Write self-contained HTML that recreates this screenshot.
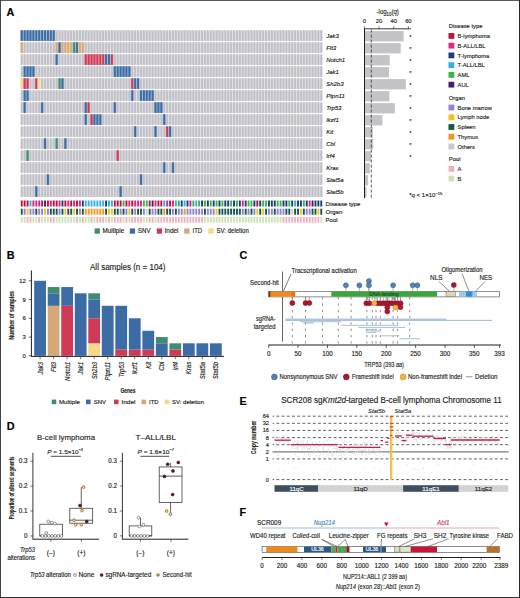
<!DOCTYPE html>
<html><head><meta charset="utf-8"><title>Figure</title>
<style>
html,body{margin:0;padding:0;background:#fff;}
svg{display:block;}
text{font-family:"Liberation Sans",sans-serif;fill:#231f20;stroke:#231f20;stroke-width:0.15px;}
</style></head><body>
<svg width="520" height="598" viewBox="0 0 520 598">
<rect x="0" y="0" width="520" height="598" fill="#fff"/>
<text x="6.60" y="15.80" font-size="10.8" font-weight="bold" style="fill:#000;stroke:#000">A</text>
<rect x="20.60" y="30.30" width="301.82" height="10.60" fill="#e3e3e8" />
<rect x="20.30" y="30.30" width="2.90" height="10.60" fill="#93aece" />
<rect x="20.80" y="30.30" width="1.90" height="10.60" fill="#3b6ca6" />
<rect x="23.21" y="30.30" width="2.90" height="10.60" fill="#93aece" />
<rect x="23.71" y="30.30" width="1.90" height="10.60" fill="#3b6ca6" />
<rect x="26.12" y="30.30" width="2.90" height="10.60" fill="#93aece" />
<rect x="26.62" y="30.30" width="1.90" height="10.60" fill="#3b6ca6" />
<rect x="29.02" y="30.30" width="2.90" height="10.60" fill="#93aece" />
<rect x="29.52" y="30.30" width="1.90" height="10.60" fill="#3b6ca6" />
<rect x="31.93" y="30.30" width="2.90" height="10.60" fill="#93aece" />
<rect x="32.43" y="30.30" width="1.90" height="10.60" fill="#3b6ca6" />
<rect x="34.84" y="30.30" width="2.90" height="10.60" fill="#93aece" />
<rect x="35.34" y="30.30" width="1.90" height="10.60" fill="#3b6ca6" />
<rect x="37.75" y="30.30" width="2.90" height="10.60" fill="#93aece" />
<rect x="38.25" y="30.30" width="1.90" height="10.60" fill="#3b6ca6" />
<rect x="40.66" y="30.30" width="2.90" height="10.60" fill="#93aece" />
<rect x="41.16" y="30.30" width="1.90" height="10.60" fill="#3b6ca6" />
<rect x="43.56" y="30.30" width="2.90" height="10.60" fill="#93aece" />
<rect x="44.06" y="30.30" width="1.90" height="10.60" fill="#3b6ca6" />
<rect x="46.47" y="30.30" width="2.90" height="10.60" fill="#93aece" />
<rect x="46.97" y="30.30" width="1.90" height="10.60" fill="#3b6ca6" />
<rect x="49.38" y="30.30" width="2.90" height="10.60" fill="#93aece" />
<rect x="49.88" y="30.30" width="1.90" height="10.60" fill="#3b6ca6" />
<rect x="52.29" y="30.30" width="2.90" height="10.60" fill="#93aece" />
<rect x="52.79" y="30.30" width="1.90" height="10.60" fill="#3b6ca6" />
<rect x="55.70" y="30.30" width="1.90" height="10.60" fill="#bfbfc5" />
<rect x="58.60" y="30.30" width="1.90" height="10.60" fill="#bfbfc5" />
<rect x="61.51" y="30.30" width="1.90" height="10.60" fill="#bfbfc5" />
<rect x="64.42" y="30.30" width="1.90" height="10.60" fill="#bfbfc5" />
<rect x="67.33" y="30.30" width="1.90" height="10.60" fill="#bfbfc5" />
<rect x="70.24" y="30.30" width="1.90" height="10.60" fill="#bfbfc5" />
<rect x="73.14" y="30.30" width="1.90" height="10.60" fill="#bfbfc5" />
<rect x="76.05" y="30.30" width="1.90" height="10.60" fill="#bfbfc5" />
<rect x="78.96" y="30.30" width="1.90" height="10.60" fill="#bfbfc5" />
<rect x="81.87" y="30.30" width="1.90" height="10.60" fill="#bfbfc5" />
<rect x="84.78" y="30.30" width="1.90" height="10.60" fill="#bfbfc5" />
<rect x="87.68" y="30.30" width="1.90" height="10.60" fill="#bfbfc5" />
<rect x="90.59" y="30.30" width="1.90" height="10.60" fill="#bfbfc5" />
<rect x="93.50" y="30.30" width="1.90" height="10.60" fill="#bfbfc5" />
<rect x="96.41" y="30.30" width="1.90" height="10.60" fill="#bfbfc5" />
<rect x="99.32" y="30.30" width="1.90" height="10.60" fill="#bfbfc5" />
<rect x="102.22" y="30.30" width="1.90" height="10.60" fill="#bfbfc5" />
<rect x="105.13" y="30.30" width="1.90" height="10.60" fill="#bfbfc5" />
<rect x="108.04" y="30.30" width="1.90" height="10.60" fill="#bfbfc5" />
<rect x="110.95" y="30.30" width="1.90" height="10.60" fill="#bfbfc5" />
<rect x="113.86" y="30.30" width="1.90" height="10.60" fill="#bfbfc5" />
<rect x="116.76" y="30.30" width="1.90" height="10.60" fill="#bfbfc5" />
<rect x="119.67" y="30.30" width="1.90" height="10.60" fill="#bfbfc5" />
<rect x="122.58" y="30.30" width="1.90" height="10.60" fill="#bfbfc5" />
<rect x="125.49" y="30.30" width="1.90" height="10.60" fill="#bfbfc5" />
<rect x="128.40" y="30.30" width="1.90" height="10.60" fill="#bfbfc5" />
<rect x="131.30" y="30.30" width="1.90" height="10.60" fill="#bfbfc5" />
<rect x="134.21" y="30.30" width="1.90" height="10.60" fill="#bfbfc5" />
<rect x="137.12" y="30.30" width="1.90" height="10.60" fill="#bfbfc5" />
<rect x="140.03" y="30.30" width="1.90" height="10.60" fill="#bfbfc5" />
<rect x="142.94" y="30.30" width="1.90" height="10.60" fill="#bfbfc5" />
<rect x="145.84" y="30.30" width="1.90" height="10.60" fill="#bfbfc5" />
<rect x="148.75" y="30.30" width="1.90" height="10.60" fill="#bfbfc5" />
<rect x="151.66" y="30.30" width="1.90" height="10.60" fill="#bfbfc5" />
<rect x="154.57" y="30.30" width="1.90" height="10.60" fill="#bfbfc5" />
<rect x="157.48" y="30.30" width="1.90" height="10.60" fill="#bfbfc5" />
<rect x="160.38" y="30.30" width="1.90" height="10.60" fill="#bfbfc5" />
<rect x="163.29" y="30.30" width="1.90" height="10.60" fill="#bfbfc5" />
<rect x="166.20" y="30.30" width="1.90" height="10.60" fill="#bfbfc5" />
<rect x="169.11" y="30.30" width="1.90" height="10.60" fill="#bfbfc5" />
<rect x="172.02" y="30.30" width="1.90" height="10.60" fill="#bfbfc5" />
<rect x="174.92" y="30.30" width="1.90" height="10.60" fill="#bfbfc5" />
<rect x="177.83" y="30.30" width="1.90" height="10.60" fill="#bfbfc5" />
<rect x="180.74" y="30.30" width="1.90" height="10.60" fill="#bfbfc5" />
<rect x="183.65" y="30.30" width="1.90" height="10.60" fill="#bfbfc5" />
<rect x="186.56" y="30.30" width="1.90" height="10.60" fill="#bfbfc5" />
<rect x="189.46" y="30.30" width="1.90" height="10.60" fill="#bfbfc5" />
<rect x="192.37" y="30.30" width="1.90" height="10.60" fill="#bfbfc5" />
<rect x="195.28" y="30.30" width="1.90" height="10.60" fill="#bfbfc5" />
<rect x="198.19" y="30.30" width="1.90" height="10.60" fill="#bfbfc5" />
<rect x="201.10" y="30.30" width="1.90" height="10.60" fill="#bfbfc5" />
<rect x="204.00" y="30.30" width="1.90" height="10.60" fill="#bfbfc5" />
<rect x="206.91" y="30.30" width="1.90" height="10.60" fill="#bfbfc5" />
<rect x="209.82" y="30.30" width="1.90" height="10.60" fill="#bfbfc5" />
<rect x="212.73" y="30.30" width="1.90" height="10.60" fill="#bfbfc5" />
<rect x="215.64" y="30.30" width="1.90" height="10.60" fill="#bfbfc5" />
<rect x="218.54" y="30.30" width="1.90" height="10.60" fill="#bfbfc5" />
<rect x="221.45" y="30.30" width="1.90" height="10.60" fill="#bfbfc5" />
<rect x="224.36" y="30.30" width="1.90" height="10.60" fill="#bfbfc5" />
<rect x="227.27" y="30.30" width="1.90" height="10.60" fill="#bfbfc5" />
<rect x="230.18" y="30.30" width="1.90" height="10.60" fill="#bfbfc5" />
<rect x="233.08" y="30.30" width="1.90" height="10.60" fill="#bfbfc5" />
<rect x="235.99" y="30.30" width="1.90" height="10.60" fill="#bfbfc5" />
<rect x="238.90" y="30.30" width="1.90" height="10.60" fill="#bfbfc5" />
<rect x="241.81" y="30.30" width="1.90" height="10.60" fill="#bfbfc5" />
<rect x="244.72" y="30.30" width="1.90" height="10.60" fill="#bfbfc5" />
<rect x="247.62" y="30.30" width="1.90" height="10.60" fill="#bfbfc5" />
<rect x="250.53" y="30.30" width="1.90" height="10.60" fill="#bfbfc5" />
<rect x="253.44" y="30.30" width="1.90" height="10.60" fill="#bfbfc5" />
<rect x="256.35" y="30.30" width="1.90" height="10.60" fill="#bfbfc5" />
<rect x="259.26" y="30.30" width="1.90" height="10.60" fill="#bfbfc5" />
<rect x="262.16" y="30.30" width="1.90" height="10.60" fill="#bfbfc5" />
<rect x="265.07" y="30.30" width="1.90" height="10.60" fill="#bfbfc5" />
<rect x="267.98" y="30.30" width="1.90" height="10.60" fill="#bfbfc5" />
<rect x="270.89" y="30.30" width="1.90" height="10.60" fill="#bfbfc5" />
<rect x="273.80" y="30.30" width="1.90" height="10.60" fill="#bfbfc5" />
<rect x="276.70" y="30.30" width="1.90" height="10.60" fill="#bfbfc5" />
<rect x="279.61" y="30.30" width="1.90" height="10.60" fill="#bfbfc5" />
<rect x="282.52" y="30.30" width="1.90" height="10.60" fill="#bfbfc5" />
<rect x="285.43" y="30.30" width="1.90" height="10.60" fill="#bfbfc5" />
<rect x="288.34" y="30.30" width="1.90" height="10.60" fill="#bfbfc5" />
<rect x="291.24" y="30.30" width="1.90" height="10.60" fill="#bfbfc5" />
<rect x="294.15" y="30.30" width="1.90" height="10.60" fill="#bfbfc5" />
<rect x="297.06" y="30.30" width="1.90" height="10.60" fill="#bfbfc5" />
<rect x="299.97" y="30.30" width="1.90" height="10.60" fill="#bfbfc5" />
<rect x="302.88" y="30.30" width="1.90" height="10.60" fill="#bfbfc5" />
<rect x="305.78" y="30.30" width="1.90" height="10.60" fill="#bfbfc5" />
<rect x="308.69" y="30.30" width="1.90" height="10.60" fill="#bfbfc5" />
<rect x="311.60" y="30.30" width="1.90" height="10.60" fill="#bfbfc5" />
<rect x="314.51" y="30.30" width="1.90" height="10.60" fill="#bfbfc5" />
<rect x="317.42" y="30.30" width="1.90" height="10.60" fill="#bfbfc5" />
<rect x="320.32" y="30.30" width="1.90" height="10.60" fill="#bfbfc5" />
<text x="326.20" y="37.70" font-size="6" font-style="italic">Jak3</text>
<rect x="20.60" y="42.30" width="301.82" height="10.60" fill="#e3e3e8" />
<rect x="20.30" y="42.30" width="2.90" height="10.60" fill="#e8cfb4" />
<rect x="20.80" y="42.30" width="1.90" height="10.60" fill="#d6a878" />
<rect x="23.71" y="42.30" width="1.90" height="10.60" fill="#bfbfc5" />
<rect x="26.62" y="42.30" width="1.90" height="10.60" fill="#bfbfc5" />
<rect x="29.52" y="42.30" width="1.90" height="10.60" fill="#bfbfc5" />
<rect x="32.43" y="42.30" width="1.90" height="10.60" fill="#bfbfc5" />
<rect x="35.34" y="42.30" width="1.90" height="10.60" fill="#bfbfc5" />
<rect x="38.25" y="42.30" width="1.90" height="10.60" fill="#bfbfc5" />
<rect x="41.16" y="42.30" width="1.90" height="10.60" fill="#bfbfc5" />
<rect x="44.06" y="42.30" width="1.90" height="10.60" fill="#bfbfc5" />
<rect x="46.97" y="42.30" width="1.90" height="10.60" fill="#bfbfc5" />
<rect x="49.88" y="42.30" width="1.90" height="10.60" fill="#bfbfc5" />
<rect x="52.79" y="42.30" width="1.90" height="10.60" fill="#bfbfc5" />
<rect x="55.20" y="42.30" width="2.90" height="10.60" fill="#e8cfb4" />
<rect x="55.70" y="42.30" width="1.90" height="10.60" fill="#d6a878" />
<rect x="58.10" y="42.30" width="2.90" height="10.60" fill="#93aece" />
<rect x="58.60" y="42.30" width="1.90" height="10.60" fill="#3b6ca6" />
<rect x="61.01" y="42.30" width="2.90" height="10.60" fill="#e8cfb4" />
<rect x="61.51" y="42.30" width="1.90" height="10.60" fill="#d6a878" />
<rect x="63.92" y="42.30" width="2.90" height="10.60" fill="#e8cfb4" />
<rect x="64.42" y="42.30" width="1.90" height="10.60" fill="#d6a878" />
<rect x="66.83" y="42.30" width="2.90" height="10.60" fill="#e8cfb4" />
<rect x="67.33" y="42.30" width="1.90" height="10.60" fill="#d6a878" />
<rect x="69.74" y="42.30" width="2.90" height="10.60" fill="#e8cfb4" />
<rect x="70.24" y="42.30" width="1.90" height="10.60" fill="#d6a878" />
<rect x="72.64" y="42.30" width="2.90" height="10.60" fill="#95bfaf" />
<rect x="73.14" y="42.30" width="1.90" height="10.60" fill="#3f8c6f" />
<rect x="75.55" y="42.30" width="2.90" height="10.60" fill="#93aece" />
<rect x="76.05" y="42.30" width="1.90" height="10.60" fill="#3b6ca6" />
<rect x="78.46" y="42.30" width="2.90" height="10.60" fill="#e8cfb4" />
<rect x="78.96" y="42.30" width="1.90" height="10.60" fill="#d6a878" />
<rect x="81.37" y="42.30" width="2.90" height="10.60" fill="#e8cfb4" />
<rect x="81.87" y="42.30" width="1.90" height="10.60" fill="#d6a878" />
<rect x="84.78" y="42.30" width="1.90" height="10.60" fill="#bfbfc5" />
<rect x="87.68" y="42.30" width="1.90" height="10.60" fill="#bfbfc5" />
<rect x="90.59" y="42.30" width="1.90" height="10.60" fill="#bfbfc5" />
<rect x="93.50" y="42.30" width="1.90" height="10.60" fill="#bfbfc5" />
<rect x="96.41" y="42.30" width="1.90" height="10.60" fill="#bfbfc5" />
<rect x="99.32" y="42.30" width="1.90" height="10.60" fill="#bfbfc5" />
<rect x="102.22" y="42.30" width="1.90" height="10.60" fill="#bfbfc5" />
<rect x="105.13" y="42.30" width="1.90" height="10.60" fill="#bfbfc5" />
<rect x="108.04" y="42.30" width="1.90" height="10.60" fill="#bfbfc5" />
<rect x="110.95" y="42.30" width="1.90" height="10.60" fill="#bfbfc5" />
<rect x="113.86" y="42.30" width="1.90" height="10.60" fill="#bfbfc5" />
<rect x="116.76" y="42.30" width="1.90" height="10.60" fill="#bfbfc5" />
<rect x="119.67" y="42.30" width="1.90" height="10.60" fill="#bfbfc5" />
<rect x="122.58" y="42.30" width="1.90" height="10.60" fill="#bfbfc5" />
<rect x="125.49" y="42.30" width="1.90" height="10.60" fill="#bfbfc5" />
<rect x="128.40" y="42.30" width="1.90" height="10.60" fill="#bfbfc5" />
<rect x="131.30" y="42.30" width="1.90" height="10.60" fill="#bfbfc5" />
<rect x="134.21" y="42.30" width="1.90" height="10.60" fill="#bfbfc5" />
<rect x="137.12" y="42.30" width="1.90" height="10.60" fill="#bfbfc5" />
<rect x="140.03" y="42.30" width="1.90" height="10.60" fill="#bfbfc5" />
<rect x="142.94" y="42.30" width="1.90" height="10.60" fill="#bfbfc5" />
<rect x="145.84" y="42.30" width="1.90" height="10.60" fill="#bfbfc5" />
<rect x="148.75" y="42.30" width="1.90" height="10.60" fill="#bfbfc5" />
<rect x="151.66" y="42.30" width="1.90" height="10.60" fill="#bfbfc5" />
<rect x="154.57" y="42.30" width="1.90" height="10.60" fill="#bfbfc5" />
<rect x="157.48" y="42.30" width="1.90" height="10.60" fill="#bfbfc5" />
<rect x="160.38" y="42.30" width="1.90" height="10.60" fill="#bfbfc5" />
<rect x="163.29" y="42.30" width="1.90" height="10.60" fill="#bfbfc5" />
<rect x="166.20" y="42.30" width="1.90" height="10.60" fill="#bfbfc5" />
<rect x="169.11" y="42.30" width="1.90" height="10.60" fill="#bfbfc5" />
<rect x="172.02" y="42.30" width="1.90" height="10.60" fill="#bfbfc5" />
<rect x="174.92" y="42.30" width="1.90" height="10.60" fill="#bfbfc5" />
<rect x="177.83" y="42.30" width="1.90" height="10.60" fill="#bfbfc5" />
<rect x="180.74" y="42.30" width="1.90" height="10.60" fill="#bfbfc5" />
<rect x="183.65" y="42.30" width="1.90" height="10.60" fill="#bfbfc5" />
<rect x="186.56" y="42.30" width="1.90" height="10.60" fill="#bfbfc5" />
<rect x="189.46" y="42.30" width="1.90" height="10.60" fill="#bfbfc5" />
<rect x="192.37" y="42.30" width="1.90" height="10.60" fill="#bfbfc5" />
<rect x="195.28" y="42.30" width="1.90" height="10.60" fill="#bfbfc5" />
<rect x="198.19" y="42.30" width="1.90" height="10.60" fill="#bfbfc5" />
<rect x="201.10" y="42.30" width="1.90" height="10.60" fill="#bfbfc5" />
<rect x="204.00" y="42.30" width="1.90" height="10.60" fill="#bfbfc5" />
<rect x="206.91" y="42.30" width="1.90" height="10.60" fill="#bfbfc5" />
<rect x="209.82" y="42.30" width="1.90" height="10.60" fill="#bfbfc5" />
<rect x="212.73" y="42.30" width="1.90" height="10.60" fill="#bfbfc5" />
<rect x="215.64" y="42.30" width="1.90" height="10.60" fill="#bfbfc5" />
<rect x="218.54" y="42.30" width="1.90" height="10.60" fill="#bfbfc5" />
<rect x="221.45" y="42.30" width="1.90" height="10.60" fill="#bfbfc5" />
<rect x="224.36" y="42.30" width="1.90" height="10.60" fill="#bfbfc5" />
<rect x="227.27" y="42.30" width="1.90" height="10.60" fill="#bfbfc5" />
<rect x="230.18" y="42.30" width="1.90" height="10.60" fill="#bfbfc5" />
<rect x="233.08" y="42.30" width="1.90" height="10.60" fill="#bfbfc5" />
<rect x="235.99" y="42.30" width="1.90" height="10.60" fill="#bfbfc5" />
<rect x="238.90" y="42.30" width="1.90" height="10.60" fill="#bfbfc5" />
<rect x="241.81" y="42.30" width="1.90" height="10.60" fill="#bfbfc5" />
<rect x="244.72" y="42.30" width="1.90" height="10.60" fill="#bfbfc5" />
<rect x="247.62" y="42.30" width="1.90" height="10.60" fill="#bfbfc5" />
<rect x="250.53" y="42.30" width="1.90" height="10.60" fill="#bfbfc5" />
<rect x="253.44" y="42.30" width="1.90" height="10.60" fill="#bfbfc5" />
<rect x="256.35" y="42.30" width="1.90" height="10.60" fill="#bfbfc5" />
<rect x="259.26" y="42.30" width="1.90" height="10.60" fill="#bfbfc5" />
<rect x="262.16" y="42.30" width="1.90" height="10.60" fill="#bfbfc5" />
<rect x="265.07" y="42.30" width="1.90" height="10.60" fill="#bfbfc5" />
<rect x="267.98" y="42.30" width="1.90" height="10.60" fill="#bfbfc5" />
<rect x="270.89" y="42.30" width="1.90" height="10.60" fill="#bfbfc5" />
<rect x="273.80" y="42.30" width="1.90" height="10.60" fill="#bfbfc5" />
<rect x="276.70" y="42.30" width="1.90" height="10.60" fill="#bfbfc5" />
<rect x="279.61" y="42.30" width="1.90" height="10.60" fill="#bfbfc5" />
<rect x="282.52" y="42.30" width="1.90" height="10.60" fill="#bfbfc5" />
<rect x="285.43" y="42.30" width="1.90" height="10.60" fill="#bfbfc5" />
<rect x="288.34" y="42.30" width="1.90" height="10.60" fill="#bfbfc5" />
<rect x="291.24" y="42.30" width="1.90" height="10.60" fill="#bfbfc5" />
<rect x="294.15" y="42.30" width="1.90" height="10.60" fill="#bfbfc5" />
<rect x="297.06" y="42.30" width="1.90" height="10.60" fill="#bfbfc5" />
<rect x="299.97" y="42.30" width="1.90" height="10.60" fill="#bfbfc5" />
<rect x="302.88" y="42.30" width="1.90" height="10.60" fill="#bfbfc5" />
<rect x="305.78" y="42.30" width="1.90" height="10.60" fill="#bfbfc5" />
<rect x="308.69" y="42.30" width="1.90" height="10.60" fill="#bfbfc5" />
<rect x="311.60" y="42.30" width="1.90" height="10.60" fill="#bfbfc5" />
<rect x="314.51" y="42.30" width="1.90" height="10.60" fill="#bfbfc5" />
<rect x="317.42" y="42.30" width="1.90" height="10.60" fill="#bfbfc5" />
<rect x="320.32" y="42.30" width="1.90" height="10.60" fill="#bfbfc5" />
<text x="326.20" y="49.70" font-size="6" font-style="italic">Flt3</text>
<rect x="20.60" y="54.30" width="301.82" height="10.60" fill="#e3e3e8" />
<rect x="20.80" y="54.30" width="1.90" height="10.60" fill="#bfbfc5" />
<rect x="23.71" y="54.30" width="1.90" height="10.60" fill="#bfbfc5" />
<rect x="26.62" y="54.30" width="1.90" height="10.60" fill="#bfbfc5" />
<rect x="29.52" y="54.30" width="1.90" height="10.60" fill="#bfbfc5" />
<rect x="32.43" y="54.30" width="1.90" height="10.60" fill="#bfbfc5" />
<rect x="35.34" y="54.30" width="1.90" height="10.60" fill="#bfbfc5" />
<rect x="38.25" y="54.30" width="1.90" height="10.60" fill="#bfbfc5" />
<rect x="41.16" y="54.30" width="1.90" height="10.60" fill="#bfbfc5" />
<rect x="44.06" y="54.30" width="1.90" height="10.60" fill="#bfbfc5" />
<rect x="46.97" y="54.30" width="1.90" height="10.60" fill="#bfbfc5" />
<rect x="49.88" y="54.30" width="1.90" height="10.60" fill="#bfbfc5" />
<rect x="52.79" y="54.30" width="1.90" height="10.60" fill="#bfbfc5" />
<rect x="55.20" y="54.30" width="2.90" height="10.60" fill="#93aece" />
<rect x="55.70" y="54.30" width="1.90" height="10.60" fill="#3b6ca6" />
<rect x="58.60" y="54.30" width="1.90" height="10.60" fill="#bfbfc5" />
<rect x="61.51" y="54.30" width="1.90" height="10.60" fill="#bfbfc5" />
<rect x="64.42" y="54.30" width="1.90" height="10.60" fill="#bfbfc5" />
<rect x="67.33" y="54.30" width="1.90" height="10.60" fill="#bfbfc5" />
<rect x="70.24" y="54.30" width="1.90" height="10.60" fill="#bfbfc5" />
<rect x="73.14" y="54.30" width="1.90" height="10.60" fill="#bfbfc5" />
<rect x="76.05" y="54.30" width="1.90" height="10.60" fill="#bfbfc5" />
<rect x="78.96" y="54.30" width="1.90" height="10.60" fill="#bfbfc5" />
<rect x="81.87" y="54.30" width="1.90" height="10.60" fill="#bfbfc5" />
<rect x="84.28" y="54.30" width="2.90" height="10.60" fill="#e493a2" />
<rect x="84.78" y="54.30" width="1.90" height="10.60" fill="#cf3b57" />
<rect x="87.18" y="54.30" width="2.90" height="10.60" fill="#e493a2" />
<rect x="87.68" y="54.30" width="1.90" height="10.60" fill="#cf3b57" />
<rect x="90.09" y="54.30" width="2.90" height="10.60" fill="#e493a2" />
<rect x="90.59" y="54.30" width="1.90" height="10.60" fill="#cf3b57" />
<rect x="93.00" y="54.30" width="2.90" height="10.60" fill="#e493a2" />
<rect x="93.50" y="54.30" width="1.90" height="10.60" fill="#cf3b57" />
<rect x="95.91" y="54.30" width="2.90" height="10.60" fill="#e493a2" />
<rect x="96.41" y="54.30" width="1.90" height="10.60" fill="#cf3b57" />
<rect x="98.82" y="54.30" width="2.90" height="10.60" fill="#e493a2" />
<rect x="99.32" y="54.30" width="1.90" height="10.60" fill="#cf3b57" />
<rect x="101.72" y="54.30" width="2.90" height="10.60" fill="#e493a2" />
<rect x="102.22" y="54.30" width="1.90" height="10.60" fill="#cf3b57" />
<rect x="104.63" y="54.30" width="2.90" height="10.60" fill="#93aece" />
<rect x="105.13" y="54.30" width="1.90" height="10.60" fill="#3b6ca6" />
<rect x="107.54" y="54.30" width="2.90" height="10.60" fill="#93aece" />
<rect x="108.04" y="54.30" width="1.90" height="10.60" fill="#3b6ca6" />
<rect x="110.45" y="54.30" width="2.90" height="10.60" fill="#e493a2" />
<rect x="110.95" y="54.30" width="1.90" height="10.60" fill="#cf3b57" />
<rect x="113.86" y="54.30" width="1.90" height="10.60" fill="#bfbfc5" />
<rect x="116.76" y="54.30" width="1.90" height="10.60" fill="#bfbfc5" />
<rect x="119.67" y="54.30" width="1.90" height="10.60" fill="#bfbfc5" />
<rect x="122.58" y="54.30" width="1.90" height="10.60" fill="#bfbfc5" />
<rect x="125.49" y="54.30" width="1.90" height="10.60" fill="#bfbfc5" />
<rect x="128.40" y="54.30" width="1.90" height="10.60" fill="#bfbfc5" />
<rect x="131.30" y="54.30" width="1.90" height="10.60" fill="#bfbfc5" />
<rect x="134.21" y="54.30" width="1.90" height="10.60" fill="#bfbfc5" />
<rect x="137.12" y="54.30" width="1.90" height="10.60" fill="#bfbfc5" />
<rect x="140.03" y="54.30" width="1.90" height="10.60" fill="#bfbfc5" />
<rect x="142.94" y="54.30" width="1.90" height="10.60" fill="#bfbfc5" />
<rect x="145.84" y="54.30" width="1.90" height="10.60" fill="#bfbfc5" />
<rect x="148.75" y="54.30" width="1.90" height="10.60" fill="#bfbfc5" />
<rect x="151.66" y="54.30" width="1.90" height="10.60" fill="#bfbfc5" />
<rect x="154.57" y="54.30" width="1.90" height="10.60" fill="#bfbfc5" />
<rect x="157.48" y="54.30" width="1.90" height="10.60" fill="#bfbfc5" />
<rect x="160.38" y="54.30" width="1.90" height="10.60" fill="#bfbfc5" />
<rect x="163.29" y="54.30" width="1.90" height="10.60" fill="#bfbfc5" />
<rect x="166.20" y="54.30" width="1.90" height="10.60" fill="#bfbfc5" />
<rect x="169.11" y="54.30" width="1.90" height="10.60" fill="#bfbfc5" />
<rect x="172.02" y="54.30" width="1.90" height="10.60" fill="#bfbfc5" />
<rect x="174.92" y="54.30" width="1.90" height="10.60" fill="#bfbfc5" />
<rect x="177.83" y="54.30" width="1.90" height="10.60" fill="#bfbfc5" />
<rect x="180.74" y="54.30" width="1.90" height="10.60" fill="#bfbfc5" />
<rect x="183.65" y="54.30" width="1.90" height="10.60" fill="#bfbfc5" />
<rect x="186.56" y="54.30" width="1.90" height="10.60" fill="#bfbfc5" />
<rect x="189.46" y="54.30" width="1.90" height="10.60" fill="#bfbfc5" />
<rect x="192.37" y="54.30" width="1.90" height="10.60" fill="#bfbfc5" />
<rect x="195.28" y="54.30" width="1.90" height="10.60" fill="#bfbfc5" />
<rect x="198.19" y="54.30" width="1.90" height="10.60" fill="#bfbfc5" />
<rect x="201.10" y="54.30" width="1.90" height="10.60" fill="#bfbfc5" />
<rect x="204.00" y="54.30" width="1.90" height="10.60" fill="#bfbfc5" />
<rect x="206.91" y="54.30" width="1.90" height="10.60" fill="#bfbfc5" />
<rect x="209.82" y="54.30" width="1.90" height="10.60" fill="#bfbfc5" />
<rect x="212.73" y="54.30" width="1.90" height="10.60" fill="#bfbfc5" />
<rect x="215.64" y="54.30" width="1.90" height="10.60" fill="#bfbfc5" />
<rect x="218.54" y="54.30" width="1.90" height="10.60" fill="#bfbfc5" />
<rect x="221.45" y="54.30" width="1.90" height="10.60" fill="#bfbfc5" />
<rect x="224.36" y="54.30" width="1.90" height="10.60" fill="#bfbfc5" />
<rect x="227.27" y="54.30" width="1.90" height="10.60" fill="#bfbfc5" />
<rect x="230.18" y="54.30" width="1.90" height="10.60" fill="#bfbfc5" />
<rect x="233.08" y="54.30" width="1.90" height="10.60" fill="#bfbfc5" />
<rect x="235.99" y="54.30" width="1.90" height="10.60" fill="#bfbfc5" />
<rect x="238.90" y="54.30" width="1.90" height="10.60" fill="#bfbfc5" />
<rect x="241.81" y="54.30" width="1.90" height="10.60" fill="#bfbfc5" />
<rect x="244.72" y="54.30" width="1.90" height="10.60" fill="#bfbfc5" />
<rect x="247.62" y="54.30" width="1.90" height="10.60" fill="#bfbfc5" />
<rect x="250.53" y="54.30" width="1.90" height="10.60" fill="#bfbfc5" />
<rect x="253.44" y="54.30" width="1.90" height="10.60" fill="#bfbfc5" />
<rect x="256.35" y="54.30" width="1.90" height="10.60" fill="#bfbfc5" />
<rect x="259.26" y="54.30" width="1.90" height="10.60" fill="#bfbfc5" />
<rect x="262.16" y="54.30" width="1.90" height="10.60" fill="#bfbfc5" />
<rect x="265.07" y="54.30" width="1.90" height="10.60" fill="#bfbfc5" />
<rect x="267.98" y="54.30" width="1.90" height="10.60" fill="#bfbfc5" />
<rect x="270.89" y="54.30" width="1.90" height="10.60" fill="#bfbfc5" />
<rect x="273.80" y="54.30" width="1.90" height="10.60" fill="#bfbfc5" />
<rect x="276.70" y="54.30" width="1.90" height="10.60" fill="#bfbfc5" />
<rect x="279.61" y="54.30" width="1.90" height="10.60" fill="#bfbfc5" />
<rect x="282.52" y="54.30" width="1.90" height="10.60" fill="#bfbfc5" />
<rect x="285.43" y="54.30" width="1.90" height="10.60" fill="#bfbfc5" />
<rect x="288.34" y="54.30" width="1.90" height="10.60" fill="#bfbfc5" />
<rect x="291.24" y="54.30" width="1.90" height="10.60" fill="#bfbfc5" />
<rect x="294.15" y="54.30" width="1.90" height="10.60" fill="#bfbfc5" />
<rect x="297.06" y="54.30" width="1.90" height="10.60" fill="#bfbfc5" />
<rect x="299.97" y="54.30" width="1.90" height="10.60" fill="#bfbfc5" />
<rect x="302.88" y="54.30" width="1.90" height="10.60" fill="#bfbfc5" />
<rect x="305.78" y="54.30" width="1.90" height="10.60" fill="#bfbfc5" />
<rect x="308.69" y="54.30" width="1.90" height="10.60" fill="#bfbfc5" />
<rect x="311.60" y="54.30" width="1.90" height="10.60" fill="#bfbfc5" />
<rect x="314.51" y="54.30" width="1.90" height="10.60" fill="#bfbfc5" />
<rect x="317.42" y="54.30" width="1.90" height="10.60" fill="#bfbfc5" />
<rect x="320.32" y="54.30" width="1.90" height="10.60" fill="#bfbfc5" />
<text x="326.20" y="61.70" font-size="6" font-style="italic">Notch1</text>
<rect x="20.60" y="66.30" width="301.82" height="10.60" fill="#e3e3e8" />
<rect x="20.80" y="66.30" width="1.90" height="10.60" fill="#bfbfc5" />
<rect x="23.21" y="66.30" width="2.90" height="10.60" fill="#93aece" />
<rect x="23.71" y="66.30" width="1.90" height="10.60" fill="#3b6ca6" />
<rect x="26.12" y="66.30" width="2.90" height="10.60" fill="#93aece" />
<rect x="26.62" y="66.30" width="1.90" height="10.60" fill="#3b6ca6" />
<rect x="29.02" y="66.30" width="2.90" height="10.60" fill="#93aece" />
<rect x="29.52" y="66.30" width="1.90" height="10.60" fill="#3b6ca6" />
<rect x="31.93" y="66.30" width="2.90" height="10.60" fill="#93aece" />
<rect x="32.43" y="66.30" width="1.90" height="10.60" fill="#3b6ca6" />
<rect x="35.34" y="66.30" width="1.90" height="10.60" fill="#bfbfc5" />
<rect x="38.25" y="66.30" width="1.90" height="10.60" fill="#bfbfc5" />
<rect x="41.16" y="66.30" width="1.90" height="10.60" fill="#bfbfc5" />
<rect x="44.06" y="66.30" width="1.90" height="10.60" fill="#bfbfc5" />
<rect x="46.97" y="66.30" width="1.90" height="10.60" fill="#bfbfc5" />
<rect x="49.88" y="66.30" width="1.90" height="10.60" fill="#bfbfc5" />
<rect x="52.79" y="66.30" width="1.90" height="10.60" fill="#bfbfc5" />
<rect x="55.70" y="66.30" width="1.90" height="10.60" fill="#bfbfc5" />
<rect x="58.60" y="66.30" width="1.90" height="10.60" fill="#bfbfc5" />
<rect x="61.51" y="66.30" width="1.90" height="10.60" fill="#bfbfc5" />
<rect x="64.42" y="66.30" width="1.90" height="10.60" fill="#bfbfc5" />
<rect x="67.33" y="66.30" width="1.90" height="10.60" fill="#bfbfc5" />
<rect x="70.24" y="66.30" width="1.90" height="10.60" fill="#bfbfc5" />
<rect x="73.14" y="66.30" width="1.90" height="10.60" fill="#bfbfc5" />
<rect x="76.05" y="66.30" width="1.90" height="10.60" fill="#bfbfc5" />
<rect x="78.96" y="66.30" width="1.90" height="10.60" fill="#bfbfc5" />
<rect x="81.87" y="66.30" width="1.90" height="10.60" fill="#bfbfc5" />
<rect x="84.78" y="66.30" width="1.90" height="10.60" fill="#bfbfc5" />
<rect x="87.68" y="66.30" width="1.90" height="10.60" fill="#bfbfc5" />
<rect x="90.59" y="66.30" width="1.90" height="10.60" fill="#bfbfc5" />
<rect x="93.50" y="66.30" width="1.90" height="10.60" fill="#bfbfc5" />
<rect x="96.41" y="66.30" width="1.90" height="10.60" fill="#bfbfc5" />
<rect x="99.32" y="66.30" width="1.90" height="10.60" fill="#bfbfc5" />
<rect x="102.22" y="66.30" width="1.90" height="10.60" fill="#bfbfc5" />
<rect x="105.13" y="66.30" width="1.90" height="10.60" fill="#bfbfc5" />
<rect x="108.04" y="66.30" width="1.90" height="10.60" fill="#bfbfc5" />
<rect x="110.95" y="66.30" width="1.90" height="10.60" fill="#bfbfc5" />
<rect x="113.36" y="66.30" width="2.90" height="10.60" fill="#93aece" />
<rect x="113.86" y="66.30" width="1.90" height="10.60" fill="#3b6ca6" />
<rect x="116.26" y="66.30" width="2.90" height="10.60" fill="#93aece" />
<rect x="116.76" y="66.30" width="1.90" height="10.60" fill="#3b6ca6" />
<rect x="119.17" y="66.30" width="2.90" height="10.60" fill="#93aece" />
<rect x="119.67" y="66.30" width="1.90" height="10.60" fill="#3b6ca6" />
<rect x="122.08" y="66.30" width="2.90" height="10.60" fill="#93aece" />
<rect x="122.58" y="66.30" width="1.90" height="10.60" fill="#3b6ca6" />
<rect x="124.99" y="66.30" width="2.90" height="10.60" fill="#93aece" />
<rect x="125.49" y="66.30" width="1.90" height="10.60" fill="#3b6ca6" />
<rect x="127.90" y="66.30" width="2.90" height="10.60" fill="#93aece" />
<rect x="128.40" y="66.30" width="1.90" height="10.60" fill="#3b6ca6" />
<rect x="131.30" y="66.30" width="1.90" height="10.60" fill="#bfbfc5" />
<rect x="134.21" y="66.30" width="1.90" height="10.60" fill="#bfbfc5" />
<rect x="137.12" y="66.30" width="1.90" height="10.60" fill="#bfbfc5" />
<rect x="140.03" y="66.30" width="1.90" height="10.60" fill="#bfbfc5" />
<rect x="142.94" y="66.30" width="1.90" height="10.60" fill="#bfbfc5" />
<rect x="145.84" y="66.30" width="1.90" height="10.60" fill="#bfbfc5" />
<rect x="148.75" y="66.30" width="1.90" height="10.60" fill="#bfbfc5" />
<rect x="151.66" y="66.30" width="1.90" height="10.60" fill="#bfbfc5" />
<rect x="154.57" y="66.30" width="1.90" height="10.60" fill="#bfbfc5" />
<rect x="157.48" y="66.30" width="1.90" height="10.60" fill="#bfbfc5" />
<rect x="160.38" y="66.30" width="1.90" height="10.60" fill="#bfbfc5" />
<rect x="163.29" y="66.30" width="1.90" height="10.60" fill="#bfbfc5" />
<rect x="166.20" y="66.30" width="1.90" height="10.60" fill="#bfbfc5" />
<rect x="169.11" y="66.30" width="1.90" height="10.60" fill="#bfbfc5" />
<rect x="172.02" y="66.30" width="1.90" height="10.60" fill="#bfbfc5" />
<rect x="174.92" y="66.30" width="1.90" height="10.60" fill="#bfbfc5" />
<rect x="177.83" y="66.30" width="1.90" height="10.60" fill="#bfbfc5" />
<rect x="180.74" y="66.30" width="1.90" height="10.60" fill="#bfbfc5" />
<rect x="183.65" y="66.30" width="1.90" height="10.60" fill="#bfbfc5" />
<rect x="186.56" y="66.30" width="1.90" height="10.60" fill="#bfbfc5" />
<rect x="189.46" y="66.30" width="1.90" height="10.60" fill="#bfbfc5" />
<rect x="192.37" y="66.30" width="1.90" height="10.60" fill="#bfbfc5" />
<rect x="195.28" y="66.30" width="1.90" height="10.60" fill="#bfbfc5" />
<rect x="198.19" y="66.30" width="1.90" height="10.60" fill="#bfbfc5" />
<rect x="201.10" y="66.30" width="1.90" height="10.60" fill="#bfbfc5" />
<rect x="204.00" y="66.30" width="1.90" height="10.60" fill="#bfbfc5" />
<rect x="206.91" y="66.30" width="1.90" height="10.60" fill="#bfbfc5" />
<rect x="209.82" y="66.30" width="1.90" height="10.60" fill="#bfbfc5" />
<rect x="212.73" y="66.30" width="1.90" height="10.60" fill="#bfbfc5" />
<rect x="215.64" y="66.30" width="1.90" height="10.60" fill="#bfbfc5" />
<rect x="218.54" y="66.30" width="1.90" height="10.60" fill="#bfbfc5" />
<rect x="221.45" y="66.30" width="1.90" height="10.60" fill="#bfbfc5" />
<rect x="224.36" y="66.30" width="1.90" height="10.60" fill="#bfbfc5" />
<rect x="227.27" y="66.30" width="1.90" height="10.60" fill="#bfbfc5" />
<rect x="230.18" y="66.30" width="1.90" height="10.60" fill="#bfbfc5" />
<rect x="233.08" y="66.30" width="1.90" height="10.60" fill="#bfbfc5" />
<rect x="235.99" y="66.30" width="1.90" height="10.60" fill="#bfbfc5" />
<rect x="238.90" y="66.30" width="1.90" height="10.60" fill="#bfbfc5" />
<rect x="241.81" y="66.30" width="1.90" height="10.60" fill="#bfbfc5" />
<rect x="244.72" y="66.30" width="1.90" height="10.60" fill="#bfbfc5" />
<rect x="247.62" y="66.30" width="1.90" height="10.60" fill="#bfbfc5" />
<rect x="250.53" y="66.30" width="1.90" height="10.60" fill="#bfbfc5" />
<rect x="253.44" y="66.30" width="1.90" height="10.60" fill="#bfbfc5" />
<rect x="256.35" y="66.30" width="1.90" height="10.60" fill="#bfbfc5" />
<rect x="259.26" y="66.30" width="1.90" height="10.60" fill="#bfbfc5" />
<rect x="262.16" y="66.30" width="1.90" height="10.60" fill="#bfbfc5" />
<rect x="265.07" y="66.30" width="1.90" height="10.60" fill="#bfbfc5" />
<rect x="267.98" y="66.30" width="1.90" height="10.60" fill="#bfbfc5" />
<rect x="270.89" y="66.30" width="1.90" height="10.60" fill="#bfbfc5" />
<rect x="273.80" y="66.30" width="1.90" height="10.60" fill="#bfbfc5" />
<rect x="276.70" y="66.30" width="1.90" height="10.60" fill="#bfbfc5" />
<rect x="279.61" y="66.30" width="1.90" height="10.60" fill="#bfbfc5" />
<rect x="282.52" y="66.30" width="1.90" height="10.60" fill="#bfbfc5" />
<rect x="285.43" y="66.30" width="1.90" height="10.60" fill="#bfbfc5" />
<rect x="288.34" y="66.30" width="1.90" height="10.60" fill="#bfbfc5" />
<rect x="291.24" y="66.30" width="1.90" height="10.60" fill="#bfbfc5" />
<rect x="294.15" y="66.30" width="1.90" height="10.60" fill="#bfbfc5" />
<rect x="297.06" y="66.30" width="1.90" height="10.60" fill="#bfbfc5" />
<rect x="299.97" y="66.30" width="1.90" height="10.60" fill="#bfbfc5" />
<rect x="302.88" y="66.30" width="1.90" height="10.60" fill="#bfbfc5" />
<rect x="305.78" y="66.30" width="1.90" height="10.60" fill="#bfbfc5" />
<rect x="308.69" y="66.30" width="1.90" height="10.60" fill="#bfbfc5" />
<rect x="311.60" y="66.30" width="1.90" height="10.60" fill="#bfbfc5" />
<rect x="314.51" y="66.30" width="1.90" height="10.60" fill="#bfbfc5" />
<rect x="317.42" y="66.30" width="1.90" height="10.60" fill="#bfbfc5" />
<rect x="320.32" y="66.30" width="1.90" height="10.60" fill="#bfbfc5" />
<text x="326.20" y="73.70" font-size="6" font-style="italic">Jak1</text>
<rect x="20.60" y="78.30" width="301.82" height="10.60" fill="#e3e3e8" />
<rect x="20.30" y="78.30" width="2.90" height="10.60" fill="#f8eabf" />
<rect x="20.80" y="78.30" width="1.90" height="10.60" fill="#f4d98c" />
<rect x="23.21" y="78.30" width="2.90" height="10.60" fill="#e493a2" />
<rect x="23.71" y="78.30" width="1.90" height="10.60" fill="#cf3b57" />
<rect x="26.12" y="78.30" width="2.90" height="10.60" fill="#e493a2" />
<rect x="26.62" y="78.30" width="1.90" height="10.60" fill="#cf3b57" />
<rect x="29.52" y="78.30" width="1.90" height="10.60" fill="#bfbfc5" />
<rect x="32.43" y="78.30" width="1.90" height="10.60" fill="#bfbfc5" />
<rect x="34.84" y="78.30" width="2.90" height="10.60" fill="#e493a2" />
<rect x="35.34" y="78.30" width="1.90" height="10.60" fill="#cf3b57" />
<rect x="37.75" y="78.30" width="2.90" height="10.60" fill="#f8eabf" />
<rect x="38.25" y="78.30" width="1.90" height="10.60" fill="#f4d98c" />
<rect x="41.16" y="78.30" width="1.90" height="10.60" fill="#bfbfc5" />
<rect x="44.06" y="78.30" width="1.90" height="10.60" fill="#bfbfc5" />
<rect x="46.97" y="78.30" width="1.90" height="10.60" fill="#bfbfc5" />
<rect x="49.88" y="78.30" width="1.90" height="10.60" fill="#bfbfc5" />
<rect x="52.79" y="78.30" width="1.90" height="10.60" fill="#bfbfc5" />
<rect x="55.70" y="78.30" width="1.90" height="10.60" fill="#bfbfc5" />
<rect x="58.10" y="78.30" width="2.90" height="10.60" fill="#95bfaf" />
<rect x="58.60" y="78.30" width="1.90" height="10.60" fill="#3f8c6f" />
<rect x="61.01" y="78.30" width="2.90" height="10.60" fill="#93aece" />
<rect x="61.51" y="78.30" width="1.90" height="10.60" fill="#3b6ca6" />
<rect x="64.42" y="78.30" width="1.90" height="10.60" fill="#bfbfc5" />
<rect x="67.33" y="78.30" width="1.90" height="10.60" fill="#bfbfc5" />
<rect x="70.24" y="78.30" width="1.90" height="10.60" fill="#bfbfc5" />
<rect x="73.14" y="78.30" width="1.90" height="10.60" fill="#bfbfc5" />
<rect x="76.05" y="78.30" width="1.90" height="10.60" fill="#bfbfc5" />
<rect x="78.96" y="78.30" width="1.90" height="10.60" fill="#bfbfc5" />
<rect x="81.87" y="78.30" width="1.90" height="10.60" fill="#bfbfc5" />
<rect x="84.78" y="78.30" width="1.90" height="10.60" fill="#bfbfc5" />
<rect x="87.68" y="78.30" width="1.90" height="10.60" fill="#bfbfc5" />
<rect x="90.59" y="78.30" width="1.90" height="10.60" fill="#bfbfc5" />
<rect x="93.50" y="78.30" width="1.90" height="10.60" fill="#bfbfc5" />
<rect x="96.41" y="78.30" width="1.90" height="10.60" fill="#bfbfc5" />
<rect x="99.32" y="78.30" width="1.90" height="10.60" fill="#bfbfc5" />
<rect x="102.22" y="78.30" width="1.90" height="10.60" fill="#bfbfc5" />
<rect x="105.13" y="78.30" width="1.90" height="10.60" fill="#bfbfc5" />
<rect x="108.04" y="78.30" width="1.90" height="10.60" fill="#bfbfc5" />
<rect x="110.95" y="78.30" width="1.90" height="10.60" fill="#bfbfc5" />
<rect x="113.86" y="78.30" width="1.90" height="10.60" fill="#bfbfc5" />
<rect x="116.76" y="78.30" width="1.90" height="10.60" fill="#bfbfc5" />
<rect x="119.67" y="78.30" width="1.90" height="10.60" fill="#bfbfc5" />
<rect x="122.58" y="78.30" width="1.90" height="10.60" fill="#bfbfc5" />
<rect x="125.49" y="78.30" width="1.90" height="10.60" fill="#bfbfc5" />
<rect x="128.40" y="78.30" width="1.90" height="10.60" fill="#bfbfc5" />
<rect x="130.80" y="78.30" width="2.90" height="10.60" fill="#e493a2" />
<rect x="131.30" y="78.30" width="1.90" height="10.60" fill="#cf3b57" />
<rect x="133.71" y="78.30" width="2.90" height="10.60" fill="#93aece" />
<rect x="134.21" y="78.30" width="1.90" height="10.60" fill="#3b6ca6" />
<rect x="136.62" y="78.30" width="2.90" height="10.60" fill="#93aece" />
<rect x="137.12" y="78.30" width="1.90" height="10.60" fill="#3b6ca6" />
<rect x="140.03" y="78.30" width="1.90" height="10.60" fill="#bfbfc5" />
<rect x="142.94" y="78.30" width="1.90" height="10.60" fill="#bfbfc5" />
<rect x="145.84" y="78.30" width="1.90" height="10.60" fill="#bfbfc5" />
<rect x="148.75" y="78.30" width="1.90" height="10.60" fill="#bfbfc5" />
<rect x="151.66" y="78.30" width="1.90" height="10.60" fill="#bfbfc5" />
<rect x="154.57" y="78.30" width="1.90" height="10.60" fill="#bfbfc5" />
<rect x="157.48" y="78.30" width="1.90" height="10.60" fill="#bfbfc5" />
<rect x="160.38" y="78.30" width="1.90" height="10.60" fill="#bfbfc5" />
<rect x="163.29" y="78.30" width="1.90" height="10.60" fill="#bfbfc5" />
<rect x="166.20" y="78.30" width="1.90" height="10.60" fill="#bfbfc5" />
<rect x="169.11" y="78.30" width="1.90" height="10.60" fill="#bfbfc5" />
<rect x="172.02" y="78.30" width="1.90" height="10.60" fill="#bfbfc5" />
<rect x="174.92" y="78.30" width="1.90" height="10.60" fill="#bfbfc5" />
<rect x="177.83" y="78.30" width="1.90" height="10.60" fill="#bfbfc5" />
<rect x="180.74" y="78.30" width="1.90" height="10.60" fill="#bfbfc5" />
<rect x="183.65" y="78.30" width="1.90" height="10.60" fill="#bfbfc5" />
<rect x="186.56" y="78.30" width="1.90" height="10.60" fill="#bfbfc5" />
<rect x="189.46" y="78.30" width="1.90" height="10.60" fill="#bfbfc5" />
<rect x="192.37" y="78.30" width="1.90" height="10.60" fill="#bfbfc5" />
<rect x="195.28" y="78.30" width="1.90" height="10.60" fill="#bfbfc5" />
<rect x="198.19" y="78.30" width="1.90" height="10.60" fill="#bfbfc5" />
<rect x="201.10" y="78.30" width="1.90" height="10.60" fill="#bfbfc5" />
<rect x="204.00" y="78.30" width="1.90" height="10.60" fill="#bfbfc5" />
<rect x="206.91" y="78.30" width="1.90" height="10.60" fill="#bfbfc5" />
<rect x="209.82" y="78.30" width="1.90" height="10.60" fill="#bfbfc5" />
<rect x="212.73" y="78.30" width="1.90" height="10.60" fill="#bfbfc5" />
<rect x="215.64" y="78.30" width="1.90" height="10.60" fill="#bfbfc5" />
<rect x="218.54" y="78.30" width="1.90" height="10.60" fill="#bfbfc5" />
<rect x="221.45" y="78.30" width="1.90" height="10.60" fill="#bfbfc5" />
<rect x="224.36" y="78.30" width="1.90" height="10.60" fill="#bfbfc5" />
<rect x="227.27" y="78.30" width="1.90" height="10.60" fill="#bfbfc5" />
<rect x="230.18" y="78.30" width="1.90" height="10.60" fill="#bfbfc5" />
<rect x="233.08" y="78.30" width="1.90" height="10.60" fill="#bfbfc5" />
<rect x="235.99" y="78.30" width="1.90" height="10.60" fill="#bfbfc5" />
<rect x="238.90" y="78.30" width="1.90" height="10.60" fill="#bfbfc5" />
<rect x="241.81" y="78.30" width="1.90" height="10.60" fill="#bfbfc5" />
<rect x="244.72" y="78.30" width="1.90" height="10.60" fill="#bfbfc5" />
<rect x="247.62" y="78.30" width="1.90" height="10.60" fill="#bfbfc5" />
<rect x="250.53" y="78.30" width="1.90" height="10.60" fill="#bfbfc5" />
<rect x="253.44" y="78.30" width="1.90" height="10.60" fill="#bfbfc5" />
<rect x="256.35" y="78.30" width="1.90" height="10.60" fill="#bfbfc5" />
<rect x="259.26" y="78.30" width="1.90" height="10.60" fill="#bfbfc5" />
<rect x="262.16" y="78.30" width="1.90" height="10.60" fill="#bfbfc5" />
<rect x="265.07" y="78.30" width="1.90" height="10.60" fill="#bfbfc5" />
<rect x="267.98" y="78.30" width="1.90" height="10.60" fill="#bfbfc5" />
<rect x="270.89" y="78.30" width="1.90" height="10.60" fill="#bfbfc5" />
<rect x="273.80" y="78.30" width="1.90" height="10.60" fill="#bfbfc5" />
<rect x="276.70" y="78.30" width="1.90" height="10.60" fill="#bfbfc5" />
<rect x="279.61" y="78.30" width="1.90" height="10.60" fill="#bfbfc5" />
<rect x="282.52" y="78.30" width="1.90" height="10.60" fill="#bfbfc5" />
<rect x="285.43" y="78.30" width="1.90" height="10.60" fill="#bfbfc5" />
<rect x="288.34" y="78.30" width="1.90" height="10.60" fill="#bfbfc5" />
<rect x="291.24" y="78.30" width="1.90" height="10.60" fill="#bfbfc5" />
<rect x="294.15" y="78.30" width="1.90" height="10.60" fill="#bfbfc5" />
<rect x="297.06" y="78.30" width="1.90" height="10.60" fill="#bfbfc5" />
<rect x="299.97" y="78.30" width="1.90" height="10.60" fill="#bfbfc5" />
<rect x="302.88" y="78.30" width="1.90" height="10.60" fill="#bfbfc5" />
<rect x="305.78" y="78.30" width="1.90" height="10.60" fill="#bfbfc5" />
<rect x="308.69" y="78.30" width="1.90" height="10.60" fill="#bfbfc5" />
<rect x="311.60" y="78.30" width="1.90" height="10.60" fill="#bfbfc5" />
<rect x="314.51" y="78.30" width="1.90" height="10.60" fill="#bfbfc5" />
<rect x="317.42" y="78.30" width="1.90" height="10.60" fill="#bfbfc5" />
<rect x="320.32" y="78.30" width="1.90" height="10.60" fill="#bfbfc5" />
<text x="326.20" y="85.70" font-size="6" font-style="italic">Sh2b3</text>
<rect x="20.60" y="90.30" width="301.82" height="10.60" fill="#e3e3e8" />
<rect x="20.80" y="90.30" width="1.90" height="10.60" fill="#bfbfc5" />
<rect x="23.21" y="90.30" width="2.90" height="10.60" fill="#93aece" />
<rect x="23.71" y="90.30" width="1.90" height="10.60" fill="#3b6ca6" />
<rect x="26.12" y="90.30" width="2.90" height="10.60" fill="#93aece" />
<rect x="26.62" y="90.30" width="1.90" height="10.60" fill="#3b6ca6" />
<rect x="29.52" y="90.30" width="1.90" height="10.60" fill="#bfbfc5" />
<rect x="32.43" y="90.30" width="1.90" height="10.60" fill="#bfbfc5" />
<rect x="35.34" y="90.30" width="1.90" height="10.60" fill="#bfbfc5" />
<rect x="38.25" y="90.30" width="1.90" height="10.60" fill="#bfbfc5" />
<rect x="41.16" y="90.30" width="1.90" height="10.60" fill="#bfbfc5" />
<rect x="44.06" y="90.30" width="1.90" height="10.60" fill="#bfbfc5" />
<rect x="46.97" y="90.30" width="1.90" height="10.60" fill="#bfbfc5" />
<rect x="49.88" y="90.30" width="1.90" height="10.60" fill="#bfbfc5" />
<rect x="52.79" y="90.30" width="1.90" height="10.60" fill="#bfbfc5" />
<rect x="55.70" y="90.30" width="1.90" height="10.60" fill="#bfbfc5" />
<rect x="58.60" y="90.30" width="1.90" height="10.60" fill="#bfbfc5" />
<rect x="61.51" y="90.30" width="1.90" height="10.60" fill="#bfbfc5" />
<rect x="64.42" y="90.30" width="1.90" height="10.60" fill="#bfbfc5" />
<rect x="67.33" y="90.30" width="1.90" height="10.60" fill="#bfbfc5" />
<rect x="70.24" y="90.30" width="1.90" height="10.60" fill="#bfbfc5" />
<rect x="73.14" y="90.30" width="1.90" height="10.60" fill="#bfbfc5" />
<rect x="76.05" y="90.30" width="1.90" height="10.60" fill="#bfbfc5" />
<rect x="78.96" y="90.30" width="1.90" height="10.60" fill="#bfbfc5" />
<rect x="81.87" y="90.30" width="1.90" height="10.60" fill="#bfbfc5" />
<rect x="84.78" y="90.30" width="1.90" height="10.60" fill="#bfbfc5" />
<rect x="87.68" y="90.30" width="1.90" height="10.60" fill="#bfbfc5" />
<rect x="90.59" y="90.30" width="1.90" height="10.60" fill="#bfbfc5" />
<rect x="93.50" y="90.30" width="1.90" height="10.60" fill="#bfbfc5" />
<rect x="96.41" y="90.30" width="1.90" height="10.60" fill="#bfbfc5" />
<rect x="99.32" y="90.30" width="1.90" height="10.60" fill="#bfbfc5" />
<rect x="102.22" y="90.30" width="1.90" height="10.60" fill="#bfbfc5" />
<rect x="105.13" y="90.30" width="1.90" height="10.60" fill="#bfbfc5" />
<rect x="108.04" y="90.30" width="1.90" height="10.60" fill="#bfbfc5" />
<rect x="110.95" y="90.30" width="1.90" height="10.60" fill="#bfbfc5" />
<rect x="113.86" y="90.30" width="1.90" height="10.60" fill="#bfbfc5" />
<rect x="116.76" y="90.30" width="1.90" height="10.60" fill="#bfbfc5" />
<rect x="119.67" y="90.30" width="1.90" height="10.60" fill="#bfbfc5" />
<rect x="122.58" y="90.30" width="1.90" height="10.60" fill="#bfbfc5" />
<rect x="125.49" y="90.30" width="1.90" height="10.60" fill="#bfbfc5" />
<rect x="128.40" y="90.30" width="1.90" height="10.60" fill="#bfbfc5" />
<rect x="130.80" y="90.30" width="2.90" height="10.60" fill="#93aece" />
<rect x="131.30" y="90.30" width="1.90" height="10.60" fill="#3b6ca6" />
<rect x="134.21" y="90.30" width="1.90" height="10.60" fill="#bfbfc5" />
<rect x="137.12" y="90.30" width="1.90" height="10.60" fill="#bfbfc5" />
<rect x="139.53" y="90.30" width="2.90" height="10.60" fill="#93aece" />
<rect x="140.03" y="90.30" width="1.90" height="10.60" fill="#3b6ca6" />
<rect x="142.44" y="90.30" width="2.90" height="10.60" fill="#93aece" />
<rect x="142.94" y="90.30" width="1.90" height="10.60" fill="#3b6ca6" />
<rect x="145.34" y="90.30" width="2.90" height="10.60" fill="#93aece" />
<rect x="145.84" y="90.30" width="1.90" height="10.60" fill="#3b6ca6" />
<rect x="148.25" y="90.30" width="2.90" height="10.60" fill="#93aece" />
<rect x="148.75" y="90.30" width="1.90" height="10.60" fill="#3b6ca6" />
<rect x="151.16" y="90.30" width="2.90" height="10.60" fill="#93aece" />
<rect x="151.66" y="90.30" width="1.90" height="10.60" fill="#3b6ca6" />
<rect x="154.57" y="90.30" width="1.90" height="10.60" fill="#bfbfc5" />
<rect x="157.48" y="90.30" width="1.90" height="10.60" fill="#bfbfc5" />
<rect x="160.38" y="90.30" width="1.90" height="10.60" fill="#bfbfc5" />
<rect x="163.29" y="90.30" width="1.90" height="10.60" fill="#bfbfc5" />
<rect x="166.20" y="90.30" width="1.90" height="10.60" fill="#bfbfc5" />
<rect x="169.11" y="90.30" width="1.90" height="10.60" fill="#bfbfc5" />
<rect x="172.02" y="90.30" width="1.90" height="10.60" fill="#bfbfc5" />
<rect x="174.92" y="90.30" width="1.90" height="10.60" fill="#bfbfc5" />
<rect x="177.83" y="90.30" width="1.90" height="10.60" fill="#bfbfc5" />
<rect x="180.74" y="90.30" width="1.90" height="10.60" fill="#bfbfc5" />
<rect x="183.65" y="90.30" width="1.90" height="10.60" fill="#bfbfc5" />
<rect x="186.56" y="90.30" width="1.90" height="10.60" fill="#bfbfc5" />
<rect x="189.46" y="90.30" width="1.90" height="10.60" fill="#bfbfc5" />
<rect x="192.37" y="90.30" width="1.90" height="10.60" fill="#bfbfc5" />
<rect x="195.28" y="90.30" width="1.90" height="10.60" fill="#bfbfc5" />
<rect x="198.19" y="90.30" width="1.90" height="10.60" fill="#bfbfc5" />
<rect x="201.10" y="90.30" width="1.90" height="10.60" fill="#bfbfc5" />
<rect x="204.00" y="90.30" width="1.90" height="10.60" fill="#bfbfc5" />
<rect x="206.91" y="90.30" width="1.90" height="10.60" fill="#bfbfc5" />
<rect x="209.82" y="90.30" width="1.90" height="10.60" fill="#bfbfc5" />
<rect x="212.73" y="90.30" width="1.90" height="10.60" fill="#bfbfc5" />
<rect x="215.64" y="90.30" width="1.90" height="10.60" fill="#bfbfc5" />
<rect x="218.54" y="90.30" width="1.90" height="10.60" fill="#bfbfc5" />
<rect x="221.45" y="90.30" width="1.90" height="10.60" fill="#bfbfc5" />
<rect x="224.36" y="90.30" width="1.90" height="10.60" fill="#bfbfc5" />
<rect x="227.27" y="90.30" width="1.90" height="10.60" fill="#bfbfc5" />
<rect x="230.18" y="90.30" width="1.90" height="10.60" fill="#bfbfc5" />
<rect x="233.08" y="90.30" width="1.90" height="10.60" fill="#bfbfc5" />
<rect x="235.99" y="90.30" width="1.90" height="10.60" fill="#bfbfc5" />
<rect x="238.90" y="90.30" width="1.90" height="10.60" fill="#bfbfc5" />
<rect x="241.81" y="90.30" width="1.90" height="10.60" fill="#bfbfc5" />
<rect x="244.72" y="90.30" width="1.90" height="10.60" fill="#bfbfc5" />
<rect x="247.62" y="90.30" width="1.90" height="10.60" fill="#bfbfc5" />
<rect x="250.53" y="90.30" width="1.90" height="10.60" fill="#bfbfc5" />
<rect x="253.44" y="90.30" width="1.90" height="10.60" fill="#bfbfc5" />
<rect x="256.35" y="90.30" width="1.90" height="10.60" fill="#bfbfc5" />
<rect x="259.26" y="90.30" width="1.90" height="10.60" fill="#bfbfc5" />
<rect x="262.16" y="90.30" width="1.90" height="10.60" fill="#bfbfc5" />
<rect x="265.07" y="90.30" width="1.90" height="10.60" fill="#bfbfc5" />
<rect x="267.98" y="90.30" width="1.90" height="10.60" fill="#bfbfc5" />
<rect x="270.89" y="90.30" width="1.90" height="10.60" fill="#bfbfc5" />
<rect x="273.80" y="90.30" width="1.90" height="10.60" fill="#bfbfc5" />
<rect x="276.70" y="90.30" width="1.90" height="10.60" fill="#bfbfc5" />
<rect x="279.61" y="90.30" width="1.90" height="10.60" fill="#bfbfc5" />
<rect x="282.52" y="90.30" width="1.90" height="10.60" fill="#bfbfc5" />
<rect x="285.43" y="90.30" width="1.90" height="10.60" fill="#bfbfc5" />
<rect x="288.34" y="90.30" width="1.90" height="10.60" fill="#bfbfc5" />
<rect x="291.24" y="90.30" width="1.90" height="10.60" fill="#bfbfc5" />
<rect x="294.15" y="90.30" width="1.90" height="10.60" fill="#bfbfc5" />
<rect x="297.06" y="90.30" width="1.90" height="10.60" fill="#bfbfc5" />
<rect x="299.97" y="90.30" width="1.90" height="10.60" fill="#bfbfc5" />
<rect x="302.88" y="90.30" width="1.90" height="10.60" fill="#bfbfc5" />
<rect x="305.78" y="90.30" width="1.90" height="10.60" fill="#bfbfc5" />
<rect x="308.69" y="90.30" width="1.90" height="10.60" fill="#bfbfc5" />
<rect x="311.60" y="90.30" width="1.90" height="10.60" fill="#bfbfc5" />
<rect x="314.51" y="90.30" width="1.90" height="10.60" fill="#bfbfc5" />
<rect x="317.42" y="90.30" width="1.90" height="10.60" fill="#bfbfc5" />
<rect x="320.32" y="90.30" width="1.90" height="10.60" fill="#bfbfc5" />
<text x="326.20" y="97.70" font-size="6" font-style="italic">Ptpn11</text>
<rect x="20.60" y="102.30" width="301.82" height="10.60" fill="#e3e3e8" />
<rect x="20.80" y="102.30" width="1.90" height="10.60" fill="#bfbfc5" />
<rect x="23.21" y="102.30" width="2.90" height="10.60" fill="#93aece" />
<rect x="23.71" y="102.30" width="1.90" height="10.60" fill="#3b6ca6" />
<rect x="26.62" y="102.30" width="1.90" height="10.60" fill="#bfbfc5" />
<rect x="29.52" y="102.30" width="1.90" height="10.60" fill="#bfbfc5" />
<rect x="32.43" y="102.30" width="1.90" height="10.60" fill="#bfbfc5" />
<rect x="35.34" y="102.30" width="1.90" height="10.60" fill="#bfbfc5" />
<rect x="38.25" y="102.30" width="1.90" height="10.60" fill="#bfbfc5" />
<rect x="40.66" y="102.30" width="2.90" height="10.60" fill="#93aece" />
<rect x="41.16" y="102.30" width="1.90" height="10.60" fill="#3b6ca6" />
<rect x="44.06" y="102.30" width="1.90" height="10.60" fill="#bfbfc5" />
<rect x="46.97" y="102.30" width="1.90" height="10.60" fill="#bfbfc5" />
<rect x="49.88" y="102.30" width="1.90" height="10.60" fill="#bfbfc5" />
<rect x="52.79" y="102.30" width="1.90" height="10.60" fill="#bfbfc5" />
<rect x="55.70" y="102.30" width="1.90" height="10.60" fill="#bfbfc5" />
<rect x="58.60" y="102.30" width="1.90" height="10.60" fill="#bfbfc5" />
<rect x="61.51" y="102.30" width="1.90" height="10.60" fill="#bfbfc5" />
<rect x="64.42" y="102.30" width="1.90" height="10.60" fill="#bfbfc5" />
<rect x="67.33" y="102.30" width="1.90" height="10.60" fill="#bfbfc5" />
<rect x="70.24" y="102.30" width="1.90" height="10.60" fill="#bfbfc5" />
<rect x="73.14" y="102.30" width="1.90" height="10.60" fill="#bfbfc5" />
<rect x="76.05" y="102.30" width="1.90" height="10.60" fill="#bfbfc5" />
<rect x="78.96" y="102.30" width="1.90" height="10.60" fill="#bfbfc5" />
<rect x="81.87" y="102.30" width="1.90" height="10.60" fill="#bfbfc5" />
<rect x="84.28" y="102.30" width="2.90" height="10.60" fill="#93aece" />
<rect x="84.78" y="102.30" width="1.90" height="10.60" fill="#3b6ca6" />
<rect x="87.18" y="102.30" width="2.90" height="10.60" fill="#e493a2" />
<rect x="87.68" y="102.30" width="1.90" height="10.60" fill="#cf3b57" />
<rect x="90.59" y="102.30" width="1.90" height="10.60" fill="#bfbfc5" />
<rect x="93.50" y="102.30" width="1.90" height="10.60" fill="#bfbfc5" />
<rect x="96.41" y="102.30" width="1.90" height="10.60" fill="#bfbfc5" />
<rect x="99.32" y="102.30" width="1.90" height="10.60" fill="#bfbfc5" />
<rect x="102.22" y="102.30" width="1.90" height="10.60" fill="#bfbfc5" />
<rect x="105.13" y="102.30" width="1.90" height="10.60" fill="#bfbfc5" />
<rect x="108.04" y="102.30" width="1.90" height="10.60" fill="#bfbfc5" />
<rect x="110.95" y="102.30" width="1.90" height="10.60" fill="#bfbfc5" />
<rect x="113.36" y="102.30" width="2.90" height="10.60" fill="#93aece" />
<rect x="113.86" y="102.30" width="1.90" height="10.60" fill="#3b6ca6" />
<rect x="116.76" y="102.30" width="1.90" height="10.60" fill="#bfbfc5" />
<rect x="119.67" y="102.30" width="1.90" height="10.60" fill="#bfbfc5" />
<rect x="122.58" y="102.30" width="1.90" height="10.60" fill="#bfbfc5" />
<rect x="125.49" y="102.30" width="1.90" height="10.60" fill="#bfbfc5" />
<rect x="128.40" y="102.30" width="1.90" height="10.60" fill="#bfbfc5" />
<rect x="131.30" y="102.30" width="1.90" height="10.60" fill="#bfbfc5" />
<rect x="134.21" y="102.30" width="1.90" height="10.60" fill="#bfbfc5" />
<rect x="137.12" y="102.30" width="1.90" height="10.60" fill="#bfbfc5" />
<rect x="140.03" y="102.30" width="1.90" height="10.60" fill="#bfbfc5" />
<rect x="142.94" y="102.30" width="1.90" height="10.60" fill="#bfbfc5" />
<rect x="145.84" y="102.30" width="1.90" height="10.60" fill="#bfbfc5" />
<rect x="148.75" y="102.30" width="1.90" height="10.60" fill="#bfbfc5" />
<rect x="151.66" y="102.30" width="1.90" height="10.60" fill="#bfbfc5" />
<rect x="154.07" y="102.30" width="2.90" height="10.60" fill="#93aece" />
<rect x="154.57" y="102.30" width="1.90" height="10.60" fill="#3b6ca6" />
<rect x="156.98" y="102.30" width="2.90" height="10.60" fill="#93aece" />
<rect x="157.48" y="102.30" width="1.90" height="10.60" fill="#3b6ca6" />
<rect x="159.88" y="102.30" width="2.90" height="10.60" fill="#93aece" />
<rect x="160.38" y="102.30" width="1.90" height="10.60" fill="#3b6ca6" />
<rect x="163.29" y="102.30" width="1.90" height="10.60" fill="#bfbfc5" />
<rect x="166.20" y="102.30" width="1.90" height="10.60" fill="#bfbfc5" />
<rect x="169.11" y="102.30" width="1.90" height="10.60" fill="#bfbfc5" />
<rect x="172.02" y="102.30" width="1.90" height="10.60" fill="#bfbfc5" />
<rect x="174.92" y="102.30" width="1.90" height="10.60" fill="#bfbfc5" />
<rect x="177.83" y="102.30" width="1.90" height="10.60" fill="#bfbfc5" />
<rect x="180.74" y="102.30" width="1.90" height="10.60" fill="#bfbfc5" />
<rect x="183.65" y="102.30" width="1.90" height="10.60" fill="#bfbfc5" />
<rect x="186.56" y="102.30" width="1.90" height="10.60" fill="#bfbfc5" />
<rect x="189.46" y="102.30" width="1.90" height="10.60" fill="#bfbfc5" />
<rect x="192.37" y="102.30" width="1.90" height="10.60" fill="#bfbfc5" />
<rect x="195.28" y="102.30" width="1.90" height="10.60" fill="#bfbfc5" />
<rect x="198.19" y="102.30" width="1.90" height="10.60" fill="#bfbfc5" />
<rect x="201.10" y="102.30" width="1.90" height="10.60" fill="#bfbfc5" />
<rect x="204.00" y="102.30" width="1.90" height="10.60" fill="#bfbfc5" />
<rect x="206.91" y="102.30" width="1.90" height="10.60" fill="#bfbfc5" />
<rect x="209.82" y="102.30" width="1.90" height="10.60" fill="#bfbfc5" />
<rect x="212.73" y="102.30" width="1.90" height="10.60" fill="#bfbfc5" />
<rect x="215.64" y="102.30" width="1.90" height="10.60" fill="#bfbfc5" />
<rect x="218.54" y="102.30" width="1.90" height="10.60" fill="#bfbfc5" />
<rect x="221.45" y="102.30" width="1.90" height="10.60" fill="#bfbfc5" />
<rect x="224.36" y="102.30" width="1.90" height="10.60" fill="#bfbfc5" />
<rect x="227.27" y="102.30" width="1.90" height="10.60" fill="#bfbfc5" />
<rect x="230.18" y="102.30" width="1.90" height="10.60" fill="#bfbfc5" />
<rect x="233.08" y="102.30" width="1.90" height="10.60" fill="#bfbfc5" />
<rect x="235.99" y="102.30" width="1.90" height="10.60" fill="#bfbfc5" />
<rect x="238.90" y="102.30" width="1.90" height="10.60" fill="#bfbfc5" />
<rect x="241.81" y="102.30" width="1.90" height="10.60" fill="#bfbfc5" />
<rect x="244.72" y="102.30" width="1.90" height="10.60" fill="#bfbfc5" />
<rect x="247.62" y="102.30" width="1.90" height="10.60" fill="#bfbfc5" />
<rect x="250.53" y="102.30" width="1.90" height="10.60" fill="#bfbfc5" />
<rect x="253.44" y="102.30" width="1.90" height="10.60" fill="#bfbfc5" />
<rect x="256.35" y="102.30" width="1.90" height="10.60" fill="#bfbfc5" />
<rect x="259.26" y="102.30" width="1.90" height="10.60" fill="#bfbfc5" />
<rect x="262.16" y="102.30" width="1.90" height="10.60" fill="#bfbfc5" />
<rect x="265.07" y="102.30" width="1.90" height="10.60" fill="#bfbfc5" />
<rect x="267.98" y="102.30" width="1.90" height="10.60" fill="#bfbfc5" />
<rect x="270.89" y="102.30" width="1.90" height="10.60" fill="#bfbfc5" />
<rect x="273.80" y="102.30" width="1.90" height="10.60" fill="#bfbfc5" />
<rect x="276.70" y="102.30" width="1.90" height="10.60" fill="#bfbfc5" />
<rect x="279.61" y="102.30" width="1.90" height="10.60" fill="#bfbfc5" />
<rect x="282.52" y="102.30" width="1.90" height="10.60" fill="#bfbfc5" />
<rect x="285.43" y="102.30" width="1.90" height="10.60" fill="#bfbfc5" />
<rect x="288.34" y="102.30" width="1.90" height="10.60" fill="#bfbfc5" />
<rect x="291.24" y="102.30" width="1.90" height="10.60" fill="#bfbfc5" />
<rect x="294.15" y="102.30" width="1.90" height="10.60" fill="#bfbfc5" />
<rect x="297.06" y="102.30" width="1.90" height="10.60" fill="#bfbfc5" />
<rect x="299.97" y="102.30" width="1.90" height="10.60" fill="#bfbfc5" />
<rect x="302.88" y="102.30" width="1.90" height="10.60" fill="#bfbfc5" />
<rect x="305.78" y="102.30" width="1.90" height="10.60" fill="#bfbfc5" />
<rect x="308.69" y="102.30" width="1.90" height="10.60" fill="#bfbfc5" />
<rect x="311.60" y="102.30" width="1.90" height="10.60" fill="#bfbfc5" />
<rect x="314.51" y="102.30" width="1.90" height="10.60" fill="#bfbfc5" />
<rect x="317.42" y="102.30" width="1.90" height="10.60" fill="#bfbfc5" />
<rect x="320.32" y="102.30" width="1.90" height="10.60" fill="#bfbfc5" />
<text x="326.20" y="109.70" font-size="6" font-style="italic">Trp53</text>
<rect x="20.60" y="114.30" width="301.82" height="10.60" fill="#e3e3e8" />
<rect x="20.80" y="114.30" width="1.90" height="10.60" fill="#bfbfc5" />
<rect x="23.71" y="114.30" width="1.90" height="10.60" fill="#bfbfc5" />
<rect x="26.62" y="114.30" width="1.90" height="10.60" fill="#bfbfc5" />
<rect x="29.52" y="114.30" width="1.90" height="10.60" fill="#bfbfc5" />
<rect x="32.43" y="114.30" width="1.90" height="10.60" fill="#bfbfc5" />
<rect x="35.34" y="114.30" width="1.90" height="10.60" fill="#bfbfc5" />
<rect x="38.25" y="114.30" width="1.90" height="10.60" fill="#bfbfc5" />
<rect x="41.16" y="114.30" width="1.90" height="10.60" fill="#bfbfc5" />
<rect x="44.06" y="114.30" width="1.90" height="10.60" fill="#bfbfc5" />
<rect x="46.97" y="114.30" width="1.90" height="10.60" fill="#bfbfc5" />
<rect x="49.88" y="114.30" width="1.90" height="10.60" fill="#bfbfc5" />
<rect x="52.79" y="114.30" width="1.90" height="10.60" fill="#bfbfc5" />
<rect x="55.70" y="114.30" width="1.90" height="10.60" fill="#bfbfc5" />
<rect x="58.60" y="114.30" width="1.90" height="10.60" fill="#bfbfc5" />
<rect x="61.51" y="114.30" width="1.90" height="10.60" fill="#bfbfc5" />
<rect x="64.42" y="114.30" width="1.90" height="10.60" fill="#bfbfc5" />
<rect x="67.33" y="114.30" width="1.90" height="10.60" fill="#bfbfc5" />
<rect x="70.24" y="114.30" width="1.90" height="10.60" fill="#bfbfc5" />
<rect x="73.14" y="114.30" width="1.90" height="10.60" fill="#bfbfc5" />
<rect x="76.05" y="114.30" width="1.90" height="10.60" fill="#bfbfc5" />
<rect x="78.96" y="114.30" width="1.90" height="10.60" fill="#bfbfc5" />
<rect x="81.87" y="114.30" width="1.90" height="10.60" fill="#bfbfc5" />
<rect x="84.28" y="114.30" width="2.90" height="10.60" fill="#93aece" />
<rect x="84.78" y="114.30" width="1.90" height="10.60" fill="#3b6ca6" />
<rect x="87.68" y="114.30" width="1.90" height="10.60" fill="#bfbfc5" />
<rect x="90.09" y="114.30" width="2.90" height="10.60" fill="#e493a2" />
<rect x="90.59" y="114.30" width="1.90" height="10.60" fill="#cf3b57" />
<rect x="93.00" y="114.30" width="2.90" height="10.60" fill="#93aece" />
<rect x="93.50" y="114.30" width="1.90" height="10.60" fill="#3b6ca6" />
<rect x="95.91" y="114.30" width="2.90" height="10.60" fill="#93aece" />
<rect x="96.41" y="114.30" width="1.90" height="10.60" fill="#3b6ca6" />
<rect x="98.82" y="114.30" width="2.90" height="10.60" fill="#93aece" />
<rect x="99.32" y="114.30" width="1.90" height="10.60" fill="#3b6ca6" />
<rect x="102.22" y="114.30" width="1.90" height="10.60" fill="#bfbfc5" />
<rect x="105.13" y="114.30" width="1.90" height="10.60" fill="#bfbfc5" />
<rect x="108.04" y="114.30" width="1.90" height="10.60" fill="#bfbfc5" />
<rect x="110.95" y="114.30" width="1.90" height="10.60" fill="#bfbfc5" />
<rect x="113.86" y="114.30" width="1.90" height="10.60" fill="#bfbfc5" />
<rect x="116.76" y="114.30" width="1.90" height="10.60" fill="#bfbfc5" />
<rect x="119.67" y="114.30" width="1.90" height="10.60" fill="#bfbfc5" />
<rect x="122.58" y="114.30" width="1.90" height="10.60" fill="#bfbfc5" />
<rect x="125.49" y="114.30" width="1.90" height="10.60" fill="#bfbfc5" />
<rect x="128.40" y="114.30" width="1.90" height="10.60" fill="#bfbfc5" />
<rect x="131.30" y="114.30" width="1.90" height="10.60" fill="#bfbfc5" />
<rect x="134.21" y="114.30" width="1.90" height="10.60" fill="#bfbfc5" />
<rect x="137.12" y="114.30" width="1.90" height="10.60" fill="#bfbfc5" />
<rect x="140.03" y="114.30" width="1.90" height="10.60" fill="#bfbfc5" />
<rect x="142.94" y="114.30" width="1.90" height="10.60" fill="#bfbfc5" />
<rect x="145.84" y="114.30" width="1.90" height="10.60" fill="#bfbfc5" />
<rect x="148.75" y="114.30" width="1.90" height="10.60" fill="#bfbfc5" />
<rect x="151.66" y="114.30" width="1.90" height="10.60" fill="#bfbfc5" />
<rect x="154.57" y="114.30" width="1.90" height="10.60" fill="#bfbfc5" />
<rect x="157.48" y="114.30" width="1.90" height="10.60" fill="#bfbfc5" />
<rect x="160.38" y="114.30" width="1.90" height="10.60" fill="#bfbfc5" />
<rect x="162.79" y="114.30" width="2.90" height="10.60" fill="#93aece" />
<rect x="163.29" y="114.30" width="1.90" height="10.60" fill="#3b6ca6" />
<rect x="166.20" y="114.30" width="1.90" height="10.60" fill="#bfbfc5" />
<rect x="169.11" y="114.30" width="1.90" height="10.60" fill="#bfbfc5" />
<rect x="172.02" y="114.30" width="1.90" height="10.60" fill="#bfbfc5" />
<rect x="174.92" y="114.30" width="1.90" height="10.60" fill="#bfbfc5" />
<rect x="177.83" y="114.30" width="1.90" height="10.60" fill="#bfbfc5" />
<rect x="180.74" y="114.30" width="1.90" height="10.60" fill="#bfbfc5" />
<rect x="183.65" y="114.30" width="1.90" height="10.60" fill="#bfbfc5" />
<rect x="186.56" y="114.30" width="1.90" height="10.60" fill="#bfbfc5" />
<rect x="189.46" y="114.30" width="1.90" height="10.60" fill="#bfbfc5" />
<rect x="192.37" y="114.30" width="1.90" height="10.60" fill="#bfbfc5" />
<rect x="195.28" y="114.30" width="1.90" height="10.60" fill="#bfbfc5" />
<rect x="198.19" y="114.30" width="1.90" height="10.60" fill="#bfbfc5" />
<rect x="201.10" y="114.30" width="1.90" height="10.60" fill="#bfbfc5" />
<rect x="204.00" y="114.30" width="1.90" height="10.60" fill="#bfbfc5" />
<rect x="206.91" y="114.30" width="1.90" height="10.60" fill="#bfbfc5" />
<rect x="209.82" y="114.30" width="1.90" height="10.60" fill="#bfbfc5" />
<rect x="212.73" y="114.30" width="1.90" height="10.60" fill="#bfbfc5" />
<rect x="215.64" y="114.30" width="1.90" height="10.60" fill="#bfbfc5" />
<rect x="218.54" y="114.30" width="1.90" height="10.60" fill="#bfbfc5" />
<rect x="221.45" y="114.30" width="1.90" height="10.60" fill="#bfbfc5" />
<rect x="224.36" y="114.30" width="1.90" height="10.60" fill="#bfbfc5" />
<rect x="227.27" y="114.30" width="1.90" height="10.60" fill="#bfbfc5" />
<rect x="230.18" y="114.30" width="1.90" height="10.60" fill="#bfbfc5" />
<rect x="233.08" y="114.30" width="1.90" height="10.60" fill="#bfbfc5" />
<rect x="235.99" y="114.30" width="1.90" height="10.60" fill="#bfbfc5" />
<rect x="238.90" y="114.30" width="1.90" height="10.60" fill="#bfbfc5" />
<rect x="241.81" y="114.30" width="1.90" height="10.60" fill="#bfbfc5" />
<rect x="244.72" y="114.30" width="1.90" height="10.60" fill="#bfbfc5" />
<rect x="247.62" y="114.30" width="1.90" height="10.60" fill="#bfbfc5" />
<rect x="250.53" y="114.30" width="1.90" height="10.60" fill="#bfbfc5" />
<rect x="253.44" y="114.30" width="1.90" height="10.60" fill="#bfbfc5" />
<rect x="256.35" y="114.30" width="1.90" height="10.60" fill="#bfbfc5" />
<rect x="259.26" y="114.30" width="1.90" height="10.60" fill="#bfbfc5" />
<rect x="262.16" y="114.30" width="1.90" height="10.60" fill="#bfbfc5" />
<rect x="265.07" y="114.30" width="1.90" height="10.60" fill="#bfbfc5" />
<rect x="267.98" y="114.30" width="1.90" height="10.60" fill="#bfbfc5" />
<rect x="270.89" y="114.30" width="1.90" height="10.60" fill="#bfbfc5" />
<rect x="273.80" y="114.30" width="1.90" height="10.60" fill="#bfbfc5" />
<rect x="276.70" y="114.30" width="1.90" height="10.60" fill="#bfbfc5" />
<rect x="279.61" y="114.30" width="1.90" height="10.60" fill="#bfbfc5" />
<rect x="282.52" y="114.30" width="1.90" height="10.60" fill="#bfbfc5" />
<rect x="285.43" y="114.30" width="1.90" height="10.60" fill="#bfbfc5" />
<rect x="288.34" y="114.30" width="1.90" height="10.60" fill="#bfbfc5" />
<rect x="291.24" y="114.30" width="1.90" height="10.60" fill="#bfbfc5" />
<rect x="294.15" y="114.30" width="1.90" height="10.60" fill="#bfbfc5" />
<rect x="297.06" y="114.30" width="1.90" height="10.60" fill="#bfbfc5" />
<rect x="299.97" y="114.30" width="1.90" height="10.60" fill="#bfbfc5" />
<rect x="302.88" y="114.30" width="1.90" height="10.60" fill="#bfbfc5" />
<rect x="305.78" y="114.30" width="1.90" height="10.60" fill="#bfbfc5" />
<rect x="308.69" y="114.30" width="1.90" height="10.60" fill="#bfbfc5" />
<rect x="311.60" y="114.30" width="1.90" height="10.60" fill="#bfbfc5" />
<rect x="314.51" y="114.30" width="1.90" height="10.60" fill="#bfbfc5" />
<rect x="317.42" y="114.30" width="1.90" height="10.60" fill="#bfbfc5" />
<rect x="320.32" y="114.30" width="1.90" height="10.60" fill="#bfbfc5" />
<text x="326.20" y="121.70" font-size="6" font-style="italic">Ikzf1</text>
<rect x="20.60" y="126.30" width="301.82" height="10.60" fill="#e3e3e8" />
<rect x="20.80" y="126.30" width="1.90" height="10.60" fill="#bfbfc5" />
<rect x="23.71" y="126.30" width="1.90" height="10.60" fill="#bfbfc5" />
<rect x="26.62" y="126.30" width="1.90" height="10.60" fill="#bfbfc5" />
<rect x="29.52" y="126.30" width="1.90" height="10.60" fill="#bfbfc5" />
<rect x="32.43" y="126.30" width="1.90" height="10.60" fill="#bfbfc5" />
<rect x="35.34" y="126.30" width="1.90" height="10.60" fill="#bfbfc5" />
<rect x="38.25" y="126.30" width="1.90" height="10.60" fill="#bfbfc5" />
<rect x="41.16" y="126.30" width="1.90" height="10.60" fill="#bfbfc5" />
<rect x="44.06" y="126.30" width="1.90" height="10.60" fill="#bfbfc5" />
<rect x="46.97" y="126.30" width="1.90" height="10.60" fill="#bfbfc5" />
<rect x="49.88" y="126.30" width="1.90" height="10.60" fill="#bfbfc5" />
<rect x="52.79" y="126.30" width="1.90" height="10.60" fill="#bfbfc5" />
<rect x="55.70" y="126.30" width="1.90" height="10.60" fill="#bfbfc5" />
<rect x="58.60" y="126.30" width="1.90" height="10.60" fill="#bfbfc5" />
<rect x="61.51" y="126.30" width="1.90" height="10.60" fill="#bfbfc5" />
<rect x="64.42" y="126.30" width="1.90" height="10.60" fill="#bfbfc5" />
<rect x="67.33" y="126.30" width="1.90" height="10.60" fill="#bfbfc5" />
<rect x="70.24" y="126.30" width="1.90" height="10.60" fill="#bfbfc5" />
<rect x="73.14" y="126.30" width="1.90" height="10.60" fill="#bfbfc5" />
<rect x="76.05" y="126.30" width="1.90" height="10.60" fill="#bfbfc5" />
<rect x="78.96" y="126.30" width="1.90" height="10.60" fill="#bfbfc5" />
<rect x="81.87" y="126.30" width="1.90" height="10.60" fill="#bfbfc5" />
<rect x="84.78" y="126.30" width="1.90" height="10.60" fill="#bfbfc5" />
<rect x="87.68" y="126.30" width="1.90" height="10.60" fill="#bfbfc5" />
<rect x="90.59" y="126.30" width="1.90" height="10.60" fill="#bfbfc5" />
<rect x="93.50" y="126.30" width="1.90" height="10.60" fill="#bfbfc5" />
<rect x="96.41" y="126.30" width="1.90" height="10.60" fill="#bfbfc5" />
<rect x="99.32" y="126.30" width="1.90" height="10.60" fill="#bfbfc5" />
<rect x="102.22" y="126.30" width="1.90" height="10.60" fill="#bfbfc5" />
<rect x="105.13" y="126.30" width="1.90" height="10.60" fill="#bfbfc5" />
<rect x="108.04" y="126.30" width="1.90" height="10.60" fill="#bfbfc5" />
<rect x="110.95" y="126.30" width="1.90" height="10.60" fill="#bfbfc5" />
<rect x="113.86" y="126.30" width="1.90" height="10.60" fill="#bfbfc5" />
<rect x="116.76" y="126.30" width="1.90" height="10.60" fill="#bfbfc5" />
<rect x="119.67" y="126.30" width="1.90" height="10.60" fill="#bfbfc5" />
<rect x="122.58" y="126.30" width="1.90" height="10.60" fill="#bfbfc5" />
<rect x="125.49" y="126.30" width="1.90" height="10.60" fill="#bfbfc5" />
<rect x="128.40" y="126.30" width="1.90" height="10.60" fill="#bfbfc5" />
<rect x="131.30" y="126.30" width="1.90" height="10.60" fill="#bfbfc5" />
<rect x="133.71" y="126.30" width="2.90" height="10.60" fill="#93aece" />
<rect x="134.21" y="126.30" width="1.90" height="10.60" fill="#3b6ca6" />
<rect x="137.12" y="126.30" width="1.90" height="10.60" fill="#bfbfc5" />
<rect x="140.03" y="126.30" width="1.90" height="10.60" fill="#bfbfc5" />
<rect x="142.94" y="126.30" width="1.90" height="10.60" fill="#bfbfc5" />
<rect x="145.84" y="126.30" width="1.90" height="10.60" fill="#bfbfc5" />
<rect x="148.75" y="126.30" width="1.90" height="10.60" fill="#bfbfc5" />
<rect x="151.66" y="126.30" width="1.90" height="10.60" fill="#bfbfc5" />
<rect x="154.07" y="126.30" width="2.90" height="10.60" fill="#93aece" />
<rect x="154.57" y="126.30" width="1.90" height="10.60" fill="#3b6ca6" />
<rect x="157.48" y="126.30" width="1.90" height="10.60" fill="#bfbfc5" />
<rect x="160.38" y="126.30" width="1.90" height="10.60" fill="#bfbfc5" />
<rect x="163.29" y="126.30" width="1.90" height="10.60" fill="#bfbfc5" />
<rect x="165.70" y="126.30" width="2.90" height="10.60" fill="#e493a2" />
<rect x="166.20" y="126.30" width="1.90" height="10.60" fill="#cf3b57" />
<rect x="168.61" y="126.30" width="2.90" height="10.60" fill="#93aece" />
<rect x="169.11" y="126.30" width="1.90" height="10.60" fill="#3b6ca6" />
<rect x="172.02" y="126.30" width="1.90" height="10.60" fill="#bfbfc5" />
<rect x="174.92" y="126.30" width="1.90" height="10.60" fill="#bfbfc5" />
<rect x="177.83" y="126.30" width="1.90" height="10.60" fill="#bfbfc5" />
<rect x="180.74" y="126.30" width="1.90" height="10.60" fill="#bfbfc5" />
<rect x="183.65" y="126.30" width="1.90" height="10.60" fill="#bfbfc5" />
<rect x="186.56" y="126.30" width="1.90" height="10.60" fill="#bfbfc5" />
<rect x="189.46" y="126.30" width="1.90" height="10.60" fill="#bfbfc5" />
<rect x="192.37" y="126.30" width="1.90" height="10.60" fill="#bfbfc5" />
<rect x="195.28" y="126.30" width="1.90" height="10.60" fill="#bfbfc5" />
<rect x="198.19" y="126.30" width="1.90" height="10.60" fill="#bfbfc5" />
<rect x="201.10" y="126.30" width="1.90" height="10.60" fill="#bfbfc5" />
<rect x="204.00" y="126.30" width="1.90" height="10.60" fill="#bfbfc5" />
<rect x="206.91" y="126.30" width="1.90" height="10.60" fill="#bfbfc5" />
<rect x="209.82" y="126.30" width="1.90" height="10.60" fill="#bfbfc5" />
<rect x="212.73" y="126.30" width="1.90" height="10.60" fill="#bfbfc5" />
<rect x="215.64" y="126.30" width="1.90" height="10.60" fill="#bfbfc5" />
<rect x="218.54" y="126.30" width="1.90" height="10.60" fill="#bfbfc5" />
<rect x="221.45" y="126.30" width="1.90" height="10.60" fill="#bfbfc5" />
<rect x="224.36" y="126.30" width="1.90" height="10.60" fill="#bfbfc5" />
<rect x="227.27" y="126.30" width="1.90" height="10.60" fill="#bfbfc5" />
<rect x="230.18" y="126.30" width="1.90" height="10.60" fill="#bfbfc5" />
<rect x="233.08" y="126.30" width="1.90" height="10.60" fill="#bfbfc5" />
<rect x="235.99" y="126.30" width="1.90" height="10.60" fill="#bfbfc5" />
<rect x="238.90" y="126.30" width="1.90" height="10.60" fill="#bfbfc5" />
<rect x="241.81" y="126.30" width="1.90" height="10.60" fill="#bfbfc5" />
<rect x="244.72" y="126.30" width="1.90" height="10.60" fill="#bfbfc5" />
<rect x="247.62" y="126.30" width="1.90" height="10.60" fill="#bfbfc5" />
<rect x="250.53" y="126.30" width="1.90" height="10.60" fill="#bfbfc5" />
<rect x="253.44" y="126.30" width="1.90" height="10.60" fill="#bfbfc5" />
<rect x="256.35" y="126.30" width="1.90" height="10.60" fill="#bfbfc5" />
<rect x="259.26" y="126.30" width="1.90" height="10.60" fill="#bfbfc5" />
<rect x="262.16" y="126.30" width="1.90" height="10.60" fill="#bfbfc5" />
<rect x="265.07" y="126.30" width="1.90" height="10.60" fill="#bfbfc5" />
<rect x="267.98" y="126.30" width="1.90" height="10.60" fill="#bfbfc5" />
<rect x="270.89" y="126.30" width="1.90" height="10.60" fill="#bfbfc5" />
<rect x="273.80" y="126.30" width="1.90" height="10.60" fill="#bfbfc5" />
<rect x="276.70" y="126.30" width="1.90" height="10.60" fill="#bfbfc5" />
<rect x="279.61" y="126.30" width="1.90" height="10.60" fill="#bfbfc5" />
<rect x="282.52" y="126.30" width="1.90" height="10.60" fill="#bfbfc5" />
<rect x="285.43" y="126.30" width="1.90" height="10.60" fill="#bfbfc5" />
<rect x="288.34" y="126.30" width="1.90" height="10.60" fill="#bfbfc5" />
<rect x="291.24" y="126.30" width="1.90" height="10.60" fill="#bfbfc5" />
<rect x="294.15" y="126.30" width="1.90" height="10.60" fill="#bfbfc5" />
<rect x="297.06" y="126.30" width="1.90" height="10.60" fill="#bfbfc5" />
<rect x="299.97" y="126.30" width="1.90" height="10.60" fill="#bfbfc5" />
<rect x="302.88" y="126.30" width="1.90" height="10.60" fill="#bfbfc5" />
<rect x="305.78" y="126.30" width="1.90" height="10.60" fill="#bfbfc5" />
<rect x="308.69" y="126.30" width="1.90" height="10.60" fill="#bfbfc5" />
<rect x="311.60" y="126.30" width="1.90" height="10.60" fill="#bfbfc5" />
<rect x="314.51" y="126.30" width="1.90" height="10.60" fill="#bfbfc5" />
<rect x="317.42" y="126.30" width="1.90" height="10.60" fill="#bfbfc5" />
<rect x="320.32" y="126.30" width="1.90" height="10.60" fill="#bfbfc5" />
<text x="326.20" y="133.70" font-size="6" font-style="italic">Kit</text>
<rect x="20.60" y="138.30" width="301.82" height="10.60" fill="#e3e3e8" />
<rect x="20.80" y="138.30" width="1.90" height="10.60" fill="#bfbfc5" />
<rect x="23.71" y="138.30" width="1.90" height="10.60" fill="#bfbfc5" />
<rect x="26.62" y="138.30" width="1.90" height="10.60" fill="#bfbfc5" />
<rect x="29.52" y="138.30" width="1.90" height="10.60" fill="#bfbfc5" />
<rect x="32.43" y="138.30" width="1.90" height="10.60" fill="#bfbfc5" />
<rect x="35.34" y="138.30" width="1.90" height="10.60" fill="#bfbfc5" />
<rect x="38.25" y="138.30" width="1.90" height="10.60" fill="#bfbfc5" />
<rect x="41.16" y="138.30" width="1.90" height="10.60" fill="#bfbfc5" />
<rect x="43.56" y="138.30" width="2.90" height="10.60" fill="#93aece" />
<rect x="44.06" y="138.30" width="1.90" height="10.60" fill="#3b6ca6" />
<rect x="46.97" y="138.30" width="1.90" height="10.60" fill="#bfbfc5" />
<rect x="49.88" y="138.30" width="1.90" height="10.60" fill="#bfbfc5" />
<rect x="52.79" y="138.30" width="1.90" height="10.60" fill="#bfbfc5" />
<rect x="55.20" y="138.30" width="2.90" height="10.60" fill="#95bfaf" />
<rect x="55.70" y="138.30" width="1.90" height="10.60" fill="#3f8c6f" />
<rect x="58.60" y="138.30" width="1.90" height="10.60" fill="#bfbfc5" />
<rect x="61.51" y="138.30" width="1.90" height="10.60" fill="#bfbfc5" />
<rect x="63.92" y="138.30" width="2.90" height="10.60" fill="#93aece" />
<rect x="64.42" y="138.30" width="1.90" height="10.60" fill="#3b6ca6" />
<rect x="67.33" y="138.30" width="1.90" height="10.60" fill="#bfbfc5" />
<rect x="70.24" y="138.30" width="1.90" height="10.60" fill="#bfbfc5" />
<rect x="73.14" y="138.30" width="1.90" height="10.60" fill="#bfbfc5" />
<rect x="76.05" y="138.30" width="1.90" height="10.60" fill="#bfbfc5" />
<rect x="78.96" y="138.30" width="1.90" height="10.60" fill="#bfbfc5" />
<rect x="81.87" y="138.30" width="1.90" height="10.60" fill="#bfbfc5" />
<rect x="84.78" y="138.30" width="1.90" height="10.60" fill="#bfbfc5" />
<rect x="87.68" y="138.30" width="1.90" height="10.60" fill="#bfbfc5" />
<rect x="90.59" y="138.30" width="1.90" height="10.60" fill="#bfbfc5" />
<rect x="93.50" y="138.30" width="1.90" height="10.60" fill="#bfbfc5" />
<rect x="96.41" y="138.30" width="1.90" height="10.60" fill="#bfbfc5" />
<rect x="99.32" y="138.30" width="1.90" height="10.60" fill="#bfbfc5" />
<rect x="102.22" y="138.30" width="1.90" height="10.60" fill="#bfbfc5" />
<rect x="105.13" y="138.30" width="1.90" height="10.60" fill="#bfbfc5" />
<rect x="108.04" y="138.30" width="1.90" height="10.60" fill="#bfbfc5" />
<rect x="110.95" y="138.30" width="1.90" height="10.60" fill="#bfbfc5" />
<rect x="113.86" y="138.30" width="1.90" height="10.60" fill="#bfbfc5" />
<rect x="116.76" y="138.30" width="1.90" height="10.60" fill="#bfbfc5" />
<rect x="119.67" y="138.30" width="1.90" height="10.60" fill="#bfbfc5" />
<rect x="122.58" y="138.30" width="1.90" height="10.60" fill="#bfbfc5" />
<rect x="125.49" y="138.30" width="1.90" height="10.60" fill="#bfbfc5" />
<rect x="128.40" y="138.30" width="1.90" height="10.60" fill="#bfbfc5" />
<rect x="131.30" y="138.30" width="1.90" height="10.60" fill="#bfbfc5" />
<rect x="134.21" y="138.30" width="1.90" height="10.60" fill="#bfbfc5" />
<rect x="137.12" y="138.30" width="1.90" height="10.60" fill="#bfbfc5" />
<rect x="140.03" y="138.30" width="1.90" height="10.60" fill="#bfbfc5" />
<rect x="142.94" y="138.30" width="1.90" height="10.60" fill="#bfbfc5" />
<rect x="145.84" y="138.30" width="1.90" height="10.60" fill="#bfbfc5" />
<rect x="148.75" y="138.30" width="1.90" height="10.60" fill="#bfbfc5" />
<rect x="151.66" y="138.30" width="1.90" height="10.60" fill="#bfbfc5" />
<rect x="154.57" y="138.30" width="1.90" height="10.60" fill="#bfbfc5" />
<rect x="157.48" y="138.30" width="1.90" height="10.60" fill="#bfbfc5" />
<rect x="160.38" y="138.30" width="1.90" height="10.60" fill="#bfbfc5" />
<rect x="163.29" y="138.30" width="1.90" height="10.60" fill="#bfbfc5" />
<rect x="166.20" y="138.30" width="1.90" height="10.60" fill="#bfbfc5" />
<rect x="169.11" y="138.30" width="1.90" height="10.60" fill="#bfbfc5" />
<rect x="172.02" y="138.30" width="1.90" height="10.60" fill="#bfbfc5" />
<rect x="174.92" y="138.30" width="1.90" height="10.60" fill="#bfbfc5" />
<rect x="177.83" y="138.30" width="1.90" height="10.60" fill="#bfbfc5" />
<rect x="180.74" y="138.30" width="1.90" height="10.60" fill="#bfbfc5" />
<rect x="183.65" y="138.30" width="1.90" height="10.60" fill="#bfbfc5" />
<rect x="186.56" y="138.30" width="1.90" height="10.60" fill="#bfbfc5" />
<rect x="189.46" y="138.30" width="1.90" height="10.60" fill="#bfbfc5" />
<rect x="192.37" y="138.30" width="1.90" height="10.60" fill="#bfbfc5" />
<rect x="195.28" y="138.30" width="1.90" height="10.60" fill="#bfbfc5" />
<rect x="198.19" y="138.30" width="1.90" height="10.60" fill="#bfbfc5" />
<rect x="201.10" y="138.30" width="1.90" height="10.60" fill="#bfbfc5" />
<rect x="204.00" y="138.30" width="1.90" height="10.60" fill="#bfbfc5" />
<rect x="206.91" y="138.30" width="1.90" height="10.60" fill="#bfbfc5" />
<rect x="209.82" y="138.30" width="1.90" height="10.60" fill="#bfbfc5" />
<rect x="212.73" y="138.30" width="1.90" height="10.60" fill="#bfbfc5" />
<rect x="215.64" y="138.30" width="1.90" height="10.60" fill="#bfbfc5" />
<rect x="218.54" y="138.30" width="1.90" height="10.60" fill="#bfbfc5" />
<rect x="221.45" y="138.30" width="1.90" height="10.60" fill="#bfbfc5" />
<rect x="224.36" y="138.30" width="1.90" height="10.60" fill="#bfbfc5" />
<rect x="227.27" y="138.30" width="1.90" height="10.60" fill="#bfbfc5" />
<rect x="230.18" y="138.30" width="1.90" height="10.60" fill="#bfbfc5" />
<rect x="233.08" y="138.30" width="1.90" height="10.60" fill="#bfbfc5" />
<rect x="235.99" y="138.30" width="1.90" height="10.60" fill="#bfbfc5" />
<rect x="238.90" y="138.30" width="1.90" height="10.60" fill="#bfbfc5" />
<rect x="241.81" y="138.30" width="1.90" height="10.60" fill="#bfbfc5" />
<rect x="244.72" y="138.30" width="1.90" height="10.60" fill="#bfbfc5" />
<rect x="247.62" y="138.30" width="1.90" height="10.60" fill="#bfbfc5" />
<rect x="250.53" y="138.30" width="1.90" height="10.60" fill="#bfbfc5" />
<rect x="253.44" y="138.30" width="1.90" height="10.60" fill="#bfbfc5" />
<rect x="256.35" y="138.30" width="1.90" height="10.60" fill="#bfbfc5" />
<rect x="259.26" y="138.30" width="1.90" height="10.60" fill="#bfbfc5" />
<rect x="262.16" y="138.30" width="1.90" height="10.60" fill="#bfbfc5" />
<rect x="265.07" y="138.30" width="1.90" height="10.60" fill="#bfbfc5" />
<rect x="267.98" y="138.30" width="1.90" height="10.60" fill="#bfbfc5" />
<rect x="270.89" y="138.30" width="1.90" height="10.60" fill="#bfbfc5" />
<rect x="273.80" y="138.30" width="1.90" height="10.60" fill="#bfbfc5" />
<rect x="276.70" y="138.30" width="1.90" height="10.60" fill="#bfbfc5" />
<rect x="279.61" y="138.30" width="1.90" height="10.60" fill="#bfbfc5" />
<rect x="282.52" y="138.30" width="1.90" height="10.60" fill="#bfbfc5" />
<rect x="285.43" y="138.30" width="1.90" height="10.60" fill="#bfbfc5" />
<rect x="288.34" y="138.30" width="1.90" height="10.60" fill="#bfbfc5" />
<rect x="291.24" y="138.30" width="1.90" height="10.60" fill="#bfbfc5" />
<rect x="294.15" y="138.30" width="1.90" height="10.60" fill="#bfbfc5" />
<rect x="297.06" y="138.30" width="1.90" height="10.60" fill="#bfbfc5" />
<rect x="299.97" y="138.30" width="1.90" height="10.60" fill="#bfbfc5" />
<rect x="302.88" y="138.30" width="1.90" height="10.60" fill="#bfbfc5" />
<rect x="305.78" y="138.30" width="1.90" height="10.60" fill="#bfbfc5" />
<rect x="308.69" y="138.30" width="1.90" height="10.60" fill="#bfbfc5" />
<rect x="311.60" y="138.30" width="1.90" height="10.60" fill="#bfbfc5" />
<rect x="314.51" y="138.30" width="1.90" height="10.60" fill="#bfbfc5" />
<rect x="317.42" y="138.30" width="1.90" height="10.60" fill="#bfbfc5" />
<rect x="320.32" y="138.30" width="1.90" height="10.60" fill="#bfbfc5" />
<text x="326.20" y="145.70" font-size="6" font-style="italic">Cbl</text>
<rect x="20.60" y="150.30" width="301.82" height="10.60" fill="#e3e3e8" />
<rect x="20.80" y="150.30" width="1.90" height="10.60" fill="#bfbfc5" />
<rect x="23.71" y="150.30" width="1.90" height="10.60" fill="#bfbfc5" />
<rect x="26.12" y="150.30" width="2.90" height="10.60" fill="#95bfaf" />
<rect x="26.62" y="150.30" width="1.90" height="10.60" fill="#3f8c6f" />
<rect x="29.52" y="150.30" width="1.90" height="10.60" fill="#bfbfc5" />
<rect x="32.43" y="150.30" width="1.90" height="10.60" fill="#bfbfc5" />
<rect x="35.34" y="150.30" width="1.90" height="10.60" fill="#bfbfc5" />
<rect x="38.25" y="150.30" width="1.90" height="10.60" fill="#bfbfc5" />
<rect x="41.16" y="150.30" width="1.90" height="10.60" fill="#bfbfc5" />
<rect x="44.06" y="150.30" width="1.90" height="10.60" fill="#bfbfc5" />
<rect x="46.97" y="150.30" width="1.90" height="10.60" fill="#bfbfc5" />
<rect x="49.88" y="150.30" width="1.90" height="10.60" fill="#bfbfc5" />
<rect x="52.79" y="150.30" width="1.90" height="10.60" fill="#bfbfc5" />
<rect x="55.70" y="150.30" width="1.90" height="10.60" fill="#bfbfc5" />
<rect x="58.60" y="150.30" width="1.90" height="10.60" fill="#bfbfc5" />
<rect x="61.51" y="150.30" width="1.90" height="10.60" fill="#bfbfc5" />
<rect x="64.42" y="150.30" width="1.90" height="10.60" fill="#bfbfc5" />
<rect x="67.33" y="150.30" width="1.90" height="10.60" fill="#bfbfc5" />
<rect x="70.24" y="150.30" width="1.90" height="10.60" fill="#bfbfc5" />
<rect x="73.14" y="150.30" width="1.90" height="10.60" fill="#bfbfc5" />
<rect x="76.05" y="150.30" width="1.90" height="10.60" fill="#bfbfc5" />
<rect x="78.96" y="150.30" width="1.90" height="10.60" fill="#bfbfc5" />
<rect x="81.87" y="150.30" width="1.90" height="10.60" fill="#bfbfc5" />
<rect x="84.78" y="150.30" width="1.90" height="10.60" fill="#bfbfc5" />
<rect x="87.68" y="150.30" width="1.90" height="10.60" fill="#bfbfc5" />
<rect x="90.59" y="150.30" width="1.90" height="10.60" fill="#bfbfc5" />
<rect x="93.50" y="150.30" width="1.90" height="10.60" fill="#bfbfc5" />
<rect x="96.41" y="150.30" width="1.90" height="10.60" fill="#bfbfc5" />
<rect x="99.32" y="150.30" width="1.90" height="10.60" fill="#bfbfc5" />
<rect x="102.22" y="150.30" width="1.90" height="10.60" fill="#bfbfc5" />
<rect x="105.13" y="150.30" width="1.90" height="10.60" fill="#bfbfc5" />
<rect x="108.04" y="150.30" width="1.90" height="10.60" fill="#bfbfc5" />
<rect x="110.95" y="150.30" width="1.90" height="10.60" fill="#bfbfc5" />
<rect x="113.86" y="150.30" width="1.90" height="10.60" fill="#bfbfc5" />
<rect x="116.26" y="150.30" width="2.90" height="10.60" fill="#e493a2" />
<rect x="116.76" y="150.30" width="1.90" height="10.60" fill="#cf3b57" />
<rect x="119.67" y="150.30" width="1.90" height="10.60" fill="#bfbfc5" />
<rect x="122.58" y="150.30" width="1.90" height="10.60" fill="#bfbfc5" />
<rect x="125.49" y="150.30" width="1.90" height="10.60" fill="#bfbfc5" />
<rect x="128.40" y="150.30" width="1.90" height="10.60" fill="#bfbfc5" />
<rect x="131.30" y="150.30" width="1.90" height="10.60" fill="#bfbfc5" />
<rect x="134.21" y="150.30" width="1.90" height="10.60" fill="#bfbfc5" />
<rect x="137.12" y="150.30" width="1.90" height="10.60" fill="#bfbfc5" />
<rect x="140.03" y="150.30" width="1.90" height="10.60" fill="#bfbfc5" />
<rect x="142.94" y="150.30" width="1.90" height="10.60" fill="#bfbfc5" />
<rect x="145.84" y="150.30" width="1.90" height="10.60" fill="#bfbfc5" />
<rect x="148.75" y="150.30" width="1.90" height="10.60" fill="#bfbfc5" />
<rect x="151.66" y="150.30" width="1.90" height="10.60" fill="#bfbfc5" />
<rect x="154.57" y="150.30" width="1.90" height="10.60" fill="#bfbfc5" />
<rect x="157.48" y="150.30" width="1.90" height="10.60" fill="#bfbfc5" />
<rect x="160.38" y="150.30" width="1.90" height="10.60" fill="#bfbfc5" />
<rect x="163.29" y="150.30" width="1.90" height="10.60" fill="#bfbfc5" />
<rect x="166.20" y="150.30" width="1.90" height="10.60" fill="#bfbfc5" />
<rect x="169.11" y="150.30" width="1.90" height="10.60" fill="#bfbfc5" />
<rect x="172.02" y="150.30" width="1.90" height="10.60" fill="#bfbfc5" />
<rect x="174.92" y="150.30" width="1.90" height="10.60" fill="#bfbfc5" />
<rect x="177.83" y="150.30" width="1.90" height="10.60" fill="#bfbfc5" />
<rect x="180.74" y="150.30" width="1.90" height="10.60" fill="#bfbfc5" />
<rect x="183.65" y="150.30" width="1.90" height="10.60" fill="#bfbfc5" />
<rect x="186.56" y="150.30" width="1.90" height="10.60" fill="#bfbfc5" />
<rect x="189.46" y="150.30" width="1.90" height="10.60" fill="#bfbfc5" />
<rect x="192.37" y="150.30" width="1.90" height="10.60" fill="#bfbfc5" />
<rect x="195.28" y="150.30" width="1.90" height="10.60" fill="#bfbfc5" />
<rect x="198.19" y="150.30" width="1.90" height="10.60" fill="#bfbfc5" />
<rect x="201.10" y="150.30" width="1.90" height="10.60" fill="#bfbfc5" />
<rect x="204.00" y="150.30" width="1.90" height="10.60" fill="#bfbfc5" />
<rect x="206.91" y="150.30" width="1.90" height="10.60" fill="#bfbfc5" />
<rect x="209.82" y="150.30" width="1.90" height="10.60" fill="#bfbfc5" />
<rect x="212.73" y="150.30" width="1.90" height="10.60" fill="#bfbfc5" />
<rect x="215.64" y="150.30" width="1.90" height="10.60" fill="#bfbfc5" />
<rect x="218.54" y="150.30" width="1.90" height="10.60" fill="#bfbfc5" />
<rect x="221.45" y="150.30" width="1.90" height="10.60" fill="#bfbfc5" />
<rect x="224.36" y="150.30" width="1.90" height="10.60" fill="#bfbfc5" />
<rect x="227.27" y="150.30" width="1.90" height="10.60" fill="#bfbfc5" />
<rect x="230.18" y="150.30" width="1.90" height="10.60" fill="#bfbfc5" />
<rect x="233.08" y="150.30" width="1.90" height="10.60" fill="#bfbfc5" />
<rect x="235.99" y="150.30" width="1.90" height="10.60" fill="#bfbfc5" />
<rect x="238.90" y="150.30" width="1.90" height="10.60" fill="#bfbfc5" />
<rect x="241.81" y="150.30" width="1.90" height="10.60" fill="#bfbfc5" />
<rect x="244.72" y="150.30" width="1.90" height="10.60" fill="#bfbfc5" />
<rect x="247.62" y="150.30" width="1.90" height="10.60" fill="#bfbfc5" />
<rect x="250.53" y="150.30" width="1.90" height="10.60" fill="#bfbfc5" />
<rect x="253.44" y="150.30" width="1.90" height="10.60" fill="#bfbfc5" />
<rect x="256.35" y="150.30" width="1.90" height="10.60" fill="#bfbfc5" />
<rect x="259.26" y="150.30" width="1.90" height="10.60" fill="#bfbfc5" />
<rect x="262.16" y="150.30" width="1.90" height="10.60" fill="#bfbfc5" />
<rect x="265.07" y="150.30" width="1.90" height="10.60" fill="#bfbfc5" />
<rect x="267.98" y="150.30" width="1.90" height="10.60" fill="#bfbfc5" />
<rect x="270.89" y="150.30" width="1.90" height="10.60" fill="#bfbfc5" />
<rect x="273.80" y="150.30" width="1.90" height="10.60" fill="#bfbfc5" />
<rect x="276.70" y="150.30" width="1.90" height="10.60" fill="#bfbfc5" />
<rect x="279.61" y="150.30" width="1.90" height="10.60" fill="#bfbfc5" />
<rect x="282.52" y="150.30" width="1.90" height="10.60" fill="#bfbfc5" />
<rect x="285.43" y="150.30" width="1.90" height="10.60" fill="#bfbfc5" />
<rect x="288.34" y="150.30" width="1.90" height="10.60" fill="#bfbfc5" />
<rect x="291.24" y="150.30" width="1.90" height="10.60" fill="#bfbfc5" />
<rect x="294.15" y="150.30" width="1.90" height="10.60" fill="#bfbfc5" />
<rect x="297.06" y="150.30" width="1.90" height="10.60" fill="#bfbfc5" />
<rect x="299.97" y="150.30" width="1.90" height="10.60" fill="#bfbfc5" />
<rect x="302.88" y="150.30" width="1.90" height="10.60" fill="#bfbfc5" />
<rect x="305.78" y="150.30" width="1.90" height="10.60" fill="#bfbfc5" />
<rect x="308.69" y="150.30" width="1.90" height="10.60" fill="#bfbfc5" />
<rect x="311.60" y="150.30" width="1.90" height="10.60" fill="#bfbfc5" />
<rect x="314.51" y="150.30" width="1.90" height="10.60" fill="#bfbfc5" />
<rect x="317.42" y="150.30" width="1.90" height="10.60" fill="#bfbfc5" />
<rect x="320.32" y="150.30" width="1.90" height="10.60" fill="#bfbfc5" />
<text x="326.20" y="157.70" font-size="6" font-style="italic">Irf4</text>
<rect x="20.60" y="162.30" width="301.82" height="10.60" fill="#e3e3e8" />
<rect x="20.80" y="162.30" width="1.90" height="10.60" fill="#bfbfc5" />
<rect x="23.71" y="162.30" width="1.90" height="10.60" fill="#bfbfc5" />
<rect x="26.62" y="162.30" width="1.90" height="10.60" fill="#bfbfc5" />
<rect x="29.52" y="162.30" width="1.90" height="10.60" fill="#bfbfc5" />
<rect x="32.43" y="162.30" width="1.90" height="10.60" fill="#bfbfc5" />
<rect x="35.34" y="162.30" width="1.90" height="10.60" fill="#bfbfc5" />
<rect x="38.25" y="162.30" width="1.90" height="10.60" fill="#bfbfc5" />
<rect x="41.16" y="162.30" width="1.90" height="10.60" fill="#bfbfc5" />
<rect x="44.06" y="162.30" width="1.90" height="10.60" fill="#bfbfc5" />
<rect x="46.97" y="162.30" width="1.90" height="10.60" fill="#bfbfc5" />
<rect x="49.88" y="162.30" width="1.90" height="10.60" fill="#bfbfc5" />
<rect x="52.79" y="162.30" width="1.90" height="10.60" fill="#bfbfc5" />
<rect x="55.70" y="162.30" width="1.90" height="10.60" fill="#bfbfc5" />
<rect x="58.60" y="162.30" width="1.90" height="10.60" fill="#bfbfc5" />
<rect x="61.51" y="162.30" width="1.90" height="10.60" fill="#bfbfc5" />
<rect x="64.42" y="162.30" width="1.90" height="10.60" fill="#bfbfc5" />
<rect x="67.33" y="162.30" width="1.90" height="10.60" fill="#bfbfc5" />
<rect x="70.24" y="162.30" width="1.90" height="10.60" fill="#bfbfc5" />
<rect x="73.14" y="162.30" width="1.90" height="10.60" fill="#bfbfc5" />
<rect x="76.05" y="162.30" width="1.90" height="10.60" fill="#bfbfc5" />
<rect x="78.96" y="162.30" width="1.90" height="10.60" fill="#bfbfc5" />
<rect x="81.87" y="162.30" width="1.90" height="10.60" fill="#bfbfc5" />
<rect x="84.78" y="162.30" width="1.90" height="10.60" fill="#bfbfc5" />
<rect x="87.68" y="162.30" width="1.90" height="10.60" fill="#bfbfc5" />
<rect x="90.59" y="162.30" width="1.90" height="10.60" fill="#bfbfc5" />
<rect x="93.50" y="162.30" width="1.90" height="10.60" fill="#bfbfc5" />
<rect x="96.41" y="162.30" width="1.90" height="10.60" fill="#bfbfc5" />
<rect x="99.32" y="162.30" width="1.90" height="10.60" fill="#bfbfc5" />
<rect x="102.22" y="162.30" width="1.90" height="10.60" fill="#bfbfc5" />
<rect x="105.13" y="162.30" width="1.90" height="10.60" fill="#bfbfc5" />
<rect x="108.04" y="162.30" width="1.90" height="10.60" fill="#bfbfc5" />
<rect x="110.95" y="162.30" width="1.90" height="10.60" fill="#bfbfc5" />
<rect x="113.86" y="162.30" width="1.90" height="10.60" fill="#bfbfc5" />
<rect x="116.76" y="162.30" width="1.90" height="10.60" fill="#bfbfc5" />
<rect x="119.67" y="162.30" width="1.90" height="10.60" fill="#bfbfc5" />
<rect x="122.58" y="162.30" width="1.90" height="10.60" fill="#bfbfc5" />
<rect x="125.49" y="162.30" width="1.90" height="10.60" fill="#bfbfc5" />
<rect x="128.40" y="162.30" width="1.90" height="10.60" fill="#bfbfc5" />
<rect x="131.30" y="162.30" width="1.90" height="10.60" fill="#bfbfc5" />
<rect x="134.21" y="162.30" width="1.90" height="10.60" fill="#bfbfc5" />
<rect x="137.12" y="162.30" width="1.90" height="10.60" fill="#bfbfc5" />
<rect x="140.03" y="162.30" width="1.90" height="10.60" fill="#bfbfc5" />
<rect x="142.94" y="162.30" width="1.90" height="10.60" fill="#bfbfc5" />
<rect x="145.84" y="162.30" width="1.90" height="10.60" fill="#bfbfc5" />
<rect x="148.75" y="162.30" width="1.90" height="10.60" fill="#bfbfc5" />
<rect x="151.66" y="162.30" width="1.90" height="10.60" fill="#bfbfc5" />
<rect x="154.57" y="162.30" width="1.90" height="10.60" fill="#bfbfc5" />
<rect x="157.48" y="162.30" width="1.90" height="10.60" fill="#bfbfc5" />
<rect x="160.38" y="162.30" width="1.90" height="10.60" fill="#bfbfc5" />
<rect x="162.79" y="162.30" width="2.90" height="10.60" fill="#93aece" />
<rect x="163.29" y="162.30" width="1.90" height="10.60" fill="#3b6ca6" />
<rect x="166.20" y="162.30" width="1.90" height="10.60" fill="#bfbfc5" />
<rect x="169.11" y="162.30" width="1.90" height="10.60" fill="#bfbfc5" />
<rect x="171.52" y="162.30" width="2.90" height="10.60" fill="#93aece" />
<rect x="172.02" y="162.30" width="1.90" height="10.60" fill="#3b6ca6" />
<rect x="174.92" y="162.30" width="1.90" height="10.60" fill="#bfbfc5" />
<rect x="177.83" y="162.30" width="1.90" height="10.60" fill="#bfbfc5" />
<rect x="180.74" y="162.30" width="1.90" height="10.60" fill="#bfbfc5" />
<rect x="183.65" y="162.30" width="1.90" height="10.60" fill="#bfbfc5" />
<rect x="186.56" y="162.30" width="1.90" height="10.60" fill="#bfbfc5" />
<rect x="189.46" y="162.30" width="1.90" height="10.60" fill="#bfbfc5" />
<rect x="192.37" y="162.30" width="1.90" height="10.60" fill="#bfbfc5" />
<rect x="195.28" y="162.30" width="1.90" height="10.60" fill="#bfbfc5" />
<rect x="198.19" y="162.30" width="1.90" height="10.60" fill="#bfbfc5" />
<rect x="201.10" y="162.30" width="1.90" height="10.60" fill="#bfbfc5" />
<rect x="204.00" y="162.30" width="1.90" height="10.60" fill="#bfbfc5" />
<rect x="206.91" y="162.30" width="1.90" height="10.60" fill="#bfbfc5" />
<rect x="209.82" y="162.30" width="1.90" height="10.60" fill="#bfbfc5" />
<rect x="212.73" y="162.30" width="1.90" height="10.60" fill="#bfbfc5" />
<rect x="215.64" y="162.30" width="1.90" height="10.60" fill="#bfbfc5" />
<rect x="218.54" y="162.30" width="1.90" height="10.60" fill="#bfbfc5" />
<rect x="221.45" y="162.30" width="1.90" height="10.60" fill="#bfbfc5" />
<rect x="224.36" y="162.30" width="1.90" height="10.60" fill="#bfbfc5" />
<rect x="227.27" y="162.30" width="1.90" height="10.60" fill="#bfbfc5" />
<rect x="230.18" y="162.30" width="1.90" height="10.60" fill="#bfbfc5" />
<rect x="233.08" y="162.30" width="1.90" height="10.60" fill="#bfbfc5" />
<rect x="235.99" y="162.30" width="1.90" height="10.60" fill="#bfbfc5" />
<rect x="238.90" y="162.30" width="1.90" height="10.60" fill="#bfbfc5" />
<rect x="241.81" y="162.30" width="1.90" height="10.60" fill="#bfbfc5" />
<rect x="244.72" y="162.30" width="1.90" height="10.60" fill="#bfbfc5" />
<rect x="247.62" y="162.30" width="1.90" height="10.60" fill="#bfbfc5" />
<rect x="250.53" y="162.30" width="1.90" height="10.60" fill="#bfbfc5" />
<rect x="253.44" y="162.30" width="1.90" height="10.60" fill="#bfbfc5" />
<rect x="256.35" y="162.30" width="1.90" height="10.60" fill="#bfbfc5" />
<rect x="259.26" y="162.30" width="1.90" height="10.60" fill="#bfbfc5" />
<rect x="262.16" y="162.30" width="1.90" height="10.60" fill="#bfbfc5" />
<rect x="265.07" y="162.30" width="1.90" height="10.60" fill="#bfbfc5" />
<rect x="267.98" y="162.30" width="1.90" height="10.60" fill="#bfbfc5" />
<rect x="270.89" y="162.30" width="1.90" height="10.60" fill="#bfbfc5" />
<rect x="273.80" y="162.30" width="1.90" height="10.60" fill="#bfbfc5" />
<rect x="276.70" y="162.30" width="1.90" height="10.60" fill="#bfbfc5" />
<rect x="279.61" y="162.30" width="1.90" height="10.60" fill="#bfbfc5" />
<rect x="282.52" y="162.30" width="1.90" height="10.60" fill="#bfbfc5" />
<rect x="285.43" y="162.30" width="1.90" height="10.60" fill="#bfbfc5" />
<rect x="288.34" y="162.30" width="1.90" height="10.60" fill="#bfbfc5" />
<rect x="291.24" y="162.30" width="1.90" height="10.60" fill="#bfbfc5" />
<rect x="294.15" y="162.30" width="1.90" height="10.60" fill="#bfbfc5" />
<rect x="297.06" y="162.30" width="1.90" height="10.60" fill="#bfbfc5" />
<rect x="299.97" y="162.30" width="1.90" height="10.60" fill="#bfbfc5" />
<rect x="302.88" y="162.30" width="1.90" height="10.60" fill="#bfbfc5" />
<rect x="305.78" y="162.30" width="1.90" height="10.60" fill="#bfbfc5" />
<rect x="308.69" y="162.30" width="1.90" height="10.60" fill="#bfbfc5" />
<rect x="311.60" y="162.30" width="1.90" height="10.60" fill="#bfbfc5" />
<rect x="314.51" y="162.30" width="1.90" height="10.60" fill="#bfbfc5" />
<rect x="317.42" y="162.30" width="1.90" height="10.60" fill="#bfbfc5" />
<rect x="320.32" y="162.30" width="1.90" height="10.60" fill="#bfbfc5" />
<text x="326.20" y="169.70" font-size="6" font-style="italic">Kras</text>
<rect x="20.60" y="174.30" width="301.82" height="10.60" fill="#e3e3e8" />
<rect x="20.80" y="174.30" width="1.90" height="10.60" fill="#bfbfc5" />
<rect x="23.71" y="174.30" width="1.90" height="10.60" fill="#bfbfc5" />
<rect x="26.62" y="174.30" width="1.90" height="10.60" fill="#bfbfc5" />
<rect x="29.52" y="174.30" width="1.90" height="10.60" fill="#bfbfc5" />
<rect x="32.43" y="174.30" width="1.90" height="10.60" fill="#bfbfc5" />
<rect x="35.34" y="174.30" width="1.90" height="10.60" fill="#bfbfc5" />
<rect x="38.25" y="174.30" width="1.90" height="10.60" fill="#bfbfc5" />
<rect x="41.16" y="174.30" width="1.90" height="10.60" fill="#bfbfc5" />
<rect x="44.06" y="174.30" width="1.90" height="10.60" fill="#bfbfc5" />
<rect x="46.47" y="174.30" width="2.90" height="10.60" fill="#93aece" />
<rect x="46.97" y="174.30" width="1.90" height="10.60" fill="#3b6ca6" />
<rect x="49.88" y="174.30" width="1.90" height="10.60" fill="#bfbfc5" />
<rect x="52.79" y="174.30" width="1.90" height="10.60" fill="#bfbfc5" />
<rect x="55.70" y="174.30" width="1.90" height="10.60" fill="#bfbfc5" />
<rect x="58.60" y="174.30" width="1.90" height="10.60" fill="#bfbfc5" />
<rect x="61.51" y="174.30" width="1.90" height="10.60" fill="#bfbfc5" />
<rect x="64.42" y="174.30" width="1.90" height="10.60" fill="#bfbfc5" />
<rect x="67.33" y="174.30" width="1.90" height="10.60" fill="#bfbfc5" />
<rect x="70.24" y="174.30" width="1.90" height="10.60" fill="#bfbfc5" />
<rect x="73.14" y="174.30" width="1.90" height="10.60" fill="#bfbfc5" />
<rect x="76.05" y="174.30" width="1.90" height="10.60" fill="#bfbfc5" />
<rect x="78.96" y="174.30" width="1.90" height="10.60" fill="#bfbfc5" />
<rect x="81.87" y="174.30" width="1.90" height="10.60" fill="#bfbfc5" />
<rect x="84.78" y="174.30" width="1.90" height="10.60" fill="#bfbfc5" />
<rect x="87.68" y="174.30" width="1.90" height="10.60" fill="#bfbfc5" />
<rect x="90.59" y="174.30" width="1.90" height="10.60" fill="#bfbfc5" />
<rect x="93.50" y="174.30" width="1.90" height="10.60" fill="#bfbfc5" />
<rect x="96.41" y="174.30" width="1.90" height="10.60" fill="#bfbfc5" />
<rect x="99.32" y="174.30" width="1.90" height="10.60" fill="#bfbfc5" />
<rect x="102.22" y="174.30" width="1.90" height="10.60" fill="#bfbfc5" />
<rect x="105.13" y="174.30" width="1.90" height="10.60" fill="#bfbfc5" />
<rect x="108.04" y="174.30" width="1.90" height="10.60" fill="#bfbfc5" />
<rect x="110.95" y="174.30" width="1.90" height="10.60" fill="#bfbfc5" />
<rect x="113.86" y="174.30" width="1.90" height="10.60" fill="#bfbfc5" />
<rect x="116.76" y="174.30" width="1.90" height="10.60" fill="#bfbfc5" />
<rect x="119.67" y="174.30" width="1.90" height="10.60" fill="#bfbfc5" />
<rect x="122.58" y="174.30" width="1.90" height="10.60" fill="#bfbfc5" />
<rect x="125.49" y="174.30" width="1.90" height="10.60" fill="#bfbfc5" />
<rect x="128.40" y="174.30" width="1.90" height="10.60" fill="#bfbfc5" />
<rect x="131.30" y="174.30" width="1.90" height="10.60" fill="#bfbfc5" />
<rect x="134.21" y="174.30" width="1.90" height="10.60" fill="#bfbfc5" />
<rect x="137.12" y="174.30" width="1.90" height="10.60" fill="#bfbfc5" />
<rect x="139.53" y="174.30" width="2.90" height="10.60" fill="#93aece" />
<rect x="140.03" y="174.30" width="1.90" height="10.60" fill="#3b6ca6" />
<rect x="142.94" y="174.30" width="1.90" height="10.60" fill="#bfbfc5" />
<rect x="145.84" y="174.30" width="1.90" height="10.60" fill="#bfbfc5" />
<rect x="148.75" y="174.30" width="1.90" height="10.60" fill="#bfbfc5" />
<rect x="151.66" y="174.30" width="1.90" height="10.60" fill="#bfbfc5" />
<rect x="154.57" y="174.30" width="1.90" height="10.60" fill="#bfbfc5" />
<rect x="157.48" y="174.30" width="1.90" height="10.60" fill="#bfbfc5" />
<rect x="160.38" y="174.30" width="1.90" height="10.60" fill="#bfbfc5" />
<rect x="163.29" y="174.30" width="1.90" height="10.60" fill="#bfbfc5" />
<rect x="166.20" y="174.30" width="1.90" height="10.60" fill="#bfbfc5" />
<rect x="169.11" y="174.30" width="1.90" height="10.60" fill="#bfbfc5" />
<rect x="172.02" y="174.30" width="1.90" height="10.60" fill="#bfbfc5" />
<rect x="174.92" y="174.30" width="1.90" height="10.60" fill="#bfbfc5" />
<rect x="177.83" y="174.30" width="1.90" height="10.60" fill="#bfbfc5" />
<rect x="180.74" y="174.30" width="1.90" height="10.60" fill="#bfbfc5" />
<rect x="183.65" y="174.30" width="1.90" height="10.60" fill="#bfbfc5" />
<rect x="186.56" y="174.30" width="1.90" height="10.60" fill="#bfbfc5" />
<rect x="189.46" y="174.30" width="1.90" height="10.60" fill="#bfbfc5" />
<rect x="192.37" y="174.30" width="1.90" height="10.60" fill="#bfbfc5" />
<rect x="195.28" y="174.30" width="1.90" height="10.60" fill="#bfbfc5" />
<rect x="198.19" y="174.30" width="1.90" height="10.60" fill="#bfbfc5" />
<rect x="201.10" y="174.30" width="1.90" height="10.60" fill="#bfbfc5" />
<rect x="204.00" y="174.30" width="1.90" height="10.60" fill="#bfbfc5" />
<rect x="206.91" y="174.30" width="1.90" height="10.60" fill="#bfbfc5" />
<rect x="209.82" y="174.30" width="1.90" height="10.60" fill="#bfbfc5" />
<rect x="212.73" y="174.30" width="1.90" height="10.60" fill="#bfbfc5" />
<rect x="215.64" y="174.30" width="1.90" height="10.60" fill="#bfbfc5" />
<rect x="218.54" y="174.30" width="1.90" height="10.60" fill="#bfbfc5" />
<rect x="221.45" y="174.30" width="1.90" height="10.60" fill="#bfbfc5" />
<rect x="224.36" y="174.30" width="1.90" height="10.60" fill="#bfbfc5" />
<rect x="227.27" y="174.30" width="1.90" height="10.60" fill="#bfbfc5" />
<rect x="230.18" y="174.30" width="1.90" height="10.60" fill="#bfbfc5" />
<rect x="233.08" y="174.30" width="1.90" height="10.60" fill="#bfbfc5" />
<rect x="235.99" y="174.30" width="1.90" height="10.60" fill="#bfbfc5" />
<rect x="238.90" y="174.30" width="1.90" height="10.60" fill="#bfbfc5" />
<rect x="241.81" y="174.30" width="1.90" height="10.60" fill="#bfbfc5" />
<rect x="244.72" y="174.30" width="1.90" height="10.60" fill="#bfbfc5" />
<rect x="247.62" y="174.30" width="1.90" height="10.60" fill="#bfbfc5" />
<rect x="250.53" y="174.30" width="1.90" height="10.60" fill="#bfbfc5" />
<rect x="253.44" y="174.30" width="1.90" height="10.60" fill="#bfbfc5" />
<rect x="256.35" y="174.30" width="1.90" height="10.60" fill="#bfbfc5" />
<rect x="259.26" y="174.30" width="1.90" height="10.60" fill="#bfbfc5" />
<rect x="262.16" y="174.30" width="1.90" height="10.60" fill="#bfbfc5" />
<rect x="265.07" y="174.30" width="1.90" height="10.60" fill="#bfbfc5" />
<rect x="267.98" y="174.30" width="1.90" height="10.60" fill="#bfbfc5" />
<rect x="270.89" y="174.30" width="1.90" height="10.60" fill="#bfbfc5" />
<rect x="273.80" y="174.30" width="1.90" height="10.60" fill="#bfbfc5" />
<rect x="276.70" y="174.30" width="1.90" height="10.60" fill="#bfbfc5" />
<rect x="279.61" y="174.30" width="1.90" height="10.60" fill="#bfbfc5" />
<rect x="282.52" y="174.30" width="1.90" height="10.60" fill="#bfbfc5" />
<rect x="285.43" y="174.30" width="1.90" height="10.60" fill="#bfbfc5" />
<rect x="288.34" y="174.30" width="1.90" height="10.60" fill="#bfbfc5" />
<rect x="291.24" y="174.30" width="1.90" height="10.60" fill="#bfbfc5" />
<rect x="294.15" y="174.30" width="1.90" height="10.60" fill="#bfbfc5" />
<rect x="297.06" y="174.30" width="1.90" height="10.60" fill="#bfbfc5" />
<rect x="299.97" y="174.30" width="1.90" height="10.60" fill="#bfbfc5" />
<rect x="302.88" y="174.30" width="1.90" height="10.60" fill="#bfbfc5" />
<rect x="305.78" y="174.30" width="1.90" height="10.60" fill="#bfbfc5" />
<rect x="308.69" y="174.30" width="1.90" height="10.60" fill="#bfbfc5" />
<rect x="311.60" y="174.30" width="1.90" height="10.60" fill="#bfbfc5" />
<rect x="314.51" y="174.30" width="1.90" height="10.60" fill="#bfbfc5" />
<rect x="317.42" y="174.30" width="1.90" height="10.60" fill="#bfbfc5" />
<rect x="320.32" y="174.30" width="1.90" height="10.60" fill="#bfbfc5" />
<text x="326.20" y="181.70" font-size="6" font-style="italic">Stat5a</text>
<rect x="20.60" y="186.30" width="301.82" height="10.60" fill="#e3e3e8" />
<rect x="20.80" y="186.30" width="1.90" height="10.60" fill="#bfbfc5" />
<rect x="23.71" y="186.30" width="1.90" height="10.60" fill="#bfbfc5" />
<rect x="26.62" y="186.30" width="1.90" height="10.60" fill="#bfbfc5" />
<rect x="29.52" y="186.30" width="1.90" height="10.60" fill="#bfbfc5" />
<rect x="32.43" y="186.30" width="1.90" height="10.60" fill="#bfbfc5" />
<rect x="34.84" y="186.30" width="2.90" height="10.60" fill="#93aece" />
<rect x="35.34" y="186.30" width="1.90" height="10.60" fill="#3b6ca6" />
<rect x="38.25" y="186.30" width="1.90" height="10.60" fill="#bfbfc5" />
<rect x="41.16" y="186.30" width="1.90" height="10.60" fill="#bfbfc5" />
<rect x="44.06" y="186.30" width="1.90" height="10.60" fill="#bfbfc5" />
<rect x="46.97" y="186.30" width="1.90" height="10.60" fill="#bfbfc5" />
<rect x="49.88" y="186.30" width="1.90" height="10.60" fill="#bfbfc5" />
<rect x="52.79" y="186.30" width="1.90" height="10.60" fill="#bfbfc5" />
<rect x="55.70" y="186.30" width="1.90" height="10.60" fill="#bfbfc5" />
<rect x="58.60" y="186.30" width="1.90" height="10.60" fill="#bfbfc5" />
<rect x="61.51" y="186.30" width="1.90" height="10.60" fill="#bfbfc5" />
<rect x="64.42" y="186.30" width="1.90" height="10.60" fill="#bfbfc5" />
<rect x="67.33" y="186.30" width="1.90" height="10.60" fill="#bfbfc5" />
<rect x="70.24" y="186.30" width="1.90" height="10.60" fill="#bfbfc5" />
<rect x="73.14" y="186.30" width="1.90" height="10.60" fill="#bfbfc5" />
<rect x="76.05" y="186.30" width="1.90" height="10.60" fill="#bfbfc5" />
<rect x="78.96" y="186.30" width="1.90" height="10.60" fill="#bfbfc5" />
<rect x="81.87" y="186.30" width="1.90" height="10.60" fill="#bfbfc5" />
<rect x="84.78" y="186.30" width="1.90" height="10.60" fill="#bfbfc5" />
<rect x="87.68" y="186.30" width="1.90" height="10.60" fill="#bfbfc5" />
<rect x="90.59" y="186.30" width="1.90" height="10.60" fill="#bfbfc5" />
<rect x="93.50" y="186.30" width="1.90" height="10.60" fill="#bfbfc5" />
<rect x="96.41" y="186.30" width="1.90" height="10.60" fill="#bfbfc5" />
<rect x="99.32" y="186.30" width="1.90" height="10.60" fill="#bfbfc5" />
<rect x="102.22" y="186.30" width="1.90" height="10.60" fill="#bfbfc5" />
<rect x="105.13" y="186.30" width="1.90" height="10.60" fill="#bfbfc5" />
<rect x="108.04" y="186.30" width="1.90" height="10.60" fill="#bfbfc5" />
<rect x="110.95" y="186.30" width="1.90" height="10.60" fill="#bfbfc5" />
<rect x="113.86" y="186.30" width="1.90" height="10.60" fill="#bfbfc5" />
<rect x="116.76" y="186.30" width="1.90" height="10.60" fill="#bfbfc5" />
<rect x="119.17" y="186.30" width="2.90" height="10.60" fill="#93aece" />
<rect x="119.67" y="186.30" width="1.90" height="10.60" fill="#3b6ca6" />
<rect x="122.58" y="186.30" width="1.90" height="10.60" fill="#bfbfc5" />
<rect x="125.49" y="186.30" width="1.90" height="10.60" fill="#bfbfc5" />
<rect x="128.40" y="186.30" width="1.90" height="10.60" fill="#bfbfc5" />
<rect x="131.30" y="186.30" width="1.90" height="10.60" fill="#bfbfc5" />
<rect x="134.21" y="186.30" width="1.90" height="10.60" fill="#bfbfc5" />
<rect x="137.12" y="186.30" width="1.90" height="10.60" fill="#bfbfc5" />
<rect x="140.03" y="186.30" width="1.90" height="10.60" fill="#bfbfc5" />
<rect x="142.94" y="186.30" width="1.90" height="10.60" fill="#bfbfc5" />
<rect x="145.84" y="186.30" width="1.90" height="10.60" fill="#bfbfc5" />
<rect x="148.75" y="186.30" width="1.90" height="10.60" fill="#bfbfc5" />
<rect x="151.66" y="186.30" width="1.90" height="10.60" fill="#bfbfc5" />
<rect x="154.57" y="186.30" width="1.90" height="10.60" fill="#bfbfc5" />
<rect x="157.48" y="186.30" width="1.90" height="10.60" fill="#bfbfc5" />
<rect x="160.38" y="186.30" width="1.90" height="10.60" fill="#bfbfc5" />
<rect x="163.29" y="186.30" width="1.90" height="10.60" fill="#bfbfc5" />
<rect x="166.20" y="186.30" width="1.90" height="10.60" fill="#bfbfc5" />
<rect x="169.11" y="186.30" width="1.90" height="10.60" fill="#bfbfc5" />
<rect x="172.02" y="186.30" width="1.90" height="10.60" fill="#bfbfc5" />
<rect x="174.92" y="186.30" width="1.90" height="10.60" fill="#bfbfc5" />
<rect x="177.83" y="186.30" width="1.90" height="10.60" fill="#bfbfc5" />
<rect x="180.74" y="186.30" width="1.90" height="10.60" fill="#bfbfc5" />
<rect x="183.65" y="186.30" width="1.90" height="10.60" fill="#bfbfc5" />
<rect x="186.56" y="186.30" width="1.90" height="10.60" fill="#bfbfc5" />
<rect x="189.46" y="186.30" width="1.90" height="10.60" fill="#bfbfc5" />
<rect x="192.37" y="186.30" width="1.90" height="10.60" fill="#bfbfc5" />
<rect x="195.28" y="186.30" width="1.90" height="10.60" fill="#bfbfc5" />
<rect x="198.19" y="186.30" width="1.90" height="10.60" fill="#bfbfc5" />
<rect x="201.10" y="186.30" width="1.90" height="10.60" fill="#bfbfc5" />
<rect x="204.00" y="186.30" width="1.90" height="10.60" fill="#bfbfc5" />
<rect x="206.91" y="186.30" width="1.90" height="10.60" fill="#bfbfc5" />
<rect x="209.82" y="186.30" width="1.90" height="10.60" fill="#bfbfc5" />
<rect x="212.73" y="186.30" width="1.90" height="10.60" fill="#bfbfc5" />
<rect x="215.64" y="186.30" width="1.90" height="10.60" fill="#bfbfc5" />
<rect x="218.54" y="186.30" width="1.90" height="10.60" fill="#bfbfc5" />
<rect x="221.45" y="186.30" width="1.90" height="10.60" fill="#bfbfc5" />
<rect x="224.36" y="186.30" width="1.90" height="10.60" fill="#bfbfc5" />
<rect x="227.27" y="186.30" width="1.90" height="10.60" fill="#bfbfc5" />
<rect x="230.18" y="186.30" width="1.90" height="10.60" fill="#bfbfc5" />
<rect x="233.08" y="186.30" width="1.90" height="10.60" fill="#bfbfc5" />
<rect x="235.99" y="186.30" width="1.90" height="10.60" fill="#bfbfc5" />
<rect x="238.90" y="186.30" width="1.90" height="10.60" fill="#bfbfc5" />
<rect x="241.81" y="186.30" width="1.90" height="10.60" fill="#bfbfc5" />
<rect x="244.72" y="186.30" width="1.90" height="10.60" fill="#bfbfc5" />
<rect x="247.62" y="186.30" width="1.90" height="10.60" fill="#bfbfc5" />
<rect x="250.53" y="186.30" width="1.90" height="10.60" fill="#bfbfc5" />
<rect x="253.44" y="186.30" width="1.90" height="10.60" fill="#bfbfc5" />
<rect x="256.35" y="186.30" width="1.90" height="10.60" fill="#bfbfc5" />
<rect x="259.26" y="186.30" width="1.90" height="10.60" fill="#bfbfc5" />
<rect x="262.16" y="186.30" width="1.90" height="10.60" fill="#bfbfc5" />
<rect x="265.07" y="186.30" width="1.90" height="10.60" fill="#bfbfc5" />
<rect x="267.98" y="186.30" width="1.90" height="10.60" fill="#bfbfc5" />
<rect x="270.89" y="186.30" width="1.90" height="10.60" fill="#bfbfc5" />
<rect x="273.80" y="186.30" width="1.90" height="10.60" fill="#bfbfc5" />
<rect x="276.70" y="186.30" width="1.90" height="10.60" fill="#bfbfc5" />
<rect x="279.61" y="186.30" width="1.90" height="10.60" fill="#bfbfc5" />
<rect x="282.52" y="186.30" width="1.90" height="10.60" fill="#bfbfc5" />
<rect x="285.43" y="186.30" width="1.90" height="10.60" fill="#bfbfc5" />
<rect x="288.34" y="186.30" width="1.90" height="10.60" fill="#bfbfc5" />
<rect x="291.24" y="186.30" width="1.90" height="10.60" fill="#bfbfc5" />
<rect x="294.15" y="186.30" width="1.90" height="10.60" fill="#bfbfc5" />
<rect x="297.06" y="186.30" width="1.90" height="10.60" fill="#bfbfc5" />
<rect x="299.97" y="186.30" width="1.90" height="10.60" fill="#bfbfc5" />
<rect x="302.88" y="186.30" width="1.90" height="10.60" fill="#bfbfc5" />
<rect x="305.78" y="186.30" width="1.90" height="10.60" fill="#bfbfc5" />
<rect x="308.69" y="186.30" width="1.90" height="10.60" fill="#bfbfc5" />
<rect x="311.60" y="186.30" width="1.90" height="10.60" fill="#bfbfc5" />
<rect x="314.51" y="186.30" width="1.90" height="10.60" fill="#bfbfc5" />
<rect x="317.42" y="186.30" width="1.90" height="10.60" fill="#bfbfc5" />
<rect x="320.32" y="186.30" width="1.90" height="10.60" fill="#bfbfc5" />
<text x="326.20" y="193.70" font-size="6" font-style="italic">Stat5b</text>
<rect x="20.80" y="200.50" width="1.90" height="6.00" fill="#b71540" />
<rect x="20.80" y="208.70" width="1.90" height="6.00" fill="#17584a" />
<rect x="20.80" y="216.90" width="1.90" height="5.80" fill="#cde3b7" />
<rect x="23.71" y="200.50" width="1.90" height="6.00" fill="#b71540" />
<rect x="23.71" y="208.70" width="1.90" height="6.00" fill="#9282cf" />
<rect x="23.71" y="216.90" width="1.90" height="5.80" fill="#cde3b7" />
<rect x="26.62" y="200.50" width="1.90" height="6.00" fill="#b71540" />
<rect x="26.62" y="208.70" width="1.90" height="6.00" fill="#f4c125" />
<rect x="26.62" y="216.90" width="1.90" height="5.80" fill="#eeb3bf" />
<rect x="29.52" y="200.50" width="1.90" height="6.00" fill="#37aee3" />
<rect x="29.52" y="208.70" width="1.90" height="6.00" fill="#9282cf" />
<rect x="29.52" y="216.90" width="1.90" height="5.80" fill="#eeb3bf" />
<rect x="32.43" y="200.50" width="1.90" height="6.00" fill="#e0238b" />
<rect x="32.43" y="208.70" width="1.90" height="6.00" fill="#9282cf" />
<rect x="32.43" y="216.90" width="1.90" height="5.80" fill="#cde3b7" />
<rect x="35.34" y="200.50" width="1.90" height="6.00" fill="#e0238b" />
<rect x="35.34" y="208.70" width="1.90" height="6.00" fill="#17584a" />
<rect x="35.34" y="216.90" width="1.90" height="5.80" fill="#cde3b7" />
<rect x="38.25" y="200.50" width="1.90" height="6.00" fill="#e0238b" />
<rect x="38.25" y="208.70" width="1.90" height="6.00" fill="#9282cf" />
<rect x="38.25" y="216.90" width="1.90" height="5.80" fill="#eeb3bf" />
<rect x="41.16" y="200.50" width="1.90" height="6.00" fill="#b71540" />
<rect x="41.16" y="208.70" width="1.90" height="6.00" fill="#9282cf" />
<rect x="41.16" y="216.90" width="1.90" height="5.80" fill="#cde3b7" />
<rect x="44.06" y="200.50" width="1.90" height="6.00" fill="#4b1c6b" />
<rect x="44.06" y="208.70" width="1.90" height="6.00" fill="#f4c125" />
<rect x="44.06" y="216.90" width="1.90" height="5.80" fill="#cde3b7" />
<rect x="46.97" y="200.50" width="1.90" height="6.00" fill="#b71540" />
<rect x="46.97" y="208.70" width="1.90" height="6.00" fill="#9282cf" />
<rect x="46.97" y="216.90" width="1.90" height="5.80" fill="#cde3b7" />
<rect x="49.88" y="200.50" width="1.90" height="6.00" fill="#e0238b" />
<rect x="49.88" y="208.70" width="1.90" height="6.00" fill="#17584a" />
<rect x="49.88" y="216.90" width="1.90" height="5.80" fill="#eeb3bf" />
<rect x="52.79" y="200.50" width="1.90" height="6.00" fill="#b71540" />
<rect x="52.79" y="208.70" width="1.90" height="6.00" fill="#17584a" />
<rect x="52.79" y="216.90" width="1.90" height="5.80" fill="#eeb3bf" />
<rect x="55.70" y="200.50" width="1.90" height="6.00" fill="#b71540" />
<rect x="55.70" y="208.70" width="1.90" height="6.00" fill="#17584a" />
<rect x="55.70" y="216.90" width="1.90" height="5.80" fill="#cde3b7" />
<rect x="58.60" y="200.50" width="1.90" height="6.00" fill="#e0238b" />
<rect x="58.60" y="208.70" width="1.90" height="6.00" fill="#9282cf" />
<rect x="58.60" y="216.90" width="1.90" height="5.80" fill="#cde3b7" />
<rect x="61.51" y="200.50" width="1.90" height="6.00" fill="#173f7a" />
<rect x="61.51" y="208.70" width="1.90" height="6.00" fill="#17584a" />
<rect x="61.51" y="216.90" width="1.90" height="5.80" fill="#cde3b7" />
<rect x="64.42" y="200.50" width="1.90" height="6.00" fill="#b71540" />
<rect x="64.42" y="208.70" width="1.90" height="6.00" fill="#f4c125" />
<rect x="64.42" y="216.90" width="1.90" height="5.80" fill="#cde3b7" />
<rect x="67.33" y="200.50" width="1.90" height="6.00" fill="#e0238b" />
<rect x="67.33" y="208.70" width="1.90" height="6.00" fill="#17584a" />
<rect x="67.33" y="216.90" width="1.90" height="5.80" fill="#cde3b7" />
<rect x="70.24" y="200.50" width="1.90" height="6.00" fill="#b71540" />
<rect x="70.24" y="208.70" width="1.90" height="6.00" fill="#17584a" />
<rect x="70.24" y="216.90" width="1.90" height="5.80" fill="#cde3b7" />
<rect x="73.14" y="200.50" width="1.90" height="6.00" fill="#e0238b" />
<rect x="73.14" y="208.70" width="1.90" height="6.00" fill="#f4c125" />
<rect x="73.14" y="216.90" width="1.90" height="5.80" fill="#cde3b7" />
<rect x="76.05" y="200.50" width="1.90" height="6.00" fill="#b71540" />
<rect x="76.05" y="208.70" width="1.90" height="6.00" fill="#17584a" />
<rect x="76.05" y="216.90" width="1.90" height="5.80" fill="#eeb3bf" />
<rect x="78.96" y="200.50" width="1.90" height="6.00" fill="#e0238b" />
<rect x="78.96" y="208.70" width="1.90" height="6.00" fill="#9282cf" />
<rect x="78.96" y="216.90" width="1.90" height="5.80" fill="#cde3b7" />
<rect x="81.87" y="200.50" width="1.90" height="6.00" fill="#173f7a" />
<rect x="81.87" y="208.70" width="1.90" height="6.00" fill="#17584a" />
<rect x="81.87" y="216.90" width="1.90" height="5.80" fill="#eeb3bf" />
<rect x="84.78" y="200.50" width="1.90" height="6.00" fill="#37aee3" />
<rect x="84.78" y="208.70" width="1.90" height="6.00" fill="#f0981f" />
<rect x="84.78" y="216.90" width="1.90" height="5.80" fill="#cde3b7" />
<rect x="87.68" y="200.50" width="1.90" height="6.00" fill="#37aee3" />
<rect x="87.68" y="208.70" width="1.90" height="6.00" fill="#f0981f" />
<rect x="87.68" y="216.90" width="1.90" height="5.80" fill="#cde3b7" />
<rect x="90.59" y="200.50" width="1.90" height="6.00" fill="#37aee3" />
<rect x="90.59" y="208.70" width="1.90" height="6.00" fill="#f0981f" />
<rect x="90.59" y="216.90" width="1.90" height="5.80" fill="#eeb3bf" />
<rect x="93.50" y="200.50" width="1.90" height="6.00" fill="#37aee3" />
<rect x="93.50" y="208.70" width="1.90" height="6.00" fill="#f0981f" />
<rect x="93.50" y="216.90" width="1.90" height="5.80" fill="#cde3b7" />
<rect x="96.41" y="200.50" width="1.90" height="6.00" fill="#37aee3" />
<rect x="96.41" y="208.70" width="1.90" height="6.00" fill="#f0981f" />
<rect x="96.41" y="216.90" width="1.90" height="5.80" fill="#eeb3bf" />
<rect x="99.32" y="200.50" width="1.90" height="6.00" fill="#37aee3" />
<rect x="99.32" y="208.70" width="1.90" height="6.00" fill="#f0981f" />
<rect x="99.32" y="216.90" width="1.90" height="5.80" fill="#eeb3bf" />
<rect x="102.22" y="200.50" width="1.90" height="6.00" fill="#37aee3" />
<rect x="102.22" y="208.70" width="1.90" height="6.00" fill="#f0981f" />
<rect x="102.22" y="216.90" width="1.90" height="5.80" fill="#eeb3bf" />
<rect x="105.13" y="200.50" width="1.90" height="6.00" fill="#173f7a" />
<rect x="105.13" y="208.70" width="1.90" height="6.00" fill="#17584a" />
<rect x="105.13" y="216.90" width="1.90" height="5.80" fill="#cde3b7" />
<rect x="108.04" y="200.50" width="1.90" height="6.00" fill="#37aee3" />
<rect x="108.04" y="208.70" width="1.90" height="6.00" fill="#f4c125" />
<rect x="108.04" y="216.90" width="1.90" height="5.80" fill="#eeb3bf" />
<rect x="110.95" y="200.50" width="1.90" height="6.00" fill="#37aee3" />
<rect x="110.95" y="208.70" width="1.90" height="6.00" fill="#f4c125" />
<rect x="110.95" y="216.90" width="1.90" height="5.80" fill="#cde3b7" />
<rect x="113.86" y="200.50" width="1.90" height="6.00" fill="#b71540" />
<rect x="113.86" y="208.70" width="1.90" height="6.00" fill="#17584a" />
<rect x="113.86" y="216.90" width="1.90" height="5.80" fill="#eeb3bf" />
<rect x="116.76" y="200.50" width="1.90" height="6.00" fill="#b71540" />
<rect x="116.76" y="208.70" width="1.90" height="6.00" fill="#17584a" />
<rect x="116.76" y="216.90" width="1.90" height="5.80" fill="#eeb3bf" />
<rect x="119.67" y="200.50" width="1.90" height="6.00" fill="#b71540" />
<rect x="119.67" y="208.70" width="1.90" height="6.00" fill="#9282cf" />
<rect x="119.67" y="216.90" width="1.90" height="5.80" fill="#eeb3bf" />
<rect x="122.58" y="200.50" width="1.90" height="6.00" fill="#3cb44b" />
<rect x="122.58" y="208.70" width="1.90" height="6.00" fill="#17584a" />
<rect x="122.58" y="216.90" width="1.90" height="5.80" fill="#cde3b7" />
<rect x="125.49" y="200.50" width="1.90" height="6.00" fill="#b71540" />
<rect x="125.49" y="208.70" width="1.90" height="6.00" fill="#9282cf" />
<rect x="125.49" y="216.90" width="1.90" height="5.80" fill="#eeb3bf" />
<rect x="128.40" y="200.50" width="1.90" height="6.00" fill="#e0238b" />
<rect x="128.40" y="208.70" width="1.90" height="6.00" fill="#f4c125" />
<rect x="128.40" y="216.90" width="1.90" height="5.80" fill="#cde3b7" />
<rect x="131.30" y="200.50" width="1.90" height="6.00" fill="#b71540" />
<rect x="131.30" y="208.70" width="1.90" height="6.00" fill="#17584a" />
<rect x="131.30" y="216.90" width="1.90" height="5.80" fill="#eeb3bf" />
<rect x="134.21" y="200.50" width="1.90" height="6.00" fill="#e0238b" />
<rect x="134.21" y="208.70" width="1.90" height="6.00" fill="#9282cf" />
<rect x="134.21" y="216.90" width="1.90" height="5.80" fill="#eeb3bf" />
<rect x="137.12" y="200.50" width="1.90" height="6.00" fill="#e0238b" />
<rect x="137.12" y="208.70" width="1.90" height="6.00" fill="#17584a" />
<rect x="137.12" y="216.90" width="1.90" height="5.80" fill="#eeb3bf" />
<rect x="140.03" y="200.50" width="1.90" height="6.00" fill="#e0238b" />
<rect x="140.03" y="208.70" width="1.90" height="6.00" fill="#17584a" />
<rect x="140.03" y="216.90" width="1.90" height="5.80" fill="#eeb3bf" />
<rect x="142.94" y="200.50" width="1.90" height="6.00" fill="#3cb44b" />
<rect x="142.94" y="208.70" width="1.90" height="6.00" fill="#9282cf" />
<rect x="142.94" y="216.90" width="1.90" height="5.80" fill="#cde3b7" />
<rect x="145.84" y="200.50" width="1.90" height="6.00" fill="#3cb44b" />
<rect x="145.84" y="208.70" width="1.90" height="6.00" fill="#cfcfcf" />
<rect x="145.84" y="216.90" width="1.90" height="5.80" fill="#cde3b7" />
<rect x="148.75" y="200.50" width="1.90" height="6.00" fill="#b71540" />
<rect x="148.75" y="208.70" width="1.90" height="6.00" fill="#17584a" />
<rect x="148.75" y="216.90" width="1.90" height="5.80" fill="#eeb3bf" />
<rect x="151.66" y="200.50" width="1.90" height="6.00" fill="#4b1c6b" />
<rect x="151.66" y="208.70" width="1.90" height="6.00" fill="#9282cf" />
<rect x="151.66" y="216.90" width="1.90" height="5.80" fill="#eeb3bf" />
<rect x="154.57" y="200.50" width="1.90" height="6.00" fill="#e0238b" />
<rect x="154.57" y="208.70" width="1.90" height="6.00" fill="#9282cf" />
<rect x="154.57" y="216.90" width="1.90" height="5.80" fill="#cde3b7" />
<rect x="157.48" y="200.50" width="1.90" height="6.00" fill="#b71540" />
<rect x="157.48" y="208.70" width="1.90" height="6.00" fill="#17584a" />
<rect x="157.48" y="216.90" width="1.90" height="5.80" fill="#eeb3bf" />
<rect x="160.38" y="200.50" width="1.90" height="6.00" fill="#b71540" />
<rect x="160.38" y="208.70" width="1.90" height="6.00" fill="#17584a" />
<rect x="160.38" y="216.90" width="1.90" height="5.80" fill="#eeb3bf" />
<rect x="163.29" y="200.50" width="1.90" height="6.00" fill="#37aee3" />
<rect x="163.29" y="208.70" width="1.90" height="6.00" fill="#f0981f" />
<rect x="163.29" y="216.90" width="1.90" height="5.80" fill="#eeb3bf" />
<rect x="166.20" y="200.50" width="1.90" height="6.00" fill="#e0238b" />
<rect x="166.20" y="208.70" width="1.90" height="6.00" fill="#17584a" />
<rect x="166.20" y="216.90" width="1.90" height="5.80" fill="#eeb3bf" />
<rect x="169.11" y="200.50" width="1.90" height="6.00" fill="#b71540" />
<rect x="169.11" y="208.70" width="1.90" height="6.00" fill="#17584a" />
<rect x="169.11" y="216.90" width="1.90" height="5.80" fill="#eeb3bf" />
<rect x="172.02" y="200.50" width="1.90" height="6.00" fill="#e0238b" />
<rect x="172.02" y="208.70" width="1.90" height="6.00" fill="#9282cf" />
<rect x="172.02" y="216.90" width="1.90" height="5.80" fill="#eeb3bf" />
<rect x="174.92" y="200.50" width="1.90" height="6.00" fill="#37aee3" />
<rect x="174.92" y="208.70" width="1.90" height="6.00" fill="#17584a" />
<rect x="174.92" y="216.90" width="1.90" height="5.80" fill="#eeb3bf" />
<rect x="177.83" y="200.50" width="1.90" height="6.00" fill="#3cb44b" />
<rect x="177.83" y="208.70" width="1.90" height="6.00" fill="#9282cf" />
<rect x="177.83" y="216.90" width="1.90" height="5.80" fill="#eeb3bf" />
<rect x="180.74" y="200.50" width="1.90" height="6.00" fill="#173f7a" />
<rect x="180.74" y="208.70" width="1.90" height="6.00" fill="#9282cf" />
<rect x="180.74" y="216.90" width="1.90" height="5.80" fill="#eeb3bf" />
<rect x="183.65" y="200.50" width="1.90" height="6.00" fill="#37aee3" />
<rect x="183.65" y="208.70" width="1.90" height="6.00" fill="#f0981f" />
<rect x="183.65" y="216.90" width="1.90" height="5.80" fill="#eeb3bf" />
<rect x="186.56" y="200.50" width="1.90" height="6.00" fill="#173f7a" />
<rect x="186.56" y="208.70" width="1.90" height="6.00" fill="#9282cf" />
<rect x="186.56" y="216.90" width="1.90" height="5.80" fill="#eeb3bf" />
<rect x="189.46" y="200.50" width="1.90" height="6.00" fill="#e0238b" />
<rect x="189.46" y="208.70" width="1.90" height="6.00" fill="#9282cf" />
<rect x="189.46" y="216.90" width="1.90" height="5.80" fill="#eeb3bf" />
<rect x="192.37" y="200.50" width="1.90" height="6.00" fill="#3cb44b" />
<rect x="192.37" y="208.70" width="1.90" height="6.00" fill="#9282cf" />
<rect x="192.37" y="216.90" width="1.90" height="5.80" fill="#eeb3bf" />
<rect x="195.28" y="200.50" width="1.90" height="6.00" fill="#37aee3" />
<rect x="195.28" y="208.70" width="1.90" height="6.00" fill="#9282cf" />
<rect x="195.28" y="216.90" width="1.90" height="5.80" fill="#eeb3bf" />
<rect x="198.19" y="200.50" width="1.90" height="6.00" fill="#3cb44b" />
<rect x="198.19" y="208.70" width="1.90" height="6.00" fill="#9282cf" />
<rect x="198.19" y="216.90" width="1.90" height="5.80" fill="#eeb3bf" />
<rect x="201.10" y="200.50" width="1.90" height="6.00" fill="#173f7a" />
<rect x="201.10" y="208.70" width="1.90" height="6.00" fill="#9282cf" />
<rect x="201.10" y="216.90" width="1.90" height="5.80" fill="#eeb3bf" />
<rect x="204.00" y="200.50" width="1.90" height="6.00" fill="#3cb44b" />
<rect x="204.00" y="208.70" width="1.90" height="6.00" fill="#17584a" />
<rect x="204.00" y="216.90" width="1.90" height="5.80" fill="#cde3b7" />
<rect x="206.91" y="200.50" width="1.90" height="6.00" fill="#173f7a" />
<rect x="206.91" y="208.70" width="1.90" height="6.00" fill="#9282cf" />
<rect x="206.91" y="216.90" width="1.90" height="5.80" fill="#cde3b7" />
<rect x="209.82" y="200.50" width="1.90" height="6.00" fill="#3cb44b" />
<rect x="209.82" y="208.70" width="1.90" height="6.00" fill="#9282cf" />
<rect x="209.82" y="216.90" width="1.90" height="5.80" fill="#cde3b7" />
<rect x="212.73" y="200.50" width="1.90" height="6.00" fill="#173f7a" />
<rect x="212.73" y="208.70" width="1.90" height="6.00" fill="#9282cf" />
<rect x="212.73" y="216.90" width="1.90" height="5.80" fill="#cde3b7" />
<rect x="215.64" y="200.50" width="1.90" height="6.00" fill="#3cb44b" />
<rect x="215.64" y="208.70" width="1.90" height="6.00" fill="#f4c125" />
<rect x="215.64" y="216.90" width="1.90" height="5.80" fill="#cde3b7" />
<rect x="218.54" y="200.50" width="1.90" height="6.00" fill="#173f7a" />
<rect x="218.54" y="208.70" width="1.90" height="6.00" fill="#17584a" />
<rect x="218.54" y="216.90" width="1.90" height="5.80" fill="#cde3b7" />
<rect x="221.45" y="200.50" width="1.90" height="6.00" fill="#3cb44b" />
<rect x="221.45" y="208.70" width="1.90" height="6.00" fill="#17584a" />
<rect x="221.45" y="216.90" width="1.90" height="5.80" fill="#cde3b7" />
<rect x="224.36" y="200.50" width="1.90" height="6.00" fill="#173f7a" />
<rect x="224.36" y="208.70" width="1.90" height="6.00" fill="#17584a" />
<rect x="224.36" y="216.90" width="1.90" height="5.80" fill="#cde3b7" />
<rect x="227.27" y="200.50" width="1.90" height="6.00" fill="#173f7a" />
<rect x="227.27" y="208.70" width="1.90" height="6.00" fill="#17584a" />
<rect x="227.27" y="216.90" width="1.90" height="5.80" fill="#cde3b7" />
<rect x="230.18" y="200.50" width="1.90" height="6.00" fill="#3cb44b" />
<rect x="230.18" y="208.70" width="1.90" height="6.00" fill="#17584a" />
<rect x="230.18" y="216.90" width="1.90" height="5.80" fill="#cde3b7" />
<rect x="233.08" y="200.50" width="1.90" height="6.00" fill="#173f7a" />
<rect x="233.08" y="208.70" width="1.90" height="6.00" fill="#17584a" />
<rect x="233.08" y="216.90" width="1.90" height="5.80" fill="#cde3b7" />
<rect x="235.99" y="200.50" width="1.90" height="6.00" fill="#3cb44b" />
<rect x="235.99" y="208.70" width="1.90" height="6.00" fill="#17584a" />
<rect x="235.99" y="216.90" width="1.90" height="5.80" fill="#cde3b7" />
<rect x="238.90" y="200.50" width="1.90" height="6.00" fill="#173f7a" />
<rect x="238.90" y="208.70" width="1.90" height="6.00" fill="#17584a" />
<rect x="238.90" y="216.90" width="1.90" height="5.80" fill="#cde3b7" />
<rect x="241.81" y="200.50" width="1.90" height="6.00" fill="#e0238b" />
<rect x="241.81" y="208.70" width="1.90" height="6.00" fill="#9282cf" />
<rect x="241.81" y="216.90" width="1.90" height="5.80" fill="#cde3b7" />
<rect x="244.72" y="200.50" width="1.90" height="6.00" fill="#173f7a" />
<rect x="244.72" y="208.70" width="1.90" height="6.00" fill="#17584a" />
<rect x="244.72" y="216.90" width="1.90" height="5.80" fill="#cde3b7" />
<rect x="247.62" y="200.50" width="1.90" height="6.00" fill="#3cb44b" />
<rect x="247.62" y="208.70" width="1.90" height="6.00" fill="#9282cf" />
<rect x="247.62" y="216.90" width="1.90" height="5.80" fill="#cde3b7" />
<rect x="250.53" y="200.50" width="1.90" height="6.00" fill="#3cb44b" />
<rect x="250.53" y="208.70" width="1.90" height="6.00" fill="#17584a" />
<rect x="250.53" y="216.90" width="1.90" height="5.80" fill="#cde3b7" />
<rect x="253.44" y="200.50" width="1.90" height="6.00" fill="#173f7a" />
<rect x="253.44" y="208.70" width="1.90" height="6.00" fill="#9282cf" />
<rect x="253.44" y="216.90" width="1.90" height="5.80" fill="#cde3b7" />
<rect x="256.35" y="200.50" width="1.90" height="6.00" fill="#b71540" />
<rect x="256.35" y="208.70" width="1.90" height="6.00" fill="#f4c125" />
<rect x="256.35" y="216.90" width="1.90" height="5.80" fill="#cde3b7" />
<rect x="259.26" y="200.50" width="1.90" height="6.00" fill="#173f7a" />
<rect x="259.26" y="208.70" width="1.90" height="6.00" fill="#17584a" />
<rect x="259.26" y="216.90" width="1.90" height="5.80" fill="#cde3b7" />
<rect x="262.16" y="200.50" width="1.90" height="6.00" fill="#3cb44b" />
<rect x="262.16" y="208.70" width="1.90" height="6.00" fill="#f4c125" />
<rect x="262.16" y="216.90" width="1.90" height="5.80" fill="#cde3b7" />
<rect x="265.07" y="200.50" width="1.90" height="6.00" fill="#3cb44b" />
<rect x="265.07" y="208.70" width="1.90" height="6.00" fill="#17584a" />
<rect x="265.07" y="216.90" width="1.90" height="5.80" fill="#cde3b7" />
<rect x="267.98" y="200.50" width="1.90" height="6.00" fill="#173f7a" />
<rect x="267.98" y="208.70" width="1.90" height="6.00" fill="#9282cf" />
<rect x="267.98" y="216.90" width="1.90" height="5.80" fill="#cde3b7" />
<rect x="270.89" y="200.50" width="1.90" height="6.00" fill="#173f7a" />
<rect x="270.89" y="208.70" width="1.90" height="6.00" fill="#9282cf" />
<rect x="270.89" y="216.90" width="1.90" height="5.80" fill="#cde3b7" />
<rect x="273.80" y="200.50" width="1.90" height="6.00" fill="#173f7a" />
<rect x="273.80" y="208.70" width="1.90" height="6.00" fill="#17584a" />
<rect x="273.80" y="216.90" width="1.90" height="5.80" fill="#cde3b7" />
<rect x="276.70" y="200.50" width="1.90" height="6.00" fill="#3cb44b" />
<rect x="276.70" y="208.70" width="1.90" height="6.00" fill="#9282cf" />
<rect x="276.70" y="216.90" width="1.90" height="5.80" fill="#cde3b7" />
<rect x="279.61" y="200.50" width="1.90" height="6.00" fill="#3cb44b" />
<rect x="279.61" y="208.70" width="1.90" height="6.00" fill="#9282cf" />
<rect x="279.61" y="216.90" width="1.90" height="5.80" fill="#cde3b7" />
<rect x="282.52" y="200.50" width="1.90" height="6.00" fill="#173f7a" />
<rect x="282.52" y="208.70" width="1.90" height="6.00" fill="#9282cf" />
<rect x="282.52" y="216.90" width="1.90" height="5.80" fill="#eeb3bf" />
<rect x="285.43" y="200.50" width="1.90" height="6.00" fill="#173f7a" />
<rect x="285.43" y="208.70" width="1.90" height="6.00" fill="#17584a" />
<rect x="285.43" y="216.90" width="1.90" height="5.80" fill="#eeb3bf" />
<rect x="288.34" y="200.50" width="1.90" height="6.00" fill="#3cb44b" />
<rect x="288.34" y="208.70" width="1.90" height="6.00" fill="#17584a" />
<rect x="288.34" y="216.90" width="1.90" height="5.80" fill="#eeb3bf" />
<rect x="291.24" y="200.50" width="1.90" height="6.00" fill="#173f7a" />
<rect x="291.24" y="208.70" width="1.90" height="6.00" fill="#cfcfcf" />
<rect x="291.24" y="216.90" width="1.90" height="5.80" fill="#eeb3bf" />
<rect x="294.15" y="200.50" width="1.90" height="6.00" fill="#37aee3" />
<rect x="294.15" y="208.70" width="1.90" height="6.00" fill="#17584a" />
<rect x="294.15" y="216.90" width="1.90" height="5.80" fill="#eeb3bf" />
<rect x="297.06" y="200.50" width="1.90" height="6.00" fill="#173f7a" />
<rect x="297.06" y="208.70" width="1.90" height="6.00" fill="#17584a" />
<rect x="297.06" y="216.90" width="1.90" height="5.80" fill="#eeb3bf" />
<rect x="299.97" y="200.50" width="1.90" height="6.00" fill="#173f7a" />
<rect x="299.97" y="208.70" width="1.90" height="6.00" fill="#f4c125" />
<rect x="299.97" y="216.90" width="1.90" height="5.80" fill="#eeb3bf" />
<rect x="302.88" y="200.50" width="1.90" height="6.00" fill="#3cb44b" />
<rect x="302.88" y="208.70" width="1.90" height="6.00" fill="#17584a" />
<rect x="302.88" y="216.90" width="1.90" height="5.80" fill="#eeb3bf" />
<rect x="305.78" y="200.50" width="1.90" height="6.00" fill="#173f7a" />
<rect x="305.78" y="208.70" width="1.90" height="6.00" fill="#9282cf" />
<rect x="305.78" y="216.90" width="1.90" height="5.80" fill="#eeb3bf" />
<rect x="308.69" y="200.50" width="1.90" height="6.00" fill="#e0238b" />
<rect x="308.69" y="208.70" width="1.90" height="6.00" fill="#9282cf" />
<rect x="308.69" y="216.90" width="1.90" height="5.80" fill="#eeb3bf" />
<rect x="311.60" y="200.50" width="1.90" height="6.00" fill="#4b1c6b" />
<rect x="311.60" y="208.70" width="1.90" height="6.00" fill="#17584a" />
<rect x="311.60" y="216.90" width="1.90" height="5.80" fill="#eeb3bf" />
<rect x="314.51" y="200.50" width="1.90" height="6.00" fill="#173f7a" />
<rect x="314.51" y="208.70" width="1.90" height="6.00" fill="#17584a" />
<rect x="314.51" y="216.90" width="1.90" height="5.80" fill="#eeb3bf" />
<rect x="317.42" y="200.50" width="1.90" height="6.00" fill="#173f7a" />
<rect x="317.42" y="208.70" width="1.90" height="6.00" fill="#f4c125" />
<rect x="317.42" y="216.90" width="1.90" height="5.80" fill="#eeb3bf" />
<rect x="320.32" y="200.50" width="1.90" height="6.00" fill="#173f7a" />
<rect x="320.32" y="208.70" width="1.90" height="6.00" fill="#17584a" />
<rect x="320.32" y="216.90" width="1.90" height="5.80" fill="#cde3b7" />
<text x="325.60" y="206.00" font-size="6">Disease type</text>
<text x="325.60" y="214.20" font-size="6">Organ</text>
<text x="325.60" y="222.30" font-size="6">Pool</text>
<text x="376.6" y="13.8" font-size="7.2" textLength="22.2" lengthAdjust="spacingAndGlyphs">-log<tspan font-size="5.2" dy="1.7">10</tspan><tspan dy="-1.7">(</tspan><tspan font-style="italic">q</tspan>)</text>
<text x="364.40" y="23.30" font-size="5.8" text-anchor="middle">0</text>
<line x1="364.40" y1="26.20" x2="364.40" y2="29.10" stroke="#231f20" stroke-width="0.6" />
<text x="379.06" y="23.30" font-size="5.8" text-anchor="middle">20</text>
<line x1="379.06" y1="26.20" x2="379.06" y2="29.10" stroke="#231f20" stroke-width="0.6" />
<text x="393.72" y="23.30" font-size="5.8" text-anchor="middle">40</text>
<line x1="393.72" y1="26.20" x2="393.72" y2="29.10" stroke="#231f20" stroke-width="0.6" />
<text x="408.38" y="23.30" font-size="5.8" text-anchor="middle">60</text>
<line x1="408.38" y1="26.20" x2="408.38" y2="29.10" stroke="#231f20" stroke-width="0.6" />
<line x1="364.00" y1="28.80" x2="410.90" y2="28.80" stroke="#231f20" stroke-width="0.9" />
<rect x="364.80" y="31.10" width="38.85" height="10.30" fill="#c4c4c8" />
<text x="410.40" y="38.70" font-size="5" text-anchor="middle">*</text>
<rect x="364.80" y="43.10" width="35.92" height="10.30" fill="#c4c4c8" />
<text x="410.40" y="50.70" font-size="5" text-anchor="middle">*</text>
<rect x="364.80" y="55.10" width="24.92" height="10.30" fill="#c4c4c8" />
<text x="410.40" y="62.70" font-size="5" text-anchor="middle">*</text>
<rect x="364.80" y="67.10" width="24.19" height="10.30" fill="#c4c4c8" />
<text x="410.40" y="74.70" font-size="5" text-anchor="middle">*</text>
<rect x="364.80" y="79.10" width="41.05" height="10.30" fill="#c4c4c8" />
<text x="410.40" y="86.70" font-size="5" text-anchor="middle">*</text>
<rect x="364.80" y="91.10" width="24.56" height="10.30" fill="#c4c4c8" />
<text x="410.40" y="98.70" font-size="5" text-anchor="middle">*</text>
<rect x="364.80" y="103.10" width="30.05" height="10.30" fill="#c4c4c8" />
<text x="410.40" y="110.70" font-size="5" text-anchor="middle">*</text>
<rect x="364.80" y="115.10" width="17.59" height="10.30" fill="#c4c4c8" />
<text x="410.40" y="122.70" font-size="5" text-anchor="middle">*</text>
<rect x="364.80" y="127.10" width="8.06" height="10.30" fill="#c4c4c8" />
<text x="410.40" y="134.70" font-size="5" text-anchor="middle">*</text>
<rect x="364.80" y="139.10" width="8.43" height="10.30" fill="#c4c4c8" />
<text x="410.40" y="146.70" font-size="5" text-anchor="middle">*</text>
<rect x="364.80" y="151.10" width="6.23" height="10.30" fill="#c4c4c8" />
<text x="410.40" y="158.70" font-size="5" text-anchor="middle">*</text>
<rect x="364.80" y="163.10" width="5.13" height="10.30" fill="#c4c4c8" />
<rect x="364.80" y="175.10" width="3.30" height="10.30" fill="#c4c4c8" />
<rect x="364.80" y="187.10" width="1.83" height="10.30" fill="#c4c4c8" />
<line x1="364.50" y1="28.50" x2="364.50" y2="198.00" stroke="#231f20" stroke-width="1.0" />
<line x1="371.30" y1="29.50" x2="371.30" y2="198.00" stroke="#231f20" stroke-width="0.7" stroke-dasharray="3.2 1.8"/>
<text x="448.80" y="28.20" font-size="6.2" textLength="33.69" lengthAdjust="spacingAndGlyphs">Disease type</text>
<rect x="448.50" y="33.00" width="5.80" height="5.80" fill="#b71540" />
<text x="457.60" y="38.10" font-size="6.2" textLength="32.36" lengthAdjust="spacingAndGlyphs">B-lymphoma</text>
<rect x="448.50" y="42.75" width="5.80" height="5.80" fill="#e0238b" />
<text x="457.60" y="47.85" font-size="6.2" textLength="27.89" lengthAdjust="spacingAndGlyphs">B-ALL/LBL</text>
<rect x="448.50" y="52.50" width="5.80" height="5.80" fill="#173f7a" />
<text x="457.60" y="57.60" font-size="6.2" textLength="31.72" lengthAdjust="spacingAndGlyphs">T-lymphoma</text>
<rect x="448.50" y="62.25" width="5.80" height="5.80" fill="#37aee3" />
<text x="457.60" y="67.35" font-size="6.2" textLength="27.24" lengthAdjust="spacingAndGlyphs">T-ALL/LBL</text>
<rect x="448.50" y="72.00" width="5.80" height="5.80" fill="#3cb44b" />
<text x="457.60" y="77.10" font-size="6.2" textLength="11.86" lengthAdjust="spacingAndGlyphs">AML</text>
<rect x="448.50" y="81.75" width="5.80" height="5.80" fill="#4b1c6b" />
<text x="457.60" y="86.85" font-size="6.2" textLength="11.22" lengthAdjust="spacingAndGlyphs">AUL</text>
<text x="448.80" y="100.30" font-size="6.2" textLength="16.20" lengthAdjust="spacingAndGlyphs">Organ</text>
<rect x="448.50" y="104.60" width="5.80" height="5.80" fill="#9282cf" />
<text x="457.60" y="109.70" font-size="6.2" textLength="34.29" lengthAdjust="spacingAndGlyphs">Bone marrow</text>
<rect x="448.50" y="114.35" width="5.80" height="5.80" fill="#f4c125" />
<text x="457.60" y="119.45" font-size="6.2" textLength="31.52" lengthAdjust="spacingAndGlyphs">Lymph node</text>
<rect x="448.50" y="124.10" width="5.80" height="5.80" fill="#17584a" />
<text x="457.60" y="129.20" font-size="6.2" textLength="17.95" lengthAdjust="spacingAndGlyphs">Spleen</text>
<rect x="448.50" y="133.85" width="5.80" height="5.80" fill="#f0981f" />
<text x="457.60" y="138.95" font-size="6.2" textLength="20.50" lengthAdjust="spacingAndGlyphs">Thymus</text>
<rect x="448.50" y="143.60" width="5.80" height="5.80" fill="#c8c8c8" />
<text x="457.60" y="148.70" font-size="6.2" textLength="17.30" lengthAdjust="spacingAndGlyphs">Others</text>
<text x="448.80" y="161.10" font-size="6.2" textLength="11.66" lengthAdjust="spacingAndGlyphs">Pool</text>
<rect x="448.50" y="166.00" width="5.80" height="5.80" fill="#eeb3bf" />
<text x="457.60" y="171.10" font-size="6.2" textLength="3.85" lengthAdjust="spacingAndGlyphs">A</text>
<rect x="448.50" y="175.70" width="5.80" height="5.80" fill="#cde3b7" />
<text x="457.60" y="180.80" font-size="6.2" textLength="3.85" lengthAdjust="spacingAndGlyphs">B</text>
<text x="409.2" y="197.0" font-size="5.9" textLength="33.2" lengthAdjust="spacingAndGlyphs">*<tspan font-style="italic">q</tspan> &lt; 1×10<tspan font-size="4.0" dy="-2.5">−15</tspan></text>
<rect x="94.60" y="228.40" width="5.30" height="5.30" fill="#3f8c6f" />
<text x="102.50" y="233.40" font-size="6.4" textLength="21.70" lengthAdjust="spacingAndGlyphs">Multiple</text>
<rect x="129.80" y="228.40" width="5.30" height="5.30" fill="#3b6ca6" />
<text x="138.00" y="233.40" font-size="6.4" textLength="12.60" lengthAdjust="spacingAndGlyphs">SNV</text>
<rect x="156.80" y="228.40" width="5.30" height="5.30" fill="#cf3b57" />
<text x="164.60" y="233.40" font-size="6.4" textLength="13.90" lengthAdjust="spacingAndGlyphs">Indel</text>
<rect x="184.20" y="228.40" width="5.30" height="5.30" fill="#d6a878" />
<text x="192.50" y="233.40" font-size="6.4" textLength="9.50" lengthAdjust="spacingAndGlyphs">ITD</text>
<rect x="208.30" y="228.40" width="5.30" height="5.30" fill="#f4d98c" />
<text x="216.50" y="233.40" font-size="6.4" textLength="32.30" lengthAdjust="spacingAndGlyphs">SV: deletion</text>
<text x="6.80" y="258.90" font-size="10.8" font-weight="bold" style="fill:#000;stroke:#000">B</text>
<text x="90.00" y="270.20" font-size="8.4" textLength="75.50" lengthAdjust="spacingAndGlyphs">All samples (n = 104)</text>
<line x1="31.40" y1="270.50" x2="31.40" y2="356.80" stroke="#231f20" stroke-width="1.0" />
<line x1="28.80" y1="355.80" x2="31.40" y2="355.80" stroke="#231f20" stroke-width="0.7" />
<text x="25.90" y="357.90" font-size="5.9" text-anchor="end">0</text>
<line x1="28.80" y1="337.05" x2="31.40" y2="337.05" stroke="#231f20" stroke-width="0.7" />
<text x="25.90" y="339.15" font-size="5.9" text-anchor="end">3</text>
<line x1="28.80" y1="318.30" x2="31.40" y2="318.30" stroke="#231f20" stroke-width="0.7" />
<text x="25.90" y="320.40" font-size="5.9" text-anchor="end">6</text>
<line x1="28.80" y1="299.55" x2="31.40" y2="299.55" stroke="#231f20" stroke-width="0.7" />
<text x="25.90" y="301.65" font-size="5.9" text-anchor="end">9</text>
<line x1="28.80" y1="280.80" x2="31.40" y2="280.80" stroke="#231f20" stroke-width="0.7" />
<text x="25.90" y="282.90" font-size="5.9" text-anchor="end">12</text>
<text transform="translate(13.9,315.3) rotate(-90)" font-size="6.9" font-weight="bold" text-anchor="middle" textLength="48.5" lengthAdjust="spacingAndGlyphs">Number of samples</text>
<rect x="34.20" y="280.80" width="11.80" height="75.00" fill="#3b6ca6" />
<line x1="40.10" y1="356.50" x2="40.10" y2="359.30" stroke="#231f20" stroke-width="0.6" />
<text transform="translate(42.60,361.8) rotate(-90)" font-size="7.2" font-style="italic" text-anchor="end" textLength="12.77" lengthAdjust="spacingAndGlyphs">Jak3</text>
<rect x="47.72" y="305.80" width="11.80" height="50.00" fill="#d6a878" />
<rect x="47.72" y="293.30" width="11.80" height="12.50" fill="#3b6ca6" />
<rect x="47.72" y="287.05" width="11.80" height="6.25" fill="#3f8c6f" />
<line x1="53.62" y1="356.50" x2="53.62" y2="359.30" stroke="#231f20" stroke-width="0.6" />
<text transform="translate(56.12,361.8) rotate(-90)" font-size="7.2" font-style="italic" text-anchor="end" textLength="10.08" lengthAdjust="spacingAndGlyphs">Flt3</text>
<rect x="61.24" y="305.80" width="11.80" height="50.00" fill="#cf3b57" />
<rect x="61.24" y="287.05" width="11.80" height="18.75" fill="#3b6ca6" />
<line x1="67.14" y1="356.50" x2="67.14" y2="359.30" stroke="#231f20" stroke-width="0.6" />
<text transform="translate(69.64,361.8) rotate(-90)" font-size="7.2" font-style="italic" text-anchor="end" textLength="19.16" lengthAdjust="spacingAndGlyphs">Notch1</text>
<rect x="74.76" y="293.30" width="11.80" height="62.50" fill="#3b6ca6" />
<line x1="80.66" y1="356.50" x2="80.66" y2="359.30" stroke="#231f20" stroke-width="0.6" />
<text transform="translate(83.16,361.8) rotate(-90)" font-size="7.2" font-style="italic" text-anchor="end" textLength="12.77" lengthAdjust="spacingAndGlyphs">Jak1</text>
<rect x="88.28" y="343.30" width="11.80" height="12.50" fill="#f4d98c" />
<rect x="88.28" y="318.30" width="11.80" height="25.00" fill="#cf3b57" />
<rect x="88.28" y="299.55" width="11.80" height="18.75" fill="#3b6ca6" />
<rect x="88.28" y="293.30" width="11.80" height="6.25" fill="#3f8c6f" />
<line x1="94.18" y1="356.50" x2="94.18" y2="359.30" stroke="#231f20" stroke-width="0.6" />
<text transform="translate(96.68,361.8) rotate(-90)" font-size="7.2" font-style="italic" text-anchor="end" textLength="17.49" lengthAdjust="spacingAndGlyphs">Sh2b3</text>
<rect x="101.80" y="305.80" width="11.80" height="50.00" fill="#3b6ca6" />
<line x1="107.70" y1="356.50" x2="107.70" y2="359.30" stroke="#231f20" stroke-width="0.6" />
<text transform="translate(110.20,361.8) rotate(-90)" font-size="7.2" font-style="italic" text-anchor="end" textLength="18.72" lengthAdjust="spacingAndGlyphs">Ptpn11</text>
<rect x="115.32" y="349.55" width="11.80" height="6.25" fill="#cf3b57" />
<rect x="115.32" y="305.80" width="11.80" height="43.75" fill="#3b6ca6" />
<line x1="121.22" y1="356.50" x2="121.22" y2="359.30" stroke="#231f20" stroke-width="0.6" />
<text transform="translate(123.72,361.8) rotate(-90)" font-size="7.2" font-style="italic" text-anchor="end" textLength="15.35" lengthAdjust="spacingAndGlyphs">Trp53</text>
<rect x="128.84" y="349.55" width="11.80" height="6.25" fill="#cf3b57" />
<rect x="128.84" y="318.30" width="11.80" height="31.25" fill="#3b6ca6" />
<line x1="134.74" y1="356.50" x2="134.74" y2="359.30" stroke="#231f20" stroke-width="0.6" />
<text transform="translate(137.24,361.8) rotate(-90)" font-size="7.2" font-style="italic" text-anchor="end" textLength="12.77" lengthAdjust="spacingAndGlyphs">Ikzf1</text>
<rect x="142.36" y="349.55" width="11.80" height="6.25" fill="#cf3b57" />
<rect x="142.36" y="330.80" width="11.80" height="18.75" fill="#3b6ca6" />
<line x1="148.26" y1="356.50" x2="148.26" y2="359.30" stroke="#231f20" stroke-width="0.6" />
<text transform="translate(150.76,361.8) rotate(-90)" font-size="7.2" font-style="italic" text-anchor="end" textLength="7.06" lengthAdjust="spacingAndGlyphs">Kit</text>
<rect x="155.88" y="343.30" width="11.80" height="12.50" fill="#3b6ca6" />
<rect x="155.88" y="337.05" width="11.80" height="6.25" fill="#3f8c6f" />
<line x1="161.78" y1="356.50" x2="161.78" y2="359.30" stroke="#231f20" stroke-width="0.6" />
<text transform="translate(164.28,361.8) rotate(-90)" font-size="7.2" font-style="italic" text-anchor="end" textLength="9.07" lengthAdjust="spacingAndGlyphs">Cbl</text>
<rect x="169.40" y="349.55" width="11.80" height="6.25" fill="#cf3b57" />
<rect x="169.40" y="343.30" width="11.80" height="6.25" fill="#3f8c6f" />
<line x1="175.30" y1="356.50" x2="175.30" y2="359.30" stroke="#231f20" stroke-width="0.6" />
<text transform="translate(177.80,361.8) rotate(-90)" font-size="7.2" font-style="italic" text-anchor="end" textLength="8.74" lengthAdjust="spacingAndGlyphs">Irf4</text>
<rect x="182.92" y="343.30" width="11.80" height="12.50" fill="#3b6ca6" />
<line x1="188.82" y1="356.50" x2="188.82" y2="359.30" stroke="#231f20" stroke-width="0.6" />
<text transform="translate(191.32,361.8) rotate(-90)" font-size="7.2" font-style="italic" text-anchor="end" textLength="12.44" lengthAdjust="spacingAndGlyphs">Kras</text>
<rect x="196.44" y="343.30" width="11.80" height="12.50" fill="#3b6ca6" />
<line x1="202.34" y1="356.50" x2="202.34" y2="359.30" stroke="#231f20" stroke-width="0.6" />
<text transform="translate(204.84,361.8) rotate(-90)" font-size="7.2" font-style="italic" text-anchor="end" textLength="17.48" lengthAdjust="spacingAndGlyphs">Stat5a</text>
<rect x="209.96" y="343.30" width="11.80" height="12.50" fill="#3b6ca6" />
<line x1="215.86" y1="356.50" x2="215.86" y2="359.30" stroke="#231f20" stroke-width="0.6" />
<text transform="translate(218.36,361.8) rotate(-90)" font-size="7.2" font-style="italic" text-anchor="end" textLength="17.48" lengthAdjust="spacingAndGlyphs">Stat5b</text>
<line x1="31.40" y1="356.40" x2="224.00" y2="356.40" stroke="#231f20" stroke-width="1.0" />
<text x="128" y="392.6" font-size="7.4" font-weight="bold" text-anchor="middle" textLength="15" lengthAdjust="spacingAndGlyphs">Genes</text>
<rect x="51.70" y="399.60" width="4.60" height="4.60" fill="#3f8c6f" />
<text x="59.00" y="404.00" font-size="5.6" textLength="21.00" lengthAdjust="spacingAndGlyphs">Multiple</text>
<rect x="86.00" y="399.60" width="4.60" height="4.60" fill="#3b6ca6" />
<text x="93.80" y="404.00" font-size="5.6" textLength="12.20" lengthAdjust="spacingAndGlyphs">SNV</text>
<rect x="114.00" y="399.60" width="4.60" height="4.60" fill="#cf3b57" />
<text x="121.50" y="404.00" font-size="5.6" textLength="13.90" lengthAdjust="spacingAndGlyphs">Indel</text>
<rect x="141.50" y="399.60" width="4.60" height="4.60" fill="#d6a878" />
<text x="149.00" y="404.00" font-size="5.6" textLength="9.50" lengthAdjust="spacingAndGlyphs">ITD</text>
<rect x="164.60" y="399.60" width="4.60" height="4.60" fill="#f4d98c" />
<text x="172.00" y="404.00" font-size="5.6" textLength="32.00" lengthAdjust="spacingAndGlyphs">SV: deletion</text>
<text x="239.40" y="258.80" font-size="10.8" font-weight="bold" style="fill:#000;stroke:#000">C</text>
<text x="250.00" y="284.50" font-size="6.6" textLength="28.80" lengthAdjust="spacingAndGlyphs">Second-hit</text>
<text x="291.50" y="272.90" font-size="6.6" textLength="65.20" lengthAdjust="spacingAndGlyphs">Tracscriptional activation</text>
<line x1="291.00" y1="274.00" x2="283.50" y2="291.00" stroke="#231f20" stroke-width="0.6" />
<line x1="282.50" y1="271.50" x2="282.50" y2="341.70" stroke="#333" stroke-width="0.75" />
<line x1="292.30" y1="297.20" x2="292.30" y2="344.00" stroke="#444" stroke-width="0.6" stroke-dasharray="2.3 4.0"/>
<line x1="305.50" y1="297.20" x2="305.50" y2="344.00" stroke="#444" stroke-width="0.6" stroke-dasharray="2.3 4.0"/>
<line x1="322.50" y1="297.20" x2="322.50" y2="344.00" stroke="#444" stroke-width="0.6" stroke-dasharray="2.3 4.0"/>
<line x1="338.30" y1="297.20" x2="338.30" y2="344.00" stroke="#444" stroke-width="0.6" stroke-dasharray="2.3 4.0"/>
<line x1="351.10" y1="297.20" x2="351.10" y2="344.00" stroke="#444" stroke-width="0.6" stroke-dasharray="2.3 4.0"/>
<line x1="366.90" y1="297.20" x2="366.90" y2="344.00" stroke="#444" stroke-width="0.6" stroke-dasharray="2.3 4.0"/>
<line x1="372.30" y1="297.20" x2="372.30" y2="344.00" stroke="#444" stroke-width="0.6" stroke-dasharray="2.3 4.0"/>
<line x1="376.00" y1="297.20" x2="376.00" y2="344.00" stroke="#444" stroke-width="0.6" stroke-dasharray="2.3 4.0"/>
<line x1="380.30" y1="297.20" x2="380.30" y2="344.00" stroke="#444" stroke-width="0.6" stroke-dasharray="2.3 4.0"/>
<line x1="393.10" y1="297.20" x2="393.10" y2="344.00" stroke="#444" stroke-width="0.6" stroke-dasharray="2.3 4.0"/>
<line x1="397.60" y1="297.20" x2="397.60" y2="344.00" stroke="#444" stroke-width="0.6" stroke-dasharray="2.3 4.0"/>
<line x1="409.70" y1="297.20" x2="409.70" y2="344.00" stroke="#444" stroke-width="0.6" stroke-dasharray="2.3 4.0"/>
<rect x="268.70" y="291.30" width="230.80" height="5.60" fill="#fff" stroke="#444" stroke-width="0.6"/>
<rect x="269.00" y="291.60" width="26.00" height="5.00" fill="#f08a1c" />
<rect x="291.60" y="291.60" width="3.60" height="5.00" fill="#e07418" />
<rect x="268.70" y="291.30" width="1.60" height="5.60" fill="#6a3a10" />
<rect x="331.30" y="291.60" width="105.70" height="5.00" fill="#3aa63c" />
<rect x="446.00" y="291.60" width="9.40" height="5.00" fill="#d9d7b4" stroke="#555" stroke-width="0.4"/>
<rect x="459.00" y="291.60" width="18.00" height="5.00" fill="#9ccbeb" />
<rect x="466.00" y="291.60" width="6.30" height="5.00" fill="#2f8fd0" />
<text x="369.30" y="296.20" font-size="5.2" style="fill:#14501c;stroke:#14501c" textLength="29.30" lengthAdjust="spacingAndGlyphs">DNA-binding</text>
<text x="430.00" y="280.20" font-size="6.6" textLength="12.50" lengthAdjust="spacingAndGlyphs">NLS</text>
<text x="441.50" y="272.20" font-size="6.6" textLength="41.00" lengthAdjust="spacingAndGlyphs">Oligomerization</text>
<text x="479.40" y="280.20" font-size="6.6" textLength="12.90" lengthAdjust="spacingAndGlyphs">NES</text>
<line x1="439.00" y1="281.50" x2="449.50" y2="291.30" stroke="#231f20" stroke-width="0.5" />
<line x1="462.00" y1="273.50" x2="469.00" y2="291.30" stroke="#231f20" stroke-width="0.5" />
<line x1="485.00" y1="281.50" x2="475.50" y2="291.30" stroke="#231f20" stroke-width="0.5" />
<line x1="345.90" y1="285.30" x2="345.90" y2="291.30" stroke="#777" stroke-width="0.5" />
<line x1="359.40" y1="285.30" x2="359.40" y2="291.30" stroke="#777" stroke-width="0.5" />
<line x1="368.90" y1="285.30" x2="368.90" y2="291.30" stroke="#777" stroke-width="0.5" />
<line x1="368.90" y1="281.00" x2="368.90" y2="291.30" stroke="#777" stroke-width="0.5" />
<line x1="393.10" y1="285.30" x2="393.10" y2="291.30" stroke="#777" stroke-width="0.5" />
<line x1="412.70" y1="285.30" x2="412.70" y2="291.30" stroke="#777" stroke-width="0.5" />
<line x1="417.40" y1="285.30" x2="417.40" y2="291.30" stroke="#777" stroke-width="0.5" />
<circle cx="345.90" cy="285.30" r="2.50" fill="#5783b3" stroke="#2f5a88" stroke-width="0.5"/>
<circle cx="359.40" cy="285.30" r="2.50" fill="#5783b3" stroke="#2f5a88" stroke-width="0.5"/>
<circle cx="368.90" cy="281.00" r="2.50" fill="#5783b3" stroke="#2f5a88" stroke-width="0.5"/>
<circle cx="368.90" cy="285.30" r="2.50" fill="#5783b3" stroke="#2f5a88" stroke-width="0.5"/>
<circle cx="393.10" cy="285.30" r="2.50" fill="#5783b3" stroke="#2f5a88" stroke-width="0.5"/>
<circle cx="412.70" cy="285.30" r="2.50" fill="#5783b3" stroke="#2f5a88" stroke-width="0.5"/>
<circle cx="417.40" cy="285.30" r="2.50" fill="#5783b3" stroke="#2f5a88" stroke-width="0.5"/>
<line x1="453.80" y1="285.00" x2="453.80" y2="291.30" stroke="#777" stroke-width="0.5" />
<circle cx="453.80" cy="285.00" r="2.50" fill="#b0172f" stroke="#7a0f22" stroke-width="0.5"/>
<line x1="292.30" y1="296.90" x2="292.30" y2="303.00" stroke="#777" stroke-width="0.5" />
<line x1="305.50" y1="296.90" x2="305.50" y2="303.00" stroke="#777" stroke-width="0.5" />
<line x1="309.30" y1="296.90" x2="309.30" y2="303.00" stroke="#777" stroke-width="0.5" />
<line x1="366.30" y1="296.90" x2="366.30" y2="303.30" stroke="#777" stroke-width="0.5" />
<line x1="369.40" y1="296.90" x2="369.40" y2="303.30" stroke="#777" stroke-width="0.5" />
<line x1="377.50" y1="296.90" x2="377.50" y2="303.30" stroke="#777" stroke-width="0.5" />
<line x1="380.40" y1="296.90" x2="380.40" y2="303.30" stroke="#777" stroke-width="0.5" />
<line x1="383.30" y1="296.90" x2="383.30" y2="303.30" stroke="#777" stroke-width="0.5" />
<line x1="386.10" y1="296.90" x2="386.10" y2="303.30" stroke="#777" stroke-width="0.5" />
<line x1="389.00" y1="296.90" x2="389.00" y2="303.30" stroke="#777" stroke-width="0.5" />
<line x1="391.90" y1="296.90" x2="391.90" y2="303.30" stroke="#777" stroke-width="0.5" />
<line x1="394.80" y1="296.90" x2="394.80" y2="303.30" stroke="#777" stroke-width="0.5" />
<line x1="397.70" y1="296.90" x2="397.70" y2="303.30" stroke="#777" stroke-width="0.5" />
<line x1="400.60" y1="296.90" x2="400.60" y2="303.30" stroke="#777" stroke-width="0.5" />
<line x1="374.40" y1="296.90" x2="374.40" y2="303.30" stroke="#777" stroke-width="0.5" />
<line x1="387.30" y1="296.90" x2="387.30" y2="307.20" stroke="#777" stroke-width="0.5" />
<line x1="400.40" y1="296.90" x2="400.40" y2="307.20" stroke="#777" stroke-width="0.5" />
<line x1="395.40" y1="296.90" x2="395.40" y2="307.40" stroke="#777" stroke-width="0.5" />
<line x1="387.30" y1="296.90" x2="387.30" y2="311.40" stroke="#777" stroke-width="0.5" />
<circle cx="292.30" cy="303.00" r="2.50" fill="#b0172f" stroke="#7a0f22" stroke-width="0.5"/>
<circle cx="305.50" cy="303.00" r="2.50" fill="#b0172f" stroke="#7a0f22" stroke-width="0.5"/>
<circle cx="309.30" cy="303.00" r="2.50" fill="#b0172f" stroke="#7a0f22" stroke-width="0.5"/>
<circle cx="366.30" cy="303.30" r="2.50" fill="#b0172f" stroke="#7a0f22" stroke-width="0.5"/>
<circle cx="369.40" cy="303.30" r="2.50" fill="#b0172f" stroke="#7a0f22" stroke-width="0.5"/>
<circle cx="377.50" cy="303.30" r="2.50" fill="#b0172f" stroke="#7a0f22" stroke-width="0.5"/>
<circle cx="380.40" cy="303.30" r="2.50" fill="#b0172f" stroke="#7a0f22" stroke-width="0.5"/>
<circle cx="383.30" cy="303.30" r="2.50" fill="#b0172f" stroke="#7a0f22" stroke-width="0.5"/>
<circle cx="386.10" cy="303.30" r="2.50" fill="#b0172f" stroke="#7a0f22" stroke-width="0.5"/>
<circle cx="389.00" cy="303.30" r="2.50" fill="#b0172f" stroke="#7a0f22" stroke-width="0.5"/>
<circle cx="391.90" cy="303.30" r="2.50" fill="#b0172f" stroke="#7a0f22" stroke-width="0.5"/>
<circle cx="394.80" cy="303.30" r="2.50" fill="#b0172f" stroke="#7a0f22" stroke-width="0.5"/>
<circle cx="397.70" cy="303.30" r="2.50" fill="#b0172f" stroke="#7a0f22" stroke-width="0.5"/>
<circle cx="400.60" cy="303.30" r="2.50" fill="#b0172f" stroke="#7a0f22" stroke-width="0.5"/>
<circle cx="374.40" cy="303.30" r="2.50" fill="#f2b63c" stroke="#b8801c" stroke-width="0.5"/>
<circle cx="387.30" cy="307.20" r="2.50" fill="#b0172f" stroke="#7a0f22" stroke-width="0.5"/>
<circle cx="400.40" cy="307.20" r="2.50" fill="#b0172f" stroke="#7a0f22" stroke-width="0.5"/>
<circle cx="395.40" cy="307.40" r="2.50" fill="#f2b63c" stroke="#b8801c" stroke-width="0.5"/>
<circle cx="387.30" cy="311.40" r="2.50" fill="#b0172f" stroke="#7a0f22" stroke-width="0.5"/>
<text x="367.00" y="300.30" font-size="2.6" style="fill:#666;stroke:#666">L2</text>
<text x="392.00" y="300.30" font-size="2.6" style="fill:#666;stroke:#666">L3</text>
<text x="275.50" y="321.20" font-size="6.6" text-anchor="end" textLength="19.50" lengthAdjust="spacingAndGlyphs">sgRNA-</text>
<text x="275.50" y="328.90" font-size="6.6" text-anchor="end" textLength="21.80" lengthAdjust="spacingAndGlyphs">targeted</text>
<line x1="285.30" y1="319.20" x2="446.50" y2="319.20" stroke="#b3c9de" stroke-width="1.6" />
<line x1="285.30" y1="320.40" x2="492.30" y2="320.40" stroke="#88a8c8" stroke-width="0.8" />
<line x1="300.00" y1="321.70" x2="341.30" y2="321.70" stroke="#a6c0da" stroke-width="1.0" />
<line x1="303.30" y1="323.00" x2="313.80" y2="323.00" stroke="#88a8c8" stroke-width="0.9" />
<line x1="341.30" y1="325.30" x2="398.30" y2="325.30" stroke="#a6c0da" stroke-width="1.0" />
<line x1="358.20" y1="327.40" x2="405.00" y2="327.40" stroke="#a6c0da" stroke-width="1.0" />
<line x1="365.60" y1="329.40" x2="376.20" y2="329.40" stroke="#a6c0da" stroke-width="1.0" />
<line x1="365.60" y1="330.90" x2="381.00" y2="330.90" stroke="#a6c0da" stroke-width="1.0" />
<line x1="366.50" y1="332.40" x2="376.50" y2="332.40" stroke="#a6c0da" stroke-width="1.0" />
<line x1="381.50" y1="335.80" x2="399.40" y2="335.80" stroke="#a6c0da" stroke-width="1.0" />
<line x1="399.40" y1="338.80" x2="420.40" y2="338.80" stroke="#a6c0da" stroke-width="1.0" />
<line x1="268.40" y1="345.00" x2="501.00" y2="345.00" stroke="#231f20" stroke-width="1.1" />
<line x1="268.70" y1="345.00" x2="268.70" y2="348.00" stroke="#231f20" stroke-width="0.7" />
<text x="268.70" y="355.60" font-size="6.3" text-anchor="middle">0</text>
<line x1="298.07" y1="345.00" x2="298.07" y2="348.00" stroke="#231f20" stroke-width="0.7" />
<text x="298.07" y="355.60" font-size="6.3" text-anchor="middle">50</text>
<line x1="327.45" y1="345.00" x2="327.45" y2="348.00" stroke="#231f20" stroke-width="0.7" />
<text x="327.45" y="355.60" font-size="6.3" text-anchor="middle">100</text>
<line x1="356.82" y1="345.00" x2="356.82" y2="348.00" stroke="#231f20" stroke-width="0.7" />
<text x="356.82" y="355.60" font-size="6.3" text-anchor="middle">150</text>
<line x1="386.20" y1="345.00" x2="386.20" y2="348.00" stroke="#231f20" stroke-width="0.7" />
<text x="386.20" y="355.60" font-size="6.3" text-anchor="middle">200</text>
<line x1="415.57" y1="345.00" x2="415.57" y2="348.00" stroke="#231f20" stroke-width="0.7" />
<text x="415.57" y="355.60" font-size="6.3" text-anchor="middle">250</text>
<line x1="444.95" y1="345.00" x2="444.95" y2="348.00" stroke="#231f20" stroke-width="0.7" />
<text x="444.95" y="355.60" font-size="6.3" text-anchor="middle">300</text>
<line x1="474.32" y1="345.00" x2="474.32" y2="348.00" stroke="#231f20" stroke-width="0.7" />
<text x="474.32" y="355.60" font-size="6.3" text-anchor="middle">350</text>
<line x1="499.59" y1="345.00" x2="499.59" y2="348.00" stroke="#231f20" stroke-width="0.7" />
<text x="499.59" y="355.60" font-size="6.3" text-anchor="middle">393</text>
<text x="364.20" y="366.60" font-size="7.3" textLength="39.80" lengthAdjust="spacingAndGlyphs">TRP53 (393 aa)</text>
<circle cx="274.40" cy="376.90" r="2.90" fill="#5783b3" stroke="#2f5a88" stroke-width="0.6"/>
<text x="279.50" y="379.20" font-size="6.5" textLength="58.00" lengthAdjust="spacingAndGlyphs">Nonsynonymous SNV</text>
<circle cx="346.30" cy="376.90" r="2.90" fill="#b0172f" stroke="#7a0f22" stroke-width="0.6"/>
<text x="352.00" y="379.20" font-size="6.5" textLength="41.70" lengthAdjust="spacingAndGlyphs">Frameshift indel</text>
<circle cx="403.10" cy="376.90" r="2.90" fill="#f2b63c" stroke="#b8801c" stroke-width="0.6"/>
<text x="408.00" y="379.20" font-size="6.5" textLength="54.00" lengthAdjust="spacingAndGlyphs">Non-frameshift indel</text>
<line x1="466.00" y1="376.70" x2="472.50" y2="376.70" stroke="#8fb3d6" stroke-width="1.3" />
<text x="475.00" y="379.20" font-size="6.5" textLength="22.50" lengthAdjust="spacingAndGlyphs">Deletion</text>
<text x="6.80" y="430.00" font-size="10.8" font-weight="bold" style="fill:#000;stroke:#000">D</text>
<text x="37.00" y="440.30" font-size="8.1" textLength="58.00" lengthAdjust="spacingAndGlyphs">B-cell lymphoma</text>
<text x="47.30" y="453.6" font-size="6.2" textLength="35.70" lengthAdjust="spacingAndGlyphs"><tspan font-style="italic">P</tspan> = 1.5×10<tspan font-size="3.8" dy="-2.4">−3</tspan></text>
<line x1="50.80" y1="456.30" x2="80.80" y2="456.30" stroke="#231f20" stroke-width="0.8" />
<line x1="32.90" y1="452.80" x2="32.90" y2="539.60" stroke="#231f20" stroke-width="0.9" />
<line x1="32.90" y1="539.20" x2="98.90" y2="539.20" stroke="#231f20" stroke-width="1.0" />
<line x1="30.30" y1="535.90" x2="32.90" y2="535.90" stroke="#231f20" stroke-width="0.6" />
<text x="27.50" y="538.10" font-size="6.3" text-anchor="end">0</text>
<line x1="30.30" y1="511.00" x2="32.90" y2="511.00" stroke="#231f20" stroke-width="0.6" />
<text x="27.50" y="513.20" font-size="6.3" text-anchor="end">0.1</text>
<line x1="30.30" y1="486.10" x2="32.90" y2="486.10" stroke="#231f20" stroke-width="0.6" />
<text x="27.50" y="488.30" font-size="6.3" text-anchor="end">0.2</text>
<line x1="30.30" y1="461.20" x2="32.90" y2="461.20" stroke="#231f20" stroke-width="0.6" />
<text x="27.50" y="463.40" font-size="6.3" text-anchor="end">0.3</text>
<line x1="50.90" y1="539.20" x2="50.90" y2="541.80" stroke="#231f20" stroke-width="0.6" />
<line x1="81.40" y1="539.20" x2="81.40" y2="541.80" stroke="#231f20" stroke-width="0.6" />
<line x1="51.10" y1="520.96" x2="51.10" y2="524.20" stroke="#333" stroke-width="0.75" />
<line x1="51.10" y1="535.90" x2="51.10" y2="535.90" stroke="#333" stroke-width="0.75" />
<rect x="39.80" y="524.20" width="22.60" height="11.70" fill="none" stroke="#333" stroke-width="0.75"/>
<line x1="39.80" y1="535.90" x2="62.40" y2="535.90" stroke="#333" stroke-width="0.8" />
<line x1="81.25" y1="487.10" x2="81.25" y2="508.26" stroke="#333" stroke-width="0.75" />
<line x1="81.25" y1="523.20" x2="81.25" y2="524.69" stroke="#333" stroke-width="0.75" />
<rect x="69.80" y="508.26" width="22.90" height="14.94" fill="none" stroke="#333" stroke-width="0.75"/>
<line x1="69.80" y1="520.21" x2="92.70" y2="520.21" stroke="#333" stroke-width="0.8" />
<circle cx="42.30" cy="535.90" r="1.45" fill="#fff" stroke="#555" stroke-width="0.6"/>
<circle cx="45.50" cy="535.90" r="1.45" fill="#fff" stroke="#555" stroke-width="0.6"/>
<circle cx="48.70" cy="535.90" r="1.45" fill="#fff" stroke="#555" stroke-width="0.6"/>
<circle cx="51.90" cy="535.90" r="1.45" fill="#fff" stroke="#555" stroke-width="0.6"/>
<circle cx="55.10" cy="535.90" r="1.45" fill="#fff" stroke="#555" stroke-width="0.6"/>
<circle cx="58.30" cy="535.90" r="1.45" fill="#fff" stroke="#555" stroke-width="0.6"/>
<circle cx="61.30" cy="535.90" r="1.45" fill="#fff" stroke="#555" stroke-width="0.6"/>
<circle cx="46.20" cy="532.91" r="1.45" fill="#fff" stroke="#555" stroke-width="0.6"/>
<circle cx="48.20" cy="521.46" r="1.45" fill="#fff" stroke="#555" stroke-width="0.6"/>
<circle cx="51.80" cy="522.70" r="1.45" fill="#fff" stroke="#555" stroke-width="0.6"/>
<circle cx="54.80" cy="523.45" r="1.45" fill="#fff" stroke="#555" stroke-width="0.6"/>
<circle cx="83.60" cy="487.10" r="1.40" fill="#efdcbc" stroke="#9a6424" stroke-width="0.8"/>
<circle cx="80.00" cy="505.52" r="1.55" fill="#5e1428" stroke="#3e0a1a" stroke-width="0.4"/>
<circle cx="82.00" cy="510.50" r="1.40" fill="#efdcbc" stroke="#9a6424" stroke-width="0.8"/>
<circle cx="74.00" cy="520.21" r="1.40" fill="#efdcbc" stroke="#9a6424" stroke-width="0.8"/>
<circle cx="86.70" cy="521.46" r="1.55" fill="#5e1428" stroke="#3e0a1a" stroke-width="0.4"/>
<circle cx="75.70" cy="524.69" r="1.40" fill="#efdcbc" stroke="#9a6424" stroke-width="0.8"/>
<circle cx="81.40" cy="524.69" r="1.40" fill="#efdcbc" stroke="#9a6424" stroke-width="0.8"/>
<text x="135.60" y="440.30" font-size="8.1" textLength="40.40" lengthAdjust="spacingAndGlyphs">T–ALL/LBL</text>
<text x="137.50" y="453.6" font-size="6.2" textLength="36.50" lengthAdjust="spacingAndGlyphs"><tspan font-style="italic">P</tspan> = 1.6×10<tspan font-size="3.8" dy="-2.4">−7</tspan></text>
<line x1="140.40" y1="456.30" x2="169.20" y2="456.30" stroke="#231f20" stroke-width="0.8" />
<line x1="122.40" y1="452.80" x2="122.40" y2="539.60" stroke="#231f20" stroke-width="0.9" />
<line x1="122.40" y1="539.20" x2="188.40" y2="539.20" stroke="#231f20" stroke-width="1.0" />
<line x1="119.80" y1="535.90" x2="122.40" y2="535.90" stroke="#231f20" stroke-width="0.6" />
<text x="117.00" y="538.10" font-size="6.3" text-anchor="end">0</text>
<line x1="119.80" y1="511.00" x2="122.40" y2="511.00" stroke="#231f20" stroke-width="0.6" />
<text x="117.00" y="513.20" font-size="6.3" text-anchor="end">0.1</text>
<line x1="119.80" y1="486.10" x2="122.40" y2="486.10" stroke="#231f20" stroke-width="0.6" />
<text x="117.00" y="488.30" font-size="6.3" text-anchor="end">0.2</text>
<line x1="119.80" y1="461.20" x2="122.40" y2="461.20" stroke="#231f20" stroke-width="0.6" />
<text x="117.00" y="463.40" font-size="6.3" text-anchor="end">0.3</text>
<line x1="140.40" y1="539.20" x2="140.40" y2="541.80" stroke="#231f20" stroke-width="0.6" />
<line x1="170.90" y1="539.20" x2="170.90" y2="541.80" stroke="#231f20" stroke-width="0.6" />
<line x1="140.50" y1="517.72" x2="140.50" y2="525.94" stroke="#333" stroke-width="0.75" />
<line x1="140.50" y1="535.90" x2="140.50" y2="535.90" stroke="#333" stroke-width="0.75" />
<rect x="129.20" y="525.94" width="22.60" height="9.96" fill="none" stroke="#333" stroke-width="0.75"/>
<line x1="129.20" y1="535.90" x2="151.80" y2="535.90" stroke="#333" stroke-width="0.8" />
<line x1="170.60" y1="462.94" x2="170.60" y2="466.93" stroke="#333" stroke-width="0.75" />
<line x1="170.60" y1="502.53" x2="170.60" y2="514.24" stroke="#333" stroke-width="0.75" />
<rect x="159.20" y="466.93" width="22.80" height="35.61" fill="none" stroke="#333" stroke-width="0.75"/>
<line x1="159.20" y1="476.14" x2="182.00" y2="476.14" stroke="#333" stroke-width="0.8" />
<circle cx="131.50" cy="535.90" r="1.45" fill="#fff" stroke="#555" stroke-width="0.6"/>
<circle cx="134.70" cy="535.90" r="1.45" fill="#fff" stroke="#555" stroke-width="0.6"/>
<circle cx="137.90" cy="535.90" r="1.45" fill="#fff" stroke="#555" stroke-width="0.6"/>
<circle cx="141.10" cy="535.90" r="1.45" fill="#fff" stroke="#555" stroke-width="0.6"/>
<circle cx="144.30" cy="535.90" r="1.45" fill="#fff" stroke="#555" stroke-width="0.6"/>
<circle cx="147.50" cy="535.90" r="1.45" fill="#fff" stroke="#555" stroke-width="0.6"/>
<circle cx="138.60" cy="517.72" r="1.45" fill="#fff" stroke="#555" stroke-width="0.6"/>
<circle cx="139.30" cy="526.44" r="1.45" fill="#fff" stroke="#555" stroke-width="0.6"/>
<circle cx="143.40" cy="524.69" r="1.45" fill="#fff" stroke="#555" stroke-width="0.6"/>
<circle cx="167.70" cy="464.19" r="1.55" fill="#5e1428" stroke="#3e0a1a" stroke-width="0.4"/>
<circle cx="178.30" cy="462.44" r="1.55" fill="#5e1428" stroke="#3e0a1a" stroke-width="0.4"/>
<circle cx="173.00" cy="470.91" r="1.55" fill="#5e1428" stroke="#3e0a1a" stroke-width="0.4"/>
<circle cx="164.50" cy="476.39" r="1.55" fill="#5e1428" stroke="#3e0a1a" stroke-width="0.4"/>
<circle cx="172.60" cy="494.57" r="1.55" fill="#5e1428" stroke="#3e0a1a" stroke-width="0.4"/>
<circle cx="166.60" cy="511.00" r="1.40" fill="#efdcbc" stroke="#9a6424" stroke-width="0.8"/>
<circle cx="170.40" cy="514.24" r="1.40" fill="#efdcbc" stroke="#9a6424" stroke-width="0.8"/>
<text transform="translate(13.8,487.9) rotate(-90)" font-size="7.6" font-weight="bold" text-anchor="middle" textLength="62.6" lengthAdjust="spacingAndGlyphs">Proportion of altered segments</text>
<text x="35.00" y="551.60" font-size="6.5" text-anchor="end" font-style="italic" textLength="15.00" lengthAdjust="spacingAndGlyphs">Trp53</text>
<text x="35.00" y="559.70" font-size="6.5" text-anchor="end" textLength="27.60" lengthAdjust="spacingAndGlyphs">alterations</text>
<text x="50.90" y="555.20" font-size="6.6" text-anchor="middle">(–)</text>
<text x="81.40" y="555.20" font-size="6.6" text-anchor="middle">(+)</text>
<text x="140.40" y="555.20" font-size="6.6" text-anchor="middle">(–)</text>
<text x="170.90" y="555.20" font-size="6.6" text-anchor="middle">(+)</text>
<text x="30.00" y="577.00" font-size="6.3" font-style="italic" textLength="14.50" lengthAdjust="spacingAndGlyphs">Trp53</text>
<text x="46.00" y="577.00" font-size="6.3" textLength="25.00" lengthAdjust="spacingAndGlyphs">alteration</text>
<circle cx="75.00" cy="575.00" r="1.45" fill="#fff" stroke="#555" stroke-width="0.6"/>
<text x="78.50" y="577.00" font-size="6.3" textLength="16.00" lengthAdjust="spacingAndGlyphs">None</text>
<circle cx="101.60" cy="575.00" r="1.55" fill="#5e1428" stroke="#3e0a1a" stroke-width="0.4"/>
<text x="105.40" y="577.00" font-size="6.3" textLength="45.80" lengthAdjust="spacingAndGlyphs">sgRNA-targeted</text>
<circle cx="158.00" cy="575.00" r="1.30" fill="#d8a94a" stroke="#7a5a20" stroke-width="0.7"/>
<text x="162.50" y="577.00" font-size="6.3" textLength="29.10" lengthAdjust="spacingAndGlyphs">Second-hit</text>
<text x="239.50" y="404.70" font-size="10.8" font-weight="bold" style="fill:#000;stroke:#000">E</text>
<text x="281.2" y="402.9" font-size="8.4" textLength="220.5" lengthAdjust="spacingAndGlyphs">SCR208 sg<tspan font-style="italic">Kmt2d</tspan>-targeted B-cell lymphoma Chromosome 11</text>
<text x="367.90" y="413.00" font-size="5.8" font-style="italic" style="fill:#3a3a3a;stroke:#3a3a3a" textLength="17.30" lengthAdjust="spacingAndGlyphs">Stat5b</text>
<text x="394.40" y="413.00" font-size="5.8" font-style="italic" style="fill:#3a3a3a;stroke:#3a3a3a" textLength="16.80" lengthAdjust="spacingAndGlyphs">Stat5a</text>
<text x="269.00" y="418.20" font-size="5.7" text-anchor="end">64</text>
<line x1="272.60" y1="416.20" x2="508.50" y2="416.20" stroke="#2e2e2e" stroke-width="0.75" stroke-dasharray="2.9 2.3" stroke-dashoffset="1.4"/>
<text x="269.00" y="425.30" font-size="5.7" text-anchor="end">32</text>
<line x1="272.60" y1="423.30" x2="508.50" y2="423.30" stroke="#2e2e2e" stroke-width="0.75" stroke-dasharray="2.9 2.3" stroke-dashoffset="1.4"/>
<text x="269.00" y="432.40" font-size="5.7" text-anchor="end">16</text>
<line x1="272.60" y1="430.40" x2="508.50" y2="430.40" stroke="#2e2e2e" stroke-width="0.75" stroke-dasharray="2.9 2.3" stroke-dashoffset="1.4"/>
<text x="269.00" y="439.60" font-size="5.7" text-anchor="end">8</text>
<line x1="272.60" y1="437.60" x2="508.50" y2="437.60" stroke="#2e2e2e" stroke-width="0.75" stroke-dasharray="2.9 2.3" stroke-dashoffset="1.4"/>
<text x="269.00" y="446.70" font-size="5.7" text-anchor="end">4</text>
<line x1="272.60" y1="444.70" x2="508.50" y2="444.70" stroke="#2e2e2e" stroke-width="0.75" stroke-dasharray="2.9 2.3" stroke-dashoffset="1.4"/>
<text x="269.00" y="453.80" font-size="5.7" text-anchor="end">2</text>
<line x1="272.60" y1="451.80" x2="508.50" y2="451.80" stroke="#7c7c7c" stroke-width="1.2" />
<text x="269.00" y="460.90" font-size="5.7" text-anchor="end">1</text>
<line x1="272.60" y1="458.90" x2="508.50" y2="458.90" stroke="#2e2e2e" stroke-width="0.75" stroke-dasharray="2.9 2.3" stroke-dashoffset="1.4"/>
<text x="269.00" y="481.60" font-size="5.7" text-anchor="end">0</text>
<line x1="272.60" y1="479.60" x2="508.50" y2="479.60" stroke="#2e2e2e" stroke-width="0.75" stroke-dasharray="2.9 2.3" stroke-dashoffset="1.4"/>
<text transform="translate(256.3,437.4) rotate(-90)" font-size="6.8" font-weight="bold" text-anchor="middle" textLength="33.6" lengthAdjust="spacingAndGlyphs">Copy number</text>
<g fill="#dcdcdc">
<circle cx="279.8" cy="442.4" r="0.6"/>
<circle cx="275.7" cy="443.3" r="0.6"/>
<circle cx="283.2" cy="439.6" r="0.6"/>
<circle cx="282.8" cy="440.9" r="0.6"/>
<circle cx="275.1" cy="439.3" r="0.6"/>
<circle cx="276.0" cy="440.6" r="0.6"/>
<circle cx="281.4" cy="440.8" r="0.6"/>
<circle cx="278.1" cy="439.0" r="0.6"/>
<circle cx="284.7" cy="443.4" r="0.6"/>
<circle cx="281.0" cy="439.1" r="0.6"/>
<circle cx="290.4" cy="445.1" r="0.6"/>
<circle cx="279.2" cy="441.7" r="0.6"/>
<circle cx="276.9" cy="441.8" r="0.6"/>
<circle cx="287.8" cy="441.7" r="0.6"/>
<circle cx="277.4" cy="437.0" r="0.6"/>
<circle cx="280.6" cy="438.4" r="0.6"/>
<circle cx="283.4" cy="441.0" r="0.6"/>
<circle cx="277.9" cy="440.6" r="0.6"/>
<circle cx="285.6" cy="438.2" r="0.6"/>
<circle cx="284.0" cy="441.2" r="0.6"/>
<circle cx="281.9" cy="438.8" r="0.6"/>
<circle cx="285.9" cy="444.6" r="0.6"/>
<circle cx="278.5" cy="437.4" r="0.6"/>
<circle cx="288.8" cy="438.8" r="0.6"/>
<circle cx="286.4" cy="438.5" r="0.6"/>
<circle cx="276.4" cy="447.3" r="0.6"/>
<circle cx="281.3" cy="440.3" r="0.6"/>
<circle cx="282.5" cy="438.7" r="0.6"/>
<circle cx="275.1" cy="438.0" r="0.6"/>
<circle cx="283.8" cy="436.3" r="0.6"/>
<circle cx="288.8" cy="438.6" r="0.6"/>
<circle cx="284.2" cy="443.9" r="0.6"/>
<circle cx="284.0" cy="435.4" r="0.6"/>
<circle cx="289.9" cy="441.6" r="0.6"/>
<circle cx="282.2" cy="439.7" r="0.6"/>
<circle cx="285.9" cy="439.4" r="0.6"/>
<circle cx="285.0" cy="445.0" r="0.6"/>
<circle cx="279.1" cy="440.0" r="0.6"/>
<circle cx="280.8" cy="439.9" r="0.6"/>
<circle cx="282.0" cy="439.7" r="0.6"/>
<circle cx="277.2" cy="440.9" r="0.6"/>
<circle cx="287.0" cy="440.8" r="0.6"/>
<circle cx="276.6" cy="440.2" r="0.6"/>
<circle cx="288.7" cy="442.8" r="0.6"/>
<circle cx="275.8" cy="437.1" r="0.6"/>
<circle cx="288.9" cy="441.2" r="0.6"/>
<circle cx="287.9" cy="441.6" r="0.6"/>
<circle cx="281.3" cy="438.6" r="0.6"/>
<circle cx="307.7" cy="449.6" r="0.6"/>
<circle cx="297.9" cy="440.4" r="0.6"/>
<circle cx="299.1" cy="444.9" r="0.6"/>
<circle cx="313.6" cy="446.6" r="0.6"/>
<circle cx="318.5" cy="444.7" r="0.6"/>
<circle cx="310.5" cy="444.9" r="0.6"/>
<circle cx="308.2" cy="438.8" r="0.6"/>
<circle cx="323.3" cy="442.1" r="0.6"/>
<circle cx="315.0" cy="441.8" r="0.6"/>
<circle cx="293.3" cy="442.1" r="0.6"/>
<circle cx="333.1" cy="445.7" r="0.6"/>
<circle cx="328.3" cy="439.5" r="0.6"/>
<circle cx="309.2" cy="443.7" r="0.6"/>
<circle cx="320.6" cy="445.4" r="0.6"/>
<circle cx="293.7" cy="446.3" r="0.6"/>
<circle cx="298.4" cy="445.4" r="0.6"/>
<circle cx="306.8" cy="444.8" r="0.6"/>
<circle cx="297.9" cy="444.7" r="0.6"/>
<circle cx="295.6" cy="444.3" r="0.6"/>
<circle cx="331.9" cy="445.1" r="0.6"/>
<circle cx="319.7" cy="445.9" r="0.6"/>
<circle cx="307.1" cy="446.3" r="0.6"/>
<circle cx="307.9" cy="448.3" r="0.6"/>
<circle cx="337.5" cy="448.2" r="0.6"/>
<circle cx="312.7" cy="443.6" r="0.6"/>
<circle cx="295.6" cy="444.8" r="0.6"/>
<circle cx="306.9" cy="444.2" r="0.6"/>
<circle cx="298.4" cy="449.6" r="0.6"/>
<circle cx="291.9" cy="447.7" r="0.6"/>
<circle cx="297.7" cy="443.7" r="0.6"/>
<circle cx="316.3" cy="447.8" r="0.6"/>
<circle cx="336.8" cy="445.2" r="0.6"/>
<circle cx="331.4" cy="444.0" r="0.6"/>
<circle cx="308.0" cy="442.8" r="0.6"/>
<circle cx="298.7" cy="445.1" r="0.6"/>
<circle cx="327.4" cy="441.5" r="0.6"/>
<circle cx="306.3" cy="445.5" r="0.6"/>
<circle cx="337.1" cy="449.4" r="0.6"/>
<circle cx="330.9" cy="446.4" r="0.6"/>
<circle cx="325.6" cy="440.2" r="0.6"/>
<circle cx="301.5" cy="442.3" r="0.6"/>
<circle cx="292.2" cy="444.4" r="0.6"/>
<circle cx="292.1" cy="444.3" r="0.6"/>
<circle cx="323.3" cy="446.7" r="0.6"/>
<circle cx="335.8" cy="438.9" r="0.6"/>
<circle cx="337.2" cy="446.7" r="0.6"/>
<circle cx="335.7" cy="443.5" r="0.6"/>
<circle cx="301.5" cy="446.1" r="0.6"/>
<circle cx="300.0" cy="445.7" r="0.6"/>
<circle cx="333.1" cy="448.2" r="0.6"/>
<circle cx="330.3" cy="440.9" r="0.6"/>
<circle cx="328.4" cy="445.2" r="0.6"/>
<circle cx="294.8" cy="441.7" r="0.6"/>
<circle cx="327.6" cy="439.9" r="0.6"/>
<circle cx="326.1" cy="443.1" r="0.6"/>
<circle cx="327.9" cy="444.9" r="0.6"/>
<circle cx="306.4" cy="446.9" r="0.6"/>
<circle cx="309.4" cy="438.1" r="0.6"/>
<circle cx="309.7" cy="448.6" r="0.6"/>
<circle cx="298.8" cy="443.3" r="0.6"/>
<circle cx="296.8" cy="448.0" r="0.6"/>
<circle cx="328.7" cy="449.3" r="0.6"/>
<circle cx="297.7" cy="448.1" r="0.6"/>
<circle cx="321.7" cy="438.2" r="0.6"/>
<circle cx="307.3" cy="443.4" r="0.6"/>
<circle cx="291.5" cy="444.3" r="0.6"/>
<circle cx="336.4" cy="442.8" r="0.6"/>
<circle cx="334.7" cy="442.1" r="0.6"/>
<circle cx="311.2" cy="448.1" r="0.6"/>
<circle cx="300.7" cy="441.2" r="0.6"/>
<circle cx="302.6" cy="444.2" r="0.6"/>
<circle cx="318.4" cy="446.6" r="0.6"/>
<circle cx="303.0" cy="443.5" r="0.6"/>
<circle cx="333.6" cy="445.4" r="0.6"/>
<circle cx="307.4" cy="441.4" r="0.6"/>
<circle cx="333.3" cy="445.6" r="0.6"/>
<circle cx="310.6" cy="447.4" r="0.6"/>
<circle cx="315.8" cy="443.2" r="0.6"/>
<circle cx="315.4" cy="447.5" r="0.6"/>
<circle cx="299.4" cy="445.0" r="0.6"/>
<circle cx="291.0" cy="445.2" r="0.6"/>
<circle cx="313.1" cy="443.2" r="0.6"/>
<circle cx="324.9" cy="442.5" r="0.6"/>
<circle cx="315.2" cy="443.9" r="0.6"/>
<circle cx="316.9" cy="445.0" r="0.6"/>
<circle cx="317.1" cy="443.5" r="0.6"/>
<circle cx="302.5" cy="443.9" r="0.6"/>
<circle cx="314.7" cy="449.1" r="0.6"/>
<circle cx="317.2" cy="445.1" r="0.6"/>
<circle cx="311.6" cy="439.0" r="0.6"/>
<circle cx="319.6" cy="441.6" r="0.6"/>
<circle cx="323.4" cy="444.6" r="0.6"/>
<circle cx="312.1" cy="441.8" r="0.6"/>
<circle cx="335.1" cy="444.1" r="0.6"/>
<circle cx="323.7" cy="449.1" r="0.6"/>
<circle cx="303.0" cy="440.4" r="0.6"/>
<circle cx="317.1" cy="449.4" r="0.6"/>
<circle cx="297.2" cy="443.0" r="0.6"/>
<circle cx="296.5" cy="443.8" r="0.6"/>
<circle cx="302.1" cy="445.1" r="0.6"/>
<circle cx="294.2" cy="442.5" r="0.6"/>
<circle cx="333.0" cy="440.7" r="0.6"/>
<circle cx="298.1" cy="443.9" r="0.6"/>
<circle cx="297.5" cy="441.0" r="0.6"/>
<circle cx="332.3" cy="446.5" r="0.6"/>
<circle cx="335.6" cy="444.3" r="0.6"/>
<circle cx="309.5" cy="436.8" r="0.6"/>
<circle cx="329.9" cy="445.3" r="0.6"/>
<circle cx="298.4" cy="441.9" r="0.6"/>
<circle cx="306.7" cy="446.0" r="0.6"/>
<circle cx="300.0" cy="443.0" r="0.6"/>
<circle cx="291.7" cy="448.5" r="0.6"/>
<circle cx="316.8" cy="444.2" r="0.6"/>
<circle cx="306.4" cy="444.9" r="0.6"/>
<circle cx="320.1" cy="443.8" r="0.6"/>
<circle cx="337.1" cy="444.6" r="0.6"/>
<circle cx="327.9" cy="445.9" r="0.6"/>
<circle cx="303.3" cy="444.5" r="0.6"/>
<circle cx="292.7" cy="445.1" r="0.6"/>
<circle cx="296.9" cy="442.7" r="0.6"/>
<circle cx="310.6" cy="448.8" r="0.6"/>
<circle cx="303.0" cy="442.2" r="0.6"/>
<circle cx="297.8" cy="447.7" r="0.6"/>
<circle cx="323.7" cy="443.1" r="0.6"/>
<circle cx="295.0" cy="448.4" r="0.6"/>
<circle cx="310.8" cy="446.1" r="0.6"/>
<circle cx="294.2" cy="448.1" r="0.6"/>
<circle cx="328.5" cy="443.3" r="0.6"/>
<circle cx="294.7" cy="445.3" r="0.6"/>
<circle cx="331.4" cy="443.9" r="0.6"/>
<circle cx="312.1" cy="442.9" r="0.6"/>
<circle cx="334.4" cy="447.5" r="0.6"/>
<circle cx="303.4" cy="446.9" r="0.6"/>
<circle cx="302.0" cy="447.0" r="0.6"/>
<circle cx="295.9" cy="445.1" r="0.6"/>
<circle cx="300.3" cy="445.4" r="0.6"/>
<circle cx="305.5" cy="443.2" r="0.6"/>
<circle cx="304.4" cy="448.8" r="0.6"/>
<circle cx="314.3" cy="445.8" r="0.6"/>
<circle cx="291.7" cy="446.9" r="0.6"/>
<circle cx="302.6" cy="448.9" r="0.6"/>
<circle cx="361.6" cy="447.7" r="0.6"/>
<circle cx="346.4" cy="441.3" r="0.6"/>
<circle cx="343.0" cy="448.3" r="0.6"/>
<circle cx="372.8" cy="444.5" r="0.6"/>
<circle cx="373.5" cy="448.6" r="0.6"/>
<circle cx="355.0" cy="443.3" r="0.6"/>
<circle cx="379.7" cy="447.1" r="0.6"/>
<circle cx="352.9" cy="449.3" r="0.6"/>
<circle cx="365.1" cy="443.8" r="0.6"/>
<circle cx="355.5" cy="446.8" r="0.6"/>
<circle cx="343.9" cy="448.0" r="0.6"/>
<circle cx="341.5" cy="447.2" r="0.6"/>
<circle cx="345.3" cy="445.3" r="0.6"/>
<circle cx="342.0" cy="450.2" r="0.6"/>
<circle cx="366.6" cy="442.9" r="0.6"/>
<circle cx="350.3" cy="447.4" r="0.6"/>
<circle cx="357.8" cy="449.5" r="0.6"/>
<circle cx="345.1" cy="445.4" r="0.6"/>
<circle cx="378.8" cy="448.0" r="0.6"/>
<circle cx="379.3" cy="445.4" r="0.6"/>
<circle cx="379.0" cy="446.7" r="0.6"/>
<circle cx="351.5" cy="447.2" r="0.6"/>
<circle cx="354.5" cy="447.4" r="0.6"/>
<circle cx="358.4" cy="445.6" r="0.6"/>
<circle cx="359.6" cy="447.3" r="0.6"/>
<circle cx="338.7" cy="447.2" r="0.6"/>
<circle cx="355.2" cy="448.4" r="0.6"/>
<circle cx="340.2" cy="449.5" r="0.6"/>
<circle cx="348.3" cy="447.6" r="0.6"/>
<circle cx="363.0" cy="443.0" r="0.6"/>
<circle cx="366.1" cy="446.5" r="0.6"/>
<circle cx="368.5" cy="449.2" r="0.6"/>
<circle cx="352.2" cy="445.5" r="0.6"/>
<circle cx="379.8" cy="449.8" r="0.6"/>
<circle cx="365.5" cy="450.7" r="0.6"/>
<circle cx="340.3" cy="450.1" r="0.6"/>
<circle cx="364.8" cy="442.6" r="0.6"/>
<circle cx="369.2" cy="447.8" r="0.6"/>
<circle cx="360.4" cy="446.0" r="0.6"/>
<circle cx="359.6" cy="449.7" r="0.6"/>
<circle cx="373.1" cy="443.3" r="0.6"/>
<circle cx="363.0" cy="450.4" r="0.6"/>
<circle cx="367.6" cy="444.8" r="0.6"/>
<circle cx="348.1" cy="448.7" r="0.6"/>
<circle cx="353.6" cy="447.6" r="0.6"/>
<circle cx="342.9" cy="449.0" r="0.6"/>
<circle cx="364.8" cy="444.4" r="0.6"/>
<circle cx="364.7" cy="446.0" r="0.6"/>
<circle cx="338.6" cy="444.6" r="0.6"/>
<circle cx="371.9" cy="447.3" r="0.6"/>
<circle cx="360.9" cy="444.2" r="0.6"/>
<circle cx="366.1" cy="451.2" r="0.6"/>
<circle cx="349.1" cy="449.0" r="0.6"/>
<circle cx="341.6" cy="446.9" r="0.6"/>
<circle cx="347.1" cy="451.5" r="0.6"/>
<circle cx="369.5" cy="450.3" r="0.6"/>
<circle cx="354.5" cy="446.8" r="0.6"/>
<circle cx="358.6" cy="445.5" r="0.6"/>
<circle cx="364.4" cy="443.2" r="0.6"/>
<circle cx="365.4" cy="448.6" r="0.6"/>
<circle cx="349.1" cy="448.0" r="0.6"/>
<circle cx="369.6" cy="446.2" r="0.6"/>
<circle cx="339.0" cy="450.5" r="0.6"/>
<circle cx="341.0" cy="446.8" r="0.6"/>
<circle cx="367.5" cy="451.2" r="0.6"/>
<circle cx="366.8" cy="446.5" r="0.6"/>
<circle cx="358.0" cy="450.3" r="0.6"/>
<circle cx="358.0" cy="451.3" r="0.6"/>
<circle cx="346.8" cy="451.0" r="0.6"/>
<circle cx="379.5" cy="447.7" r="0.6"/>
<circle cx="357.7" cy="447.1" r="0.6"/>
<circle cx="372.9" cy="450.1" r="0.6"/>
<circle cx="349.8" cy="446.7" r="0.6"/>
<circle cx="347.3" cy="449.0" r="0.6"/>
<circle cx="362.9" cy="446.7" r="0.6"/>
<circle cx="344.4" cy="440.9" r="0.6"/>
<circle cx="344.1" cy="446.3" r="0.6"/>
<circle cx="372.9" cy="441.9" r="0.6"/>
<circle cx="368.0" cy="447.0" r="0.6"/>
<circle cx="348.2" cy="449.7" r="0.6"/>
<circle cx="339.5" cy="445.5" r="0.6"/>
<circle cx="338.7" cy="444.5" r="0.6"/>
<circle cx="351.2" cy="447.4" r="0.6"/>
<circle cx="344.4" cy="446.0" r="0.6"/>
<circle cx="373.7" cy="449.2" r="0.6"/>
<circle cx="338.6" cy="447.3" r="0.6"/>
<circle cx="343.5" cy="442.3" r="0.6"/>
<circle cx="377.3" cy="446.0" r="0.6"/>
<circle cx="350.6" cy="441.9" r="0.6"/>
<circle cx="354.1" cy="439.8" r="0.6"/>
<circle cx="363.2" cy="453.2" r="0.6"/>
<circle cx="353.6" cy="445.4" r="0.6"/>
<circle cx="340.5" cy="448.2" r="0.6"/>
<circle cx="342.8" cy="448.4" r="0.6"/>
<circle cx="377.7" cy="445.5" r="0.6"/>
<circle cx="348.9" cy="447.0" r="0.6"/>
<circle cx="346.5" cy="450.4" r="0.6"/>
<circle cx="354.1" cy="452.5" r="0.6"/>
<circle cx="372.5" cy="445.8" r="0.6"/>
<circle cx="364.9" cy="452.6" r="0.6"/>
<circle cx="361.5" cy="444.1" r="0.6"/>
<circle cx="368.7" cy="451.3" r="0.6"/>
<circle cx="357.4" cy="448.6" r="0.6"/>
<circle cx="370.0" cy="446.0" r="0.6"/>
<circle cx="340.6" cy="445.6" r="0.6"/>
<circle cx="377.3" cy="449.3" r="0.6"/>
<circle cx="352.9" cy="449.4" r="0.6"/>
<circle cx="351.0" cy="446.8" r="0.6"/>
<circle cx="349.4" cy="440.2" r="0.6"/>
<circle cx="366.0" cy="446.3" r="0.6"/>
<circle cx="355.0" cy="450.5" r="0.6"/>
<circle cx="345.5" cy="448.2" r="0.6"/>
<circle cx="376.5" cy="448.8" r="0.6"/>
<circle cx="359.3" cy="448.4" r="0.6"/>
<circle cx="380.3" cy="452.9" r="0.6"/>
<circle cx="357.4" cy="448.4" r="0.6"/>
<circle cx="342.3" cy="448.6" r="0.6"/>
<circle cx="352.8" cy="448.9" r="0.6"/>
<circle cx="349.3" cy="448.3" r="0.6"/>
<circle cx="362.4" cy="450.6" r="0.6"/>
<circle cx="355.8" cy="444.5" r="0.6"/>
<circle cx="355.8" cy="444.8" r="0.6"/>
<circle cx="352.7" cy="446.9" r="0.6"/>
<circle cx="341.1" cy="446.1" r="0.6"/>
<circle cx="343.8" cy="454.0" r="0.6"/>
<circle cx="398.4" cy="432.4" r="0.6"/>
<circle cx="396.4" cy="432.2" r="0.6"/>
<circle cx="396.8" cy="436.0" r="0.6"/>
<circle cx="398.0" cy="438.6" r="0.6"/>
<circle cx="401.4" cy="439.1" r="0.6"/>
<circle cx="395.1" cy="431.7" r="0.6"/>
<circle cx="395.2" cy="434.6" r="0.6"/>
<circle cx="398.2" cy="430.6" r="0.6"/>
<circle cx="398.9" cy="438.6" r="0.6"/>
<circle cx="401.2" cy="436.0" r="0.6"/>
<circle cx="400.5" cy="440.3" r="0.6"/>
<circle cx="396.7" cy="430.5" r="0.6"/>
<circle cx="395.7" cy="437.8" r="0.6"/>
<circle cx="399.6" cy="438.6" r="0.6"/>
<circle cx="401.3" cy="435.3" r="0.6"/>
<circle cx="400.1" cy="432.3" r="0.6"/>
<circle cx="398.1" cy="435.3" r="0.6"/>
<circle cx="400.2" cy="435.8" r="0.6"/>
<circle cx="396.6" cy="439.3" r="0.6"/>
<circle cx="397.0" cy="434.2" r="0.6"/>
<circle cx="402.3" cy="440.6" r="0.6"/>
<circle cx="405.1" cy="444.3" r="0.6"/>
<circle cx="402.2" cy="443.5" r="0.6"/>
<circle cx="404.5" cy="442.0" r="0.6"/>
<circle cx="403.6" cy="441.2" r="0.6"/>
<circle cx="401.8" cy="444.1" r="0.6"/>
<circle cx="403.1" cy="434.2" r="0.6"/>
<circle cx="404.8" cy="442.2" r="0.6"/>
<circle cx="405.9" cy="438.7" r="0.6"/>
<circle cx="402.9" cy="440.9" r="0.6"/>
<circle cx="406.3" cy="440.0" r="0.6"/>
<circle cx="401.8" cy="438.5" r="0.6"/>
<circle cx="404.1" cy="439.4" r="0.6"/>
<circle cx="402.9" cy="438.2" r="0.6"/>
<circle cx="410.2" cy="436.9" r="0.6"/>
<circle cx="406.2" cy="434.4" r="0.6"/>
<circle cx="408.1" cy="431.7" r="0.6"/>
<circle cx="407.2" cy="437.1" r="0.6"/>
<circle cx="411.0" cy="435.0" r="0.6"/>
<circle cx="407.3" cy="432.1" r="0.6"/>
<circle cx="412.1" cy="433.4" r="0.6"/>
<circle cx="407.5" cy="439.7" r="0.6"/>
<circle cx="407.4" cy="435.3" r="0.6"/>
<circle cx="412.0" cy="433.0" r="0.6"/>
<circle cx="409.1" cy="435.9" r="0.6"/>
<circle cx="408.6" cy="436.9" r="0.6"/>
<circle cx="410.2" cy="436.6" r="0.6"/>
<circle cx="408.5" cy="434.7" r="0.6"/>
<circle cx="407.3" cy="436.6" r="0.6"/>
<circle cx="406.3" cy="435.0" r="0.6"/>
<circle cx="406.4" cy="430.8" r="0.6"/>
<circle cx="411.6" cy="438.7" r="0.6"/>
<circle cx="427.8" cy="442.2" r="0.6"/>
<circle cx="419.3" cy="436.1" r="0.6"/>
<circle cx="416.2" cy="440.2" r="0.6"/>
<circle cx="413.0" cy="434.5" r="0.6"/>
<circle cx="426.4" cy="434.4" r="0.6"/>
<circle cx="419.3" cy="437.9" r="0.6"/>
<circle cx="415.9" cy="438.3" r="0.6"/>
<circle cx="419.8" cy="436.2" r="0.6"/>
<circle cx="432.6" cy="441.0" r="0.6"/>
<circle cx="416.7" cy="440.9" r="0.6"/>
<circle cx="419.9" cy="438.3" r="0.6"/>
<circle cx="421.5" cy="431.8" r="0.6"/>
<circle cx="413.3" cy="433.7" r="0.6"/>
<circle cx="431.8" cy="436.6" r="0.6"/>
<circle cx="416.4" cy="432.6" r="0.6"/>
<circle cx="412.9" cy="440.4" r="0.6"/>
<circle cx="421.0" cy="437.9" r="0.6"/>
<circle cx="413.2" cy="432.1" r="0.6"/>
<circle cx="413.0" cy="441.6" r="0.6"/>
<circle cx="417.7" cy="438.4" r="0.6"/>
<circle cx="428.1" cy="438.1" r="0.6"/>
<circle cx="418.1" cy="434.8" r="0.6"/>
<circle cx="432.6" cy="434.7" r="0.6"/>
<circle cx="427.5" cy="434.8" r="0.6"/>
<circle cx="419.0" cy="436.2" r="0.6"/>
<circle cx="428.3" cy="436.4" r="0.6"/>
<circle cx="431.7" cy="432.1" r="0.6"/>
<circle cx="412.8" cy="431.6" r="0.6"/>
<circle cx="417.3" cy="429.8" r="0.6"/>
<circle cx="432.5" cy="437.2" r="0.6"/>
<circle cx="420.5" cy="436.2" r="0.6"/>
<circle cx="422.8" cy="439.0" r="0.6"/>
<circle cx="432.0" cy="438.1" r="0.6"/>
<circle cx="428.0" cy="440.5" r="0.6"/>
<circle cx="429.7" cy="436.7" r="0.6"/>
<circle cx="419.2" cy="432.7" r="0.6"/>
<circle cx="419.1" cy="433.3" r="0.6"/>
<circle cx="414.0" cy="439.7" r="0.6"/>
<circle cx="416.5" cy="436.2" r="0.6"/>
<circle cx="413.7" cy="434.2" r="0.6"/>
<circle cx="413.0" cy="434.0" r="0.6"/>
<circle cx="433.1" cy="435.5" r="0.6"/>
<circle cx="431.0" cy="438.2" r="0.6"/>
<circle cx="414.1" cy="436.0" r="0.6"/>
<circle cx="414.3" cy="432.1" r="0.6"/>
<circle cx="421.8" cy="436.2" r="0.6"/>
<circle cx="417.3" cy="433.1" r="0.6"/>
<circle cx="426.6" cy="438.0" r="0.6"/>
<circle cx="428.2" cy="438.4" r="0.6"/>
<circle cx="414.9" cy="433.0" r="0.6"/>
<circle cx="430.1" cy="435.3" r="0.6"/>
<circle cx="420.2" cy="439.4" r="0.6"/>
<circle cx="427.9" cy="436.8" r="0.6"/>
<circle cx="417.5" cy="438.1" r="0.6"/>
<circle cx="415.6" cy="438.8" r="0.6"/>
<circle cx="419.2" cy="433.9" r="0.6"/>
<circle cx="420.7" cy="439.3" r="0.6"/>
<circle cx="417.2" cy="436.1" r="0.6"/>
<circle cx="429.4" cy="431.6" r="0.6"/>
<circle cx="414.5" cy="429.7" r="0.6"/>
<circle cx="422.4" cy="438.3" r="0.6"/>
<circle cx="431.7" cy="431.7" r="0.6"/>
<circle cx="413.2" cy="435.8" r="0.6"/>
<circle cx="435.9" cy="439.8" r="0.6"/>
<circle cx="445.7" cy="433.3" r="0.6"/>
<circle cx="438.2" cy="435.5" r="0.6"/>
<circle cx="444.3" cy="436.6" r="0.6"/>
<circle cx="443.2" cy="439.1" r="0.6"/>
<circle cx="445.3" cy="441.3" r="0.6"/>
<circle cx="441.2" cy="440.7" r="0.6"/>
<circle cx="436.2" cy="437.5" r="0.6"/>
<circle cx="436.0" cy="439.6" r="0.6"/>
<circle cx="436.7" cy="435.4" r="0.6"/>
<circle cx="436.0" cy="436.3" r="0.6"/>
<circle cx="433.6" cy="436.7" r="0.6"/>
<circle cx="435.8" cy="442.0" r="0.6"/>
<circle cx="437.4" cy="439.8" r="0.6"/>
<circle cx="440.4" cy="442.9" r="0.6"/>
<circle cx="434.3" cy="440.6" r="0.6"/>
<circle cx="440.4" cy="440.1" r="0.6"/>
<circle cx="441.5" cy="439.8" r="0.6"/>
<circle cx="442.2" cy="439.3" r="0.6"/>
<circle cx="438.6" cy="438.0" r="0.6"/>
<circle cx="445.4" cy="440.7" r="0.6"/>
<circle cx="437.4" cy="436.3" r="0.6"/>
<circle cx="438.7" cy="437.5" r="0.6"/>
<circle cx="444.3" cy="441.0" r="0.6"/>
<circle cx="436.0" cy="438.4" r="0.6"/>
<circle cx="442.6" cy="438.6" r="0.6"/>
<circle cx="444.8" cy="438.8" r="0.6"/>
<circle cx="438.8" cy="439.6" r="0.6"/>
<circle cx="444.5" cy="436.1" r="0.6"/>
<circle cx="439.3" cy="438.7" r="0.6"/>
<circle cx="440.4" cy="438.9" r="0.6"/>
<circle cx="441.5" cy="439.4" r="0.6"/>
<circle cx="441.3" cy="437.9" r="0.6"/>
<circle cx="438.1" cy="437.0" r="0.6"/>
<circle cx="437.0" cy="438.5" r="0.6"/>
<circle cx="440.0" cy="439.6" r="0.6"/>
<circle cx="439.6" cy="437.9" r="0.6"/>
<circle cx="450.4" cy="446.3" r="0.6"/>
<circle cx="445.8" cy="444.2" r="0.6"/>
<circle cx="451.3" cy="447.6" r="0.6"/>
<circle cx="445.4" cy="444.1" r="0.6"/>
<circle cx="451.2" cy="440.3" r="0.6"/>
<circle cx="449.2" cy="448.2" r="0.6"/>
<circle cx="450.5" cy="447.0" r="0.6"/>
<circle cx="446.5" cy="448.5" r="0.6"/>
<circle cx="447.7" cy="447.4" r="0.6"/>
<circle cx="446.2" cy="440.6" r="0.6"/>
<circle cx="446.5" cy="442.1" r="0.6"/>
<circle cx="447.6" cy="446.5" r="0.6"/>
<circle cx="445.8" cy="444.7" r="0.6"/>
<circle cx="451.0" cy="448.8" r="0.6"/>
<circle cx="445.3" cy="440.6" r="0.6"/>
<circle cx="445.3" cy="442.9" r="0.6"/>
<circle cx="450.6" cy="447.2" r="0.6"/>
<circle cx="448.7" cy="447.0" r="0.6"/>
<circle cx="449.2" cy="443.7" r="0.6"/>
<circle cx="448.9" cy="447.1" r="0.6"/>
<circle cx="471.7" cy="438.5" r="0.6"/>
<circle cx="472.3" cy="437.6" r="0.6"/>
<circle cx="451.9" cy="437.8" r="0.6"/>
<circle cx="462.3" cy="438.0" r="0.6"/>
<circle cx="488.2" cy="440.5" r="0.6"/>
<circle cx="459.6" cy="437.2" r="0.6"/>
<circle cx="474.0" cy="441.1" r="0.6"/>
<circle cx="471.9" cy="440.8" r="0.6"/>
<circle cx="455.3" cy="437.1" r="0.6"/>
<circle cx="452.8" cy="441.1" r="0.6"/>
<circle cx="482.0" cy="443.7" r="0.6"/>
<circle cx="488.9" cy="442.1" r="0.6"/>
<circle cx="475.9" cy="442.9" r="0.6"/>
<circle cx="469.3" cy="441.0" r="0.6"/>
<circle cx="497.4" cy="443.4" r="0.6"/>
<circle cx="499.6" cy="443.9" r="0.6"/>
<circle cx="486.7" cy="440.7" r="0.6"/>
<circle cx="498.9" cy="438.4" r="0.6"/>
<circle cx="474.9" cy="445.6" r="0.6"/>
<circle cx="458.9" cy="438.4" r="0.6"/>
<circle cx="489.4" cy="440.9" r="0.6"/>
<circle cx="468.0" cy="439.6" r="0.6"/>
<circle cx="487.9" cy="443.0" r="0.6"/>
<circle cx="464.3" cy="444.7" r="0.6"/>
<circle cx="490.8" cy="441.9" r="0.6"/>
<circle cx="495.9" cy="442.4" r="0.6"/>
<circle cx="461.0" cy="439.8" r="0.6"/>
<circle cx="466.4" cy="443.1" r="0.6"/>
<circle cx="452.6" cy="440.6" r="0.6"/>
<circle cx="496.7" cy="441.4" r="0.6"/>
<circle cx="484.1" cy="441.3" r="0.6"/>
<circle cx="489.3" cy="439.0" r="0.6"/>
<circle cx="456.4" cy="436.4" r="0.6"/>
<circle cx="468.4" cy="439.3" r="0.6"/>
<circle cx="493.6" cy="436.8" r="0.6"/>
<circle cx="494.0" cy="438.8" r="0.6"/>
<circle cx="455.9" cy="443.7" r="0.6"/>
<circle cx="470.1" cy="439.8" r="0.6"/>
<circle cx="489.9" cy="439.3" r="0.6"/>
<circle cx="479.1" cy="447.9" r="0.6"/>
<circle cx="468.5" cy="440.3" r="0.6"/>
<circle cx="459.5" cy="437.2" r="0.6"/>
<circle cx="487.2" cy="444.6" r="0.6"/>
<circle cx="463.2" cy="441.4" r="0.6"/>
<circle cx="482.1" cy="443.4" r="0.6"/>
<circle cx="483.3" cy="439.7" r="0.6"/>
<circle cx="466.1" cy="440.7" r="0.6"/>
<circle cx="458.1" cy="440.0" r="0.6"/>
<circle cx="481.0" cy="437.2" r="0.6"/>
<circle cx="494.7" cy="441.3" r="0.6"/>
<circle cx="457.3" cy="440.5" r="0.6"/>
<circle cx="451.9" cy="443.7" r="0.6"/>
<circle cx="450.9" cy="439.2" r="0.6"/>
<circle cx="468.3" cy="441.0" r="0.6"/>
<circle cx="461.8" cy="437.0" r="0.6"/>
<circle cx="460.8" cy="438.3" r="0.6"/>
<circle cx="481.4" cy="438.6" r="0.6"/>
<circle cx="496.7" cy="440.2" r="0.6"/>
<circle cx="462.7" cy="440.7" r="0.6"/>
<circle cx="482.1" cy="440.9" r="0.6"/>
<circle cx="493.5" cy="440.5" r="0.6"/>
<circle cx="463.7" cy="437.4" r="0.6"/>
<circle cx="451.4" cy="438.0" r="0.6"/>
<circle cx="468.0" cy="437.4" r="0.6"/>
<circle cx="482.4" cy="434.3" r="0.6"/>
<circle cx="486.7" cy="442.1" r="0.6"/>
<circle cx="463.0" cy="440.6" r="0.6"/>
<circle cx="476.8" cy="439.6" r="0.6"/>
<circle cx="470.7" cy="440.1" r="0.6"/>
<circle cx="489.0" cy="440.9" r="0.6"/>
<circle cx="451.4" cy="434.1" r="0.6"/>
<circle cx="457.8" cy="438.1" r="0.6"/>
<circle cx="460.6" cy="437.6" r="0.6"/>
<circle cx="482.2" cy="438.1" r="0.6"/>
<circle cx="490.7" cy="441.0" r="0.6"/>
<circle cx="465.5" cy="442.0" r="0.6"/>
<circle cx="453.2" cy="443.5" r="0.6"/>
<circle cx="485.9" cy="437.1" r="0.6"/>
<circle cx="451.1" cy="442.4" r="0.6"/>
<circle cx="473.6" cy="436.4" r="0.6"/>
<circle cx="487.1" cy="438.2" r="0.6"/>
<circle cx="456.0" cy="440.5" r="0.6"/>
<circle cx="462.2" cy="442.3" r="0.6"/>
<circle cx="487.5" cy="440.6" r="0.6"/>
<circle cx="484.9" cy="442.3" r="0.6"/>
<circle cx="463.8" cy="436.6" r="0.6"/>
<circle cx="477.9" cy="435.8" r="0.6"/>
<circle cx="476.4" cy="441.8" r="0.6"/>
<circle cx="463.8" cy="435.8" r="0.6"/>
<circle cx="461.4" cy="434.8" r="0.6"/>
<circle cx="493.9" cy="442.0" r="0.6"/>
<circle cx="462.4" cy="440.2" r="0.6"/>
<circle cx="487.3" cy="444.0" r="0.6"/>
<circle cx="466.8" cy="438.5" r="0.6"/>
<circle cx="493.9" cy="439.1" r="0.6"/>
<circle cx="495.3" cy="441.7" r="0.6"/>
<circle cx="481.7" cy="438.6" r="0.6"/>
<circle cx="498.8" cy="436.4" r="0.6"/>
<circle cx="473.8" cy="442.1" r="0.6"/>
<circle cx="492.8" cy="436.6" r="0.6"/>
<circle cx="472.2" cy="439.5" r="0.6"/>
<circle cx="465.9" cy="436.7" r="0.6"/>
<circle cx="461.2" cy="439.2" r="0.6"/>
<circle cx="495.4" cy="439.3" r="0.6"/>
<circle cx="457.9" cy="441.2" r="0.6"/>
<circle cx="496.3" cy="440.2" r="0.6"/>
<circle cx="467.7" cy="440.4" r="0.6"/>
<circle cx="452.8" cy="440.5" r="0.6"/>
<circle cx="484.7" cy="437.3" r="0.6"/>
<circle cx="486.9" cy="437.0" r="0.6"/>
<circle cx="454.0" cy="437.9" r="0.6"/>
<circle cx="490.9" cy="438.7" r="0.6"/>
<circle cx="491.0" cy="440.7" r="0.6"/>
<circle cx="493.3" cy="439.4" r="0.6"/>
<circle cx="495.6" cy="441.2" r="0.6"/>
<circle cx="460.9" cy="439.6" r="0.6"/>
<circle cx="456.3" cy="444.9" r="0.6"/>
<circle cx="490.6" cy="441.1" r="0.6"/>
<circle cx="481.9" cy="441.7" r="0.6"/>
<circle cx="464.9" cy="436.7" r="0.6"/>
<circle cx="455.7" cy="443.6" r="0.6"/>
<circle cx="460.8" cy="442.5" r="0.6"/>
<circle cx="466.4" cy="439.5" r="0.6"/>
<circle cx="463.4" cy="440.2" r="0.6"/>
<circle cx="464.6" cy="439.5" r="0.6"/>
<circle cx="466.5" cy="437.6" r="0.6"/>
<circle cx="498.0" cy="434.9" r="0.6"/>
<circle cx="481.1" cy="439.9" r="0.6"/>
<circle cx="452.3" cy="437.6" r="0.6"/>
<circle cx="488.7" cy="441.4" r="0.6"/>
<circle cx="467.8" cy="439.1" r="0.6"/>
<circle cx="461.4" cy="436.9" r="0.6"/>
<circle cx="493.0" cy="444.0" r="0.6"/>
<circle cx="459.1" cy="442.6" r="0.6"/>
<circle cx="450.9" cy="441.3" r="0.6"/>
<circle cx="498.7" cy="444.2" r="0.6"/>
<circle cx="451.0" cy="437.0" r="0.6"/>
<circle cx="489.8" cy="440.2" r="0.6"/>
<circle cx="459.8" cy="437.6" r="0.6"/>
<circle cx="491.6" cy="440.1" r="0.6"/>
<circle cx="463.6" cy="442.0" r="0.6"/>
<circle cx="461.3" cy="439.3" r="0.6"/>
<circle cx="485.1" cy="438.7" r="0.6"/>
<circle cx="482.0" cy="440.0" r="0.6"/>
<circle cx="454.8" cy="440.9" r="0.6"/>
<circle cx="489.4" cy="436.1" r="0.6"/>
<circle cx="481.6" cy="438.4" r="0.6"/>
<circle cx="332.5" cy="455.2" r="0.6"/>
<circle cx="379.6" cy="459.2" r="0.6"/>
<circle cx="297.4" cy="456.3" r="0.6"/>
<circle cx="314.6" cy="451.3" r="0.6"/>
<circle cx="342.6" cy="460.6" r="0.6"/>
<circle cx="331.0" cy="454.2" r="0.6"/>
<circle cx="338.8" cy="450.1" r="0.6"/>
<circle cx="345.5" cy="452.2" r="0.6"/>
<circle cx="356.4" cy="445.3" r="0.6"/>
<circle cx="328.1" cy="450.9" r="0.6"/>
<circle cx="375.1" cy="454.1" r="0.6"/>
<circle cx="357.9" cy="451.9" r="0.6"/>
<circle cx="336.7" cy="449.6" r="0.6"/>
<circle cx="368.5" cy="450.2" r="0.6"/>
<circle cx="338.9" cy="451.0" r="0.6"/>
<circle cx="379.1" cy="452.2" r="0.6"/>
<circle cx="323.6" cy="454.6" r="0.6"/>
<circle cx="361.8" cy="453.3" r="0.6"/>
<circle cx="309.8" cy="450.1" r="0.6"/>
<circle cx="318.5" cy="449.8" r="0.6"/>
<circle cx="310.3" cy="456.3" r="0.6"/>
<circle cx="326.2" cy="456.0" r="0.6"/>
<circle cx="364.2" cy="462.1" r="0.6"/>
<circle cx="304.7" cy="453.8" r="0.6"/>
<circle cx="331.5" cy="451.6" r="0.6"/>
<circle cx="388.5" cy="453.8" r="0.6"/>
<circle cx="336.3" cy="445.8" r="0.6"/>
<circle cx="313.6" cy="450.8" r="0.6"/>
<circle cx="314.6" cy="450.6" r="0.6"/>
<circle cx="331.9" cy="455.9" r="0.6"/>
<circle cx="370.1" cy="452.9" r="0.6"/>
<circle cx="360.9" cy="446.3" r="0.6"/>
<circle cx="339.0" cy="452.0" r="0.6"/>
<circle cx="308.5" cy="448.8" r="0.6"/>
<circle cx="365.4" cy="449.5" r="0.6"/>
<circle cx="381.3" cy="447.3" r="0.6"/>
<circle cx="366.2" cy="454.2" r="0.6"/>
<circle cx="335.0" cy="452.9" r="0.6"/>
<circle cx="378.6" cy="458.3" r="0.6"/>
<circle cx="368.5" cy="449.6" r="0.6"/>
<circle cx="359.6" cy="444.6" r="0.6"/>
<circle cx="355.9" cy="448.7" r="0.6"/>
<circle cx="354.7" cy="453.0" r="0.6"/>
<circle cx="304.3" cy="445.9" r="0.6"/>
<circle cx="362.7" cy="455.4" r="0.6"/>
<circle cx="354.8" cy="452.0" r="0.6"/>
<circle cx="338.2" cy="456.2" r="0.6"/>
<circle cx="354.0" cy="446.9" r="0.6"/>
<circle cx="383.4" cy="455.2" r="0.6"/>
<circle cx="312.4" cy="448.1" r="0.6"/>
<circle cx="331.9" cy="446.3" r="0.6"/>
<circle cx="341.5" cy="453.1" r="0.6"/>
<circle cx="346.6" cy="451.8" r="0.6"/>
<circle cx="310.3" cy="453.9" r="0.6"/>
<circle cx="344.3" cy="442.7" r="0.6"/>
<circle cx="304.6" cy="447.5" r="0.6"/>
<circle cx="363.1" cy="449.7" r="0.6"/>
<circle cx="343.7" cy="447.2" r="0.6"/>
<circle cx="344.6" cy="446.2" r="0.6"/>
<circle cx="334.0" cy="454.6" r="0.6"/>
<circle cx="360.0" cy="451.1" r="0.6"/>
<circle cx="332.3" cy="452.2" r="0.6"/>
<circle cx="388.5" cy="450.0" r="0.6"/>
<circle cx="328.8" cy="455.0" r="0.6"/>
<circle cx="333.0" cy="453.1" r="0.6"/>
<circle cx="296.3" cy="448.4" r="0.6"/>
<circle cx="361.3" cy="454.0" r="0.6"/>
<circle cx="328.5" cy="451.7" r="0.6"/>
<circle cx="365.4" cy="454.8" r="0.6"/>
<circle cx="384.3" cy="449.2" r="0.6"/>
<circle cx="371.1" cy="451.5" r="0.6"/>
<circle cx="332.2" cy="452.5" r="0.6"/>
<circle cx="368.8" cy="454.0" r="0.6"/>
<circle cx="371.9" cy="449.0" r="0.6"/>
<circle cx="348.4" cy="448.6" r="0.6"/>
<circle cx="316.5" cy="455.6" r="0.6"/>
<circle cx="355.7" cy="451.2" r="0.6"/>
<circle cx="372.8" cy="453.8" r="0.6"/>
<circle cx="323.0" cy="447.9" r="0.6"/>
<circle cx="347.1" cy="457.4" r="0.6"/>
<circle cx="328.7" cy="457.4" r="0.6"/>
<circle cx="375.8" cy="451.6" r="0.6"/>
<circle cx="319.1" cy="455.9" r="0.6"/>
<circle cx="335.5" cy="452.1" r="0.6"/>
<circle cx="363.6" cy="452.3" r="0.6"/>
<circle cx="321.7" cy="452.1" r="0.6"/>
<circle cx="340.6" cy="455.4" r="0.6"/>
<circle cx="335.7" cy="448.2" r="0.6"/>
<circle cx="329.4" cy="447.5" r="0.6"/>
<circle cx="383.2" cy="452.8" r="0.6"/>
<circle cx="373.7" cy="450.9" r="0.6"/>
<circle cx="381.1" cy="452.5" r="0.6"/>
<circle cx="374.0" cy="449.8" r="0.6"/>
<circle cx="355.2" cy="452.6" r="0.6"/>
<circle cx="385.4" cy="452.1" r="0.6"/>
<circle cx="357.3" cy="452.0" r="0.6"/>
<circle cx="308.6" cy="453.9" r="0.6"/>
<circle cx="317.2" cy="452.6" r="0.6"/>
<circle cx="309.5" cy="448.4" r="0.6"/>
<circle cx="380.9" cy="452.6" r="0.6"/>
<circle cx="379.7" cy="449.7" r="0.6"/>
<circle cx="352.8" cy="453.2" r="0.6"/>
<circle cx="379.9" cy="446.2" r="0.6"/>
<circle cx="369.9" cy="453.4" r="0.6"/>
<circle cx="360.8" cy="449.7" r="0.6"/>
<circle cx="345.4" cy="451.8" r="0.6"/>
<circle cx="378.9" cy="447.7" r="0.6"/>
<circle cx="347.7" cy="451.7" r="0.6"/>
<circle cx="308.2" cy="454.9" r="0.6"/>
<circle cx="341.8" cy="456.2" r="0.6"/>
<circle cx="308.7" cy="453.6" r="0.6"/>
<circle cx="341.7" cy="447.0" r="0.6"/>
<circle cx="377.0" cy="452.1" r="0.6"/>
<circle cx="295.6" cy="454.4" r="0.6"/>
<circle cx="348.4" cy="448.2" r="0.6"/>
<circle cx="358.2" cy="454.1" r="0.6"/>
<circle cx="334.8" cy="448.7" r="0.6"/>
<circle cx="386.3" cy="457.1" r="0.6"/>
<circle cx="355.4" cy="454.6" r="0.6"/>
<circle cx="297.7" cy="447.3" r="0.6"/>
<circle cx="383.5" cy="448.1" r="0.6"/>
<circle cx="326.4" cy="456.8" r="0.6"/>
<circle cx="341.0" cy="451.5" r="0.6"/>
<circle cx="380.3" cy="458.2" r="0.6"/>
<circle cx="354.4" cy="453.3" r="0.6"/>
<circle cx="327.2" cy="454.5" r="0.6"/>
<circle cx="340.1" cy="449.1" r="0.6"/>
<circle cx="344.9" cy="452.4" r="0.6"/>
<circle cx="336.3" cy="449.3" r="0.6"/>
<circle cx="335.1" cy="444.9" r="0.6"/>
<circle cx="322.8" cy="449.5" r="0.6"/>
<circle cx="373.6" cy="448.1" r="0.6"/>
<circle cx="320.8" cy="454.7" r="0.6"/>
<circle cx="343.1" cy="457.8" r="0.6"/>
<circle cx="370.2" cy="451.1" r="0.6"/>
<circle cx="326.4" cy="450.6" r="0.6"/>
<circle cx="350.7" cy="455.1" r="0.6"/>
<circle cx="355.3" cy="452.2" r="0.6"/>
<circle cx="363.7" cy="450.9" r="0.6"/>
<circle cx="379.1" cy="450.8" r="0.6"/>
<circle cx="344.1" cy="455.1" r="0.6"/>
<circle cx="318.7" cy="474.4" r="0.6"/>
<circle cx="415.0" cy="468.8" r="0.6"/>
<circle cx="456.5" cy="474.1" r="0.6"/>
<circle cx="415.7" cy="468.0" r="0.6"/>
<circle cx="419.2" cy="469.6" r="0.6"/>
<circle cx="412.2" cy="469.3" r="0.6"/>
<circle cx="323.9" cy="469.0" r="0.6"/>
<circle cx="380.3" cy="471.0" r="0.6"/>
<circle cx="298.3" cy="458.8" r="0.6"/>
<circle cx="283.5" cy="471.3" r="0.6"/>
<circle cx="485.2" cy="468.8" r="0.6"/>
<circle cx="359.8" cy="472.3" r="0.6"/>
<circle cx="455.9" cy="466.8" r="0.6"/>
<circle cx="334.3" cy="461.3" r="0.6"/>
<circle cx="372.0" cy="461.7" r="0.6"/>
<circle cx="374.1" cy="468.5" r="0.6"/>
<circle cx="489.8" cy="456.1" r="0.6"/>
<circle cx="405.5" cy="455.8" r="0.6"/>
<circle cx="302.3" cy="472.0" r="0.6"/>
<circle cx="407.3" cy="474.3" r="0.6"/>
<circle cx="377.7" cy="455.3" r="0.6"/>
<circle cx="364.0" cy="467.4" r="0.6"/>
<circle cx="490.7" cy="475.6" r="0.6"/>
<circle cx="384.4" cy="463.7" r="0.6"/>
<circle cx="298.5" cy="468.5" r="0.6"/>
<circle cx="323.8" cy="458.2" r="0.6"/>
<circle cx="278.6" cy="455.1" r="0.6"/>
<circle cx="432.3" cy="457.6" r="0.6"/>
<circle cx="497.3" cy="456.9" r="0.6"/>
<circle cx="475.0" cy="457.7" r="0.6"/>
<circle cx="279.1" cy="470.1" r="0.6"/>
<circle cx="330.7" cy="470.4" r="0.6"/>
<circle cx="318.1" cy="456.1" r="0.6"/>
<circle cx="453.0" cy="470.0" r="0.6"/>
<circle cx="471.8" cy="470.3" r="0.6"/>
<circle cx="294.4" cy="468.2" r="0.6"/>
<circle cx="438.1" cy="464.7" r="0.6"/>
<circle cx="489.4" cy="460.3" r="0.6"/>
<circle cx="496.8" cy="470.1" r="0.6"/>
<circle cx="277.6" cy="455.3" r="0.6"/>
<circle cx="424.7" cy="472.2" r="0.6"/>
<circle cx="293.3" cy="461.5" r="0.6"/>
<circle cx="442.8" cy="458.5" r="0.6"/>
<circle cx="473.0" cy="465.2" r="0.6"/>
<circle cx="288.7" cy="462.7" r="0.6"/>
<circle cx="407.2" cy="464.2" r="0.6"/>
<circle cx="430.7" cy="458.0" r="0.6"/>
<circle cx="458.4" cy="462.6" r="0.6"/>
<circle cx="423.3" cy="468.2" r="0.6"/>
</g>
<line x1="391.20" y1="415.40" x2="391.20" y2="479.70" stroke="#f8d470" stroke-width="2.5" />
<line x1="390.90" y1="415.40" x2="390.90" y2="479.70" stroke="#eea82a" stroke-width="0.9" />
<line x1="274.50" y1="440.20" x2="290.80" y2="440.20" stroke="#c0244a" stroke-width="1.3" />
<line x1="290.80" y1="444.70" x2="337.80" y2="444.70" stroke="#c0244a" stroke-width="1.3" />
<line x1="338.50" y1="447.30" x2="380.40" y2="447.30" stroke="#c0244a" stroke-width="1.3" />
<line x1="395.00" y1="436.00" x2="401.70" y2="436.00" stroke="#c0244a" stroke-width="1.3" />
<line x1="401.70" y1="440.60" x2="406.50" y2="440.60" stroke="#c0244a" stroke-width="1.3" />
<line x1="406.00" y1="435.20" x2="412.30" y2="435.20" stroke="#c0244a" stroke-width="1.3" />
<line x1="412.30" y1="436.20" x2="433.50" y2="436.20" stroke="#c0244a" stroke-width="1.3" />
<line x1="433.50" y1="438.50" x2="446.00" y2="438.50" stroke="#c0244a" stroke-width="1.3" />
<line x1="445.00" y1="444.60" x2="451.70" y2="444.60" stroke="#c0244a" stroke-width="1.3" />
<line x1="450.80" y1="440.00" x2="499.80" y2="440.00" stroke="#c0244a" stroke-width="1.3" />
<line x1="380.60" y1="440.60" x2="383.00" y2="440.60" stroke="#a8203f" stroke-width="1.2" />
<line x1="385.00" y1="442.20" x2="388.30" y2="442.20" stroke="#a8203f" stroke-width="1.2" />
<line x1="387.30" y1="438.40" x2="389.40" y2="438.40" stroke="#a8203f" stroke-width="1.2" />
<line x1="390.00" y1="416.60" x2="393.00" y2="416.60" stroke="#d2561c" stroke-width="1.2" />
<line x1="390.00" y1="423.50" x2="393.00" y2="423.50" stroke="#d2561c" stroke-width="1.2" />
<line x1="389.80" y1="426.80" x2="393.50" y2="426.80" stroke="#d2561c" stroke-width="1.2" />
<line x1="390.00" y1="430.40" x2="393.00" y2="430.40" stroke="#d2561c" stroke-width="1.2" />
<line x1="389.80" y1="435.50" x2="392.50" y2="435.50" stroke="#d2561c" stroke-width="1.2" />
<rect x="274.50" y="485.20" width="43.70" height="6.60" fill="#3f4f60" />
<rect x="318.20" y="485.20" width="84.90" height="6.60" fill="#d2d2d2" />
<rect x="403.10" y="485.20" width="55.70" height="6.60" fill="#3f4f60" />
<rect x="458.80" y="485.20" width="49.50" height="6.60" fill="#d2d2d2" />
<text x="296.60" y="490.70" font-size="6.2" text-anchor="middle" style="fill:#fff;stroke:#fff">11qC</text>
<text x="360.60" y="490.70" font-size="6.2" text-anchor="middle">11qD</text>
<text x="431.00" y="490.70" font-size="6.2" text-anchor="middle" style="fill:#fff;stroke:#fff">11qE1</text>
<text x="483.50" y="490.70" font-size="6.2" text-anchor="middle">11qE2</text>
<text x="239.50" y="516.20" font-size="10.8" font-weight="bold" style="fill:#000;stroke:#000">F</text>
<text x="257.00" y="525.10" font-size="6.7" textLength="24.20" lengthAdjust="spacingAndGlyphs">SCR009</text>
<text x="313.70" y="525.10" font-size="6.7" font-style="italic" style="fill:#4a86c0;stroke:#4a86c0" textLength="21.30" lengthAdjust="spacingAndGlyphs">Nup214</text>
<text x="437.00" y="524.80" font-size="6.7" font-style="italic" style="fill:#d2436a;stroke:#d2436a" textLength="12.60" lengthAdjust="spacingAndGlyphs">Abl1</text>
<line x1="262.00" y1="528.00" x2="386.30" y2="528.00" stroke="#9dbcda" stroke-width="1.0" />
<line x1="386.30" y1="528.00" x2="498.80" y2="528.00" stroke="#e69ab0" stroke-width="0.9" />
<path d="M384.0 522.4 L388.6 522.4 L386.3 526.4 Z" fill="#c8102e"/>
<text x="250.00" y="537.60" font-size="6.5" textLength="35.50" lengthAdjust="spacingAndGlyphs">WD40 repeat</text>
<text x="292.50" y="537.60" font-size="6.5" textLength="27.50" lengthAdjust="spacingAndGlyphs">Coiled-coil</text>
<text x="328.80" y="537.60" font-size="6.5" textLength="40.00" lengthAdjust="spacingAndGlyphs">Leucine-zipper</text>
<text x="377.00" y="537.60" font-size="6.5" textLength="30.50" lengthAdjust="spacingAndGlyphs">FG repeats</text>
<text x="413.80" y="537.60" font-size="6.5" textLength="12.50" lengthAdjust="spacingAndGlyphs">SH3</text>
<text x="433.80" y="537.60" font-size="6.5" textLength="12.50" lengthAdjust="spacingAndGlyphs">SH2</text>
<text x="449.60" y="537.60" font-size="6.5" textLength="39.40" lengthAdjust="spacingAndGlyphs">Tyrosine kinase</text>
<text x="497.00" y="537.60" font-size="6.5" textLength="16.00" lengthAdjust="spacingAndGlyphs">FABD</text>
<rect x="262.10" y="546.30" width="237.30" height="6.10" fill="#fff" stroke="#444" stroke-width="0.6"/>
<rect x="266.30" y="546.60" width="31.20" height="5.50" fill="#f08a1c" />
<rect x="304.00" y="546.60" width="27.00" height="5.50" fill="#285985" />
<rect x="331.00" y="546.60" width="1.20" height="5.50" fill="#7fa7a0" />
<text x="317.50" y="551.40" font-size="5.3" text-anchor="middle" style="fill:#fff;stroke:#fff">UL36</text>
<rect x="332.00" y="546.60" width="3.50" height="5.50" fill="#46ad4c" />
<rect x="335.50" y="546.60" width="2.00" height="5.50" fill="#c8203c" />
<rect x="337.70" y="546.60" width="8.60" height="5.50" fill="#46ad4c" />
<rect x="346.30" y="546.60" width="3.20" height="5.50" fill="#9b1a2e" />
<rect x="363.00" y="546.60" width="23.00" height="5.50" fill="#285985" />
<text x="372.00" y="551.40" font-size="5.3" text-anchor="middle" style="fill:#fff;stroke:#fff">UL36</text>
<line x1="381.00" y1="546.60" x2="381.00" y2="552.10" stroke="#c8d8ea" stroke-width="0.7" />
<rect x="394.50" y="546.60" width="5.00" height="5.50" fill="#cfe3b6" stroke="#555" stroke-width="0.4"/>
<rect x="400.00" y="546.60" width="10.50" height="5.50" fill="#dfe6c6" stroke="#555" stroke-width="0.4"/>
<rect x="411.00" y="546.60" width="26.00" height="5.50" fill="#c8143c" />
<rect x="486.60" y="546.60" width="12.60" height="5.50" fill="#b8722e" />
<line x1="321.60" y1="539.40" x2="333.80" y2="546.30" stroke="#231f20" stroke-width="0.5" />
<line x1="321.60" y1="539.40" x2="336.80" y2="546.30" stroke="#231f20" stroke-width="0.5" />
<line x1="345.20" y1="539.40" x2="338.00" y2="546.30" stroke="#231f20" stroke-width="0.5" />
<line x1="345.20" y1="539.40" x2="347.90" y2="546.30" stroke="#231f20" stroke-width="0.5" />
<line x1="381.50" y1="539.00" x2="381.00" y2="546.30" stroke="#231f20" stroke-width="0.5" />
<line x1="414.60" y1="538.80" x2="399.20" y2="546.30" stroke="#231f20" stroke-width="0.5" />
<line x1="433.00" y1="538.80" x2="405.40" y2="546.30" stroke="#231f20" stroke-width="0.5" />
<line x1="448.50" y1="538.80" x2="428.50" y2="546.30" stroke="#231f20" stroke-width="0.5" />
<line x1="497.50" y1="538.80" x2="490.00" y2="546.30" stroke="#231f20" stroke-width="0.5" />
<line x1="262.10" y1="557.50" x2="500.50" y2="557.50" stroke="#231f20" stroke-width="1.1" />
<line x1="262.10" y1="557.50" x2="262.10" y2="559.90" stroke="#231f20" stroke-width="0.6" />
<text x="262.10" y="567.50" font-size="6.3" text-anchor="middle">0</text>
<line x1="282.01" y1="557.50" x2="282.01" y2="559.90" stroke="#231f20" stroke-width="0.6" />
<text x="282.01" y="567.50" font-size="6.3" text-anchor="middle">200</text>
<line x1="301.92" y1="557.50" x2="301.92" y2="559.90" stroke="#231f20" stroke-width="0.6" />
<text x="301.92" y="567.50" font-size="6.3" text-anchor="middle">400</text>
<line x1="321.83" y1="557.50" x2="321.83" y2="559.90" stroke="#231f20" stroke-width="0.6" />
<text x="321.83" y="567.50" font-size="6.3" text-anchor="middle">600</text>
<line x1="341.74" y1="557.50" x2="341.74" y2="559.90" stroke="#231f20" stroke-width="0.6" />
<text x="341.74" y="567.50" font-size="6.3" text-anchor="middle">800</text>
<line x1="361.65" y1="557.50" x2="361.65" y2="559.90" stroke="#231f20" stroke-width="0.6" />
<text x="361.65" y="567.50" font-size="6.3" text-anchor="middle">1000</text>
<line x1="381.56" y1="557.50" x2="381.56" y2="559.90" stroke="#231f20" stroke-width="0.6" />
<text x="381.56" y="567.50" font-size="6.3" text-anchor="middle">1200</text>
<line x1="401.47" y1="557.50" x2="401.47" y2="559.90" stroke="#231f20" stroke-width="0.6" />
<text x="401.47" y="567.50" font-size="6.3" text-anchor="middle">1400</text>
<line x1="421.38" y1="557.50" x2="421.38" y2="559.90" stroke="#231f20" stroke-width="0.6" />
<text x="421.38" y="567.50" font-size="6.3" text-anchor="middle">1600</text>
<line x1="441.29" y1="557.50" x2="441.29" y2="559.90" stroke="#231f20" stroke-width="0.6" />
<text x="441.29" y="567.50" font-size="6.3" text-anchor="middle">1800</text>
<line x1="461.20" y1="557.50" x2="461.20" y2="559.90" stroke="#231f20" stroke-width="0.6" />
<text x="461.20" y="567.50" font-size="6.3" text-anchor="middle">2000</text>
<line x1="481.11" y1="557.50" x2="481.11" y2="559.90" stroke="#231f20" stroke-width="0.6" />
<text x="479.31" y="567.50" font-size="6.3" text-anchor="middle">2200</text>
<line x1="499.92" y1="557.50" x2="499.92" y2="559.90" stroke="#231f20" stroke-width="0.6" />
<text x="501.22" y="567.50" font-size="6.3" text-anchor="middle">2389</text>
<text x="343.00" y="579.00" font-size="7.4" textLength="64.00" lengthAdjust="spacingAndGlyphs">NUP214::ABL1 (2 399 aa)</text>
<text x="335.7" y="588.6" font-size="7.4" textLength="84.3" lengthAdjust="spacingAndGlyphs"><tspan font-style="italic">Nup214</tspan> (exon 28)::<tspan font-style="italic">Abl1</tspan> (exon 2)</text>
<rect x="0" y="0" width="520" height="1" fill="#5a5a5a"/>
<rect x="0" y="0" width="1" height="598" fill="#444"/>
<rect x="519" y="0" width="1" height="598" fill="#262626"/>
<rect x="0" y="597" width="520" height="1" fill="#303030"/>
</svg>
</body></html>
